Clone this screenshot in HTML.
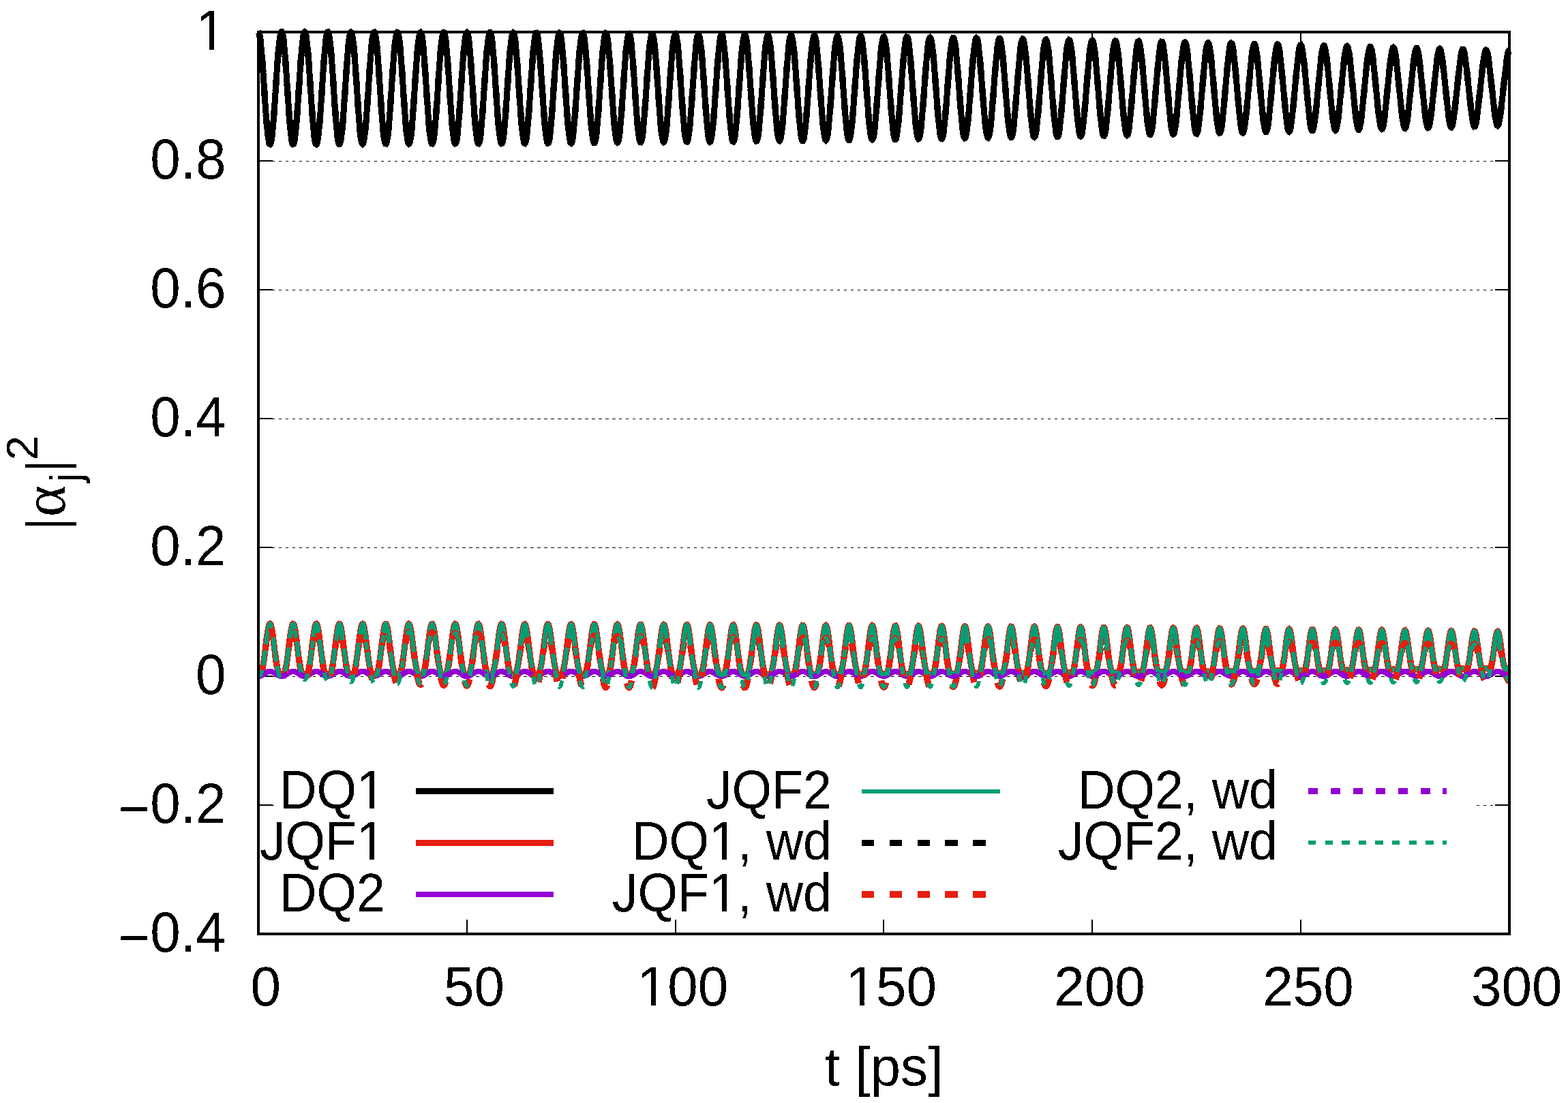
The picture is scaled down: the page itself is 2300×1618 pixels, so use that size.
<!DOCTYPE html>
<html lang="en"><head><meta charset="utf-8">
<style>
html,body{margin:0;padding:0;background:#fff;}
body{width:2300px;height:1618px;overflow:hidden;}
svg{display:block;}
text{font-family:"Liberation Sans", sans-serif;fill:#000;}
.tk{font-size:80px;}
.kl{font-size:75.3px;text-anchor:end;}
.cv{fill:none;stroke-linejoin:miter;stroke-miterlimit:10;stroke-linecap:butt;}
</style></head><body>
<svg width="2300" height="1618" viewBox="0 0 2300 1618">
<defs><filter id="crisp" x="-5%" y="-5%" width="110%" height="110%" color-interpolation-filters="sRGB"><feComponentTransfer><feFuncA type="discrete" tableValues="0 1"/></feComponentTransfer></filter><clipPath id="cp_t1" clipPathUnits="userSpaceOnUse"><path clip-rule="evenodd" d="M-3000-3000H3000V3000H-3000ZM-37.47 -5.83H-22.94V3.00H-37.47ZM-16.29 -5.83H-2.35V3.00H-16.29Z"/></clipPath><clipPath id="cp_t2" clipPathUnits="userSpaceOnUse"><path clip-rule="evenodd" d="M-3000-3000H3000V3000H-3000ZM-170.09 -52.95H-158.99V-45.87H-170.09ZM-37.47 -5.83H-22.94V3.00H-37.47ZM-16.29 -5.83H-2.35V3.00H-16.29Z"/></clipPath><clipPath id="cp_t4" clipPathUnits="userSpaceOnUse"><path clip-rule="evenodd" d="M-3000-3000H3000V3000H-3000ZM-170.09 -52.95H-158.99V-45.87H-170.09Z"/></clipPath><clipPath id="cp_t5" clipPathUnits="userSpaceOnUse"><path clip-rule="evenodd" d="M-3000-3000H3000V3000H-3000ZM-175.53 -5.83H-161.01V3.00H-175.53ZM-154.36 -5.83H-140.42V3.00H-154.36Z"/></clipPath><clipPath id="cp_t6" clipPathUnits="userSpaceOnUse"><path clip-rule="evenodd" d="M-3000-3000H3000V3000H-3000ZM-308.16 -52.95H-297.05V-45.87H-308.16ZM-175.53 -5.83H-161.01V3.00H-175.53ZM-154.36 -5.83H-140.42V3.00H-154.36Z"/></clipPath><clipPath id="cp_t8" clipPathUnits="userSpaceOnUse"><path clip-rule="evenodd" d="M-3000-3000H3000V3000H-3000ZM-308.16 -52.95H-297.05V-45.87H-308.16Z"/></clipPath><clipPath id="cp_t9" clipPathUnits="userSpaceOnUse"><path clip-rule="evenodd" d="M-3000-3000H3000V3000H-3000ZM-39.81 -6.18H-24.38V3.00H-39.81ZM-17.31 -6.18H-2.50V3.00H-17.31Z"/></clipPath><clipPath id="cp_t19" clipPathUnits="userSpaceOnUse"><path clip-rule="evenodd" d="M-3000-3000H3000V3000H-3000ZM-62.05 -6.18H-46.62V3.00H-62.05ZM-39.55 -6.18H-24.75V3.00H-39.55Z"/></clipPath><clipPath id="cp_t20" clipPathUnits="userSpaceOnUse"><path clip-rule="evenodd" d="M-3000-3000H3000V3000H-3000ZM-62.05 -6.18H-46.62V3.00H-62.05ZM-39.55 -6.18H-24.75V3.00H-39.55Z"/></clipPath></defs>
<rect x="0" y="0" width="2300" height="1618" fill="#fff"/>
<g id="grid" stroke="#000" stroke-width="1" stroke-dasharray="4.4 5.583" shape-rendering="crispEdges">
<line x1="379" y1="236.5" x2="2213" y2="236.5"/>
<line x1="379" y1="425.5" x2="2213" y2="425.5"/>
<line x1="379" y1="614.5" x2="2213" y2="614.5"/>
<line x1="379" y1="803.5" x2="2213" y2="803.5"/>
<line x1="379" y1="992.5" x2="2213" y2="992.5"/>
<line x1="379" y1="1181.5" x2="2213" y2="1181.5"/>
</g>
<g id="ticks" stroke="#000" stroke-width="2" shape-rendering="crispEdges">
<line x1="380" y1="236" x2="400" y2="236"/>
<line x1="2193" y1="236" x2="2213" y2="236"/>
<line x1="380" y1="425" x2="400" y2="425"/>
<line x1="2193" y1="425" x2="2213" y2="425"/>
<line x1="380" y1="614" x2="400" y2="614"/>
<line x1="2193" y1="614" x2="2213" y2="614"/>
<line x1="380" y1="803" x2="400" y2="803"/>
<line x1="2193" y1="803" x2="2213" y2="803"/>
<line x1="380" y1="992" x2="400" y2="992"/>
<line x1="2193" y1="992" x2="2213" y2="992"/>
<line x1="380" y1="1181" x2="400" y2="1181"/>
<line x1="2193" y1="1181" x2="2213" y2="1181"/>
<line x1="685" y1="1349" x2="685" y2="1369"/>
<line x1="685" y1="48" x2="685" y2="68"/>
<line x1="991" y1="1349" x2="991" y2="1369"/>
<line x1="991" y1="48" x2="991" y2="68"/>
<line x1="1296" y1="1349" x2="1296" y2="1369"/>
<line x1="1296" y1="48" x2="1296" y2="68"/>
<line x1="1602" y1="1349" x2="1602" y2="1369"/>
<line x1="1602" y1="48" x2="1602" y2="68"/>
<line x1="1908" y1="1349" x2="1908" y2="1369"/>
<line x1="1908" y1="48" x2="1908" y2="68"/>
</g>
<g id="curves" class="cv" shape-rendering="crispEdges">
<path id="cDQ1" d="M379 47l.61 .53 .61 1.56 .61 2.6 .62 3.58 .61 4.53 .61 5.42 .61 6.23 .61 6.97 .61 7.63 .62 8.17 .61 8.62 .61 8.96 .61 9.18 .61 9.28 .62 9.27 .61 9.14 .61 8.89 .61 8.53 .61 8.06 .61 7.48 .62 6.82 .61 6.05 .61 5.23 .61 4.32 .61 3.36 .61 2.37 .61 1.33 .62 .29 .61-.76 .61-1.8 .61-2.82 .61-3.8 .62-4.74 .61-5.6 .61-6.41 .61-7.13 .61-7.75 .61-8.28 .62-8.71 .61-9.02 .61-9.21 .61-9.29 .61-9.25 .61-9.1 .61-8.82 .62-8.43 .61-7.93 .61-7.34 .61-6.65 .61-5.88 .61-5.02 .62-4.11 .61-3.15 .61-2.13 .61-1.1 .61-.05 .62 .99 .61 2.04 .61 3.04 .61 4.02 .61 4.93 .61 5.8 .61 6.57 .62 7.28 .61 7.88 .61 8.38 .61 8.79 .61 9.07 .61 9.24 .62 9.29 .61 9.23 .61 9.04 .61 8.74 .61 8.32 .62 7.81 .61 7.2 .61 6.48 .61 5.69 .61 4.82 .61 3.89 .62 2.92 .61 1.91 .61 .86 .61-.18 .61-1.23 .61-2.27 .61-3.26 .62-4.23 .61-5.14 .61-5.97 .61-6.74 .61-7.42 .61-8 .62-8.49 .61-8.85 .61-9.12 .61-9.26 .61-9.28 .62-9.2 .61-8.98 .61-8.65 .61-8.22 .61-7.68 .61-7.04 .62-6.31 .61-5.49 .61-4.62 .61-3.68 .61-2.7 .61-1.67 .61-.63 .62 .42 .61 1.47 .61 2.49 .61 3.49 .61 4.44 .61 5.32 .62 6.16 .61 6.9 .61 7.56 .61 8.11 .61 8.58 .62 8.92 .61 9.16 .61 9.27 .61 9.27 .61 9.15 .61 8.92 .61 8.56 .62 8.11 .61 7.54 .61 6.88 .61 6.13 .61 5.3 .61 4.42 .62 3.46 .61 2.46 .61 1.44 .61 .39 .61-.65 .62-1.7 .61-2.72 .61-3.71 .61-4.64 .61-5.52 .61-6.33 .62-7.05 .61-7.69 .61-8.23 .61-8.66 .61-8.98 .61-9.19 .61-9.28 .62-9.25 .61-9.11 .61-8.84 .61-8.46 .61-7.99 .61-7.39 .62-6.72 .61-5.95 .61-5.11 .61-4.2 .61-3.24 .62-2.24 .61-1.2 .61-.16 .61 .89 .61 1.93 .61 2.95 .62 3.92 .61 4.84 .61 5.71 .61 6.5 .61 7.2 .61 7.82 .61 8.33 .62 8.74 .61 9.03 .61 9.22 .61 9.28 .61 9.22 .62 9.05 .61 8.77 .61 8.36 .61 7.86 .61 7.25 .61 6.55 .62 5.76 .61 4.91 .61 3.99 .61 3.02 .61 2 .61 .97 .61-.08 .62-1.13 .61-2.16 .61-3.17 .61-4.13 .61-5.04 .61-5.89 .62-6.66 .61-7.35 .61-7.94 .61-8.43 .61-8.81 .62-9.08 .61-9.24 .61-9.27 .61-9.19 .61-8.99 .61-8.68 .61-8.25 .62-7.73 .61-7.1 .61-6.37 .61-5.58 .61-4.71 .62-3.77 .61-2.79 .61-1.78 .61-.73 .61 .32 .61 1.36 .61 2.39 .62 3.39 .61 4.34 .61 5.24 .61 6.07 .61 6.82 .61 7.48 .62 8.06 .61 8.52 .61 8.88 .61 9.12 .61 9.24 .62 9.26 .61 9.15 .61 8.93 .61 8.59 .61 8.14 .61 7.58 .61 6.94 .62 6.21 .61 5.38 .61 4.5 .61 3.56 .61 2.56 .62 1.54 .61 .5 .61-.55 .61-1.6 .61-2.62 .61-3.6 .62-4.55 .61-5.43 .61-6.24 .61-6.98 .61-7.62 .61-8.16 .61-8.61 .62-8.93 .61-9.15 .61-9.26 .61-9.24 .61-9.1 .62-8.85 .61-8.49 .61-8.02 .61-7.45 .61-6.78 .61-6.02 .62-5.19 .61-4.29 .61-3.34 .61-2.33 .61-1.31 .61-.26 .61 .79 .62 1.82 .61 2.85 .61 3.82 .61 4.75 .61 5.62 .62 6.41 .61 7.13 .61 7.74 .61 8.27 .61 8.68 .61 8.99 .62 9.18 .61 9.25 .61 9.21 .61 9.05 .61 8.78 .61 8.39 .61 7.89 .62 7.3 .61 6.61 .61 5.84 .61 4.99 .61 4.08 .62 3.11 .61 2.11 .61 1.07 .61 .03 .61-1.03 .61-2.05 .61-3.07 .62-4.04 .61-4.95 .61-5.8 .61-6.57 .61-7.27 .61-7.87 .62-8.36 .61-8.76 .61-9.03 .61-9.2 .61-9.25 .62-9.17 .61-8.99 .61-8.69 .61-8.28 .61-7.77 .61-7.15 .61-6.44 .62-5.65 .61-4.79 .61-3.87 .61-2.88 .61-1.88 .61-.84 .62 .22 .61 1.25 .61 2.29 .61 3.29 .61 4.24 .62 5.15 .61 5.98 .61 6.74 .61 7.4 .61 7.99 .61 8.45 .61 8.82 .62 9.07 .61 9.21 .61 9.23 .61 9.14 .61 8.93 .61 8.6 .62 8.16 .61 7.63 .61 7 .61 6.26 .61 5.47 .62 4.58 .61 3.65 .61 2.66 .61 1.64 .61 .6 .61-.45 .61-1.49 .62-2.51 .61-3.51 .61-4.45 .61-5.34 .61-6.15 .62-6.89 .61-7.54 .61-8.09 .61-8.54 .61-8.88 .61-9.1 .62-9.22 .61-9.21 .61-9.09 .61-8.85 .61-8.51 .61-8.05 .61-7.49 .62-6.83 .61-6.09 .61-5.27 .61-4.37 .61-3.43 .62-2.43 .61-1.41 .61-.37 .61 .69 .61 1.72 .61 2.74 .61 3.72 .62 4.66 .61 5.52 .61 6.32 .61 7.05 .61 7.66 .62 8.19 .61 8.62 .61 8.93 .61 9.13 .61 9.22 .61 9.18 .62 9.04 .61 8.77 .61 8.41 .61 7.92 .61 7.34 .61 6.67 .61 5.91 .62 5.07 .61 4.16 .61 3.21 .61 2.21 .61 1.17 .62 .13 .61-.92 .61-1.96 .61-2.96 .61-3.93 .61-4.86 .62-5.71 .61-6.48 .61-7.19 .61-7.78 .61-8.29 .61-8.69 .61-8.98 .62-9.15 .61-9.2 .61-9.15 .61-8.98 .61-8.69 .62-8.3 .61-7.79 .61-7.2 .61-6.5 .61-5.72 .61-4.87 .62-3.95 .61-2.98 .61-1.98 .61-.94 .61 .11 .61 1.16 .61 2.18 .62 3.19 .61 4.14 .61 5.05 .61 5.89 .61 6.64 .62 7.32 .61 7.91 .61 8.38 .61 8.75 .61 9.01 .61 9.16 .61 9.19 .62 9.11 .61 8.92 .61 8.6 .61 8.18 .61 7.66 .61 7.04 .62 6.33 .61 5.53 .61 4.67 .61 3.73 .61 2.76 .62 1.74 .61 .71 .61-.35 .61-1.38 .61-2.41 .61-3.41 .61-4.35 .62-5.24 .61-6.06 .61-6.8 .61-7.46 .61-8.01 .61-8.46 .62-8.81 .61-9.04 .61-9.17 .61-9.17 .61-9.07 .62-8.84 .61-8.5 .61-8.07 .61-7.52 .61-6.88 .61-6.15 .61-5.34 .62-4.46 .61-3.52 .61-2.53 .61-1.51 .61-.47 .61 .58 .62 1.62 .61 2.64 .61 3.62 .61 4.55 .61 5.43 .62 6.23 .61 6.95 .61 7.58 .61 8.11 .61 8.54 .61 8.86 .62 9.07 .61 9.17 .61 9.14 .61 9.01 .61 8.77 .61 8.4 .61 7.95 .62 7.37 .61 6.72 .61 5.97 .61 5.14 .61 4.25 .61 3.3 .62 2.31 .61 1.27 .61 .24 .61-.82 .61-1.85 .62-2.86 .61-3.84 .61-4.75 .61-5.61 .61-6.39 .61-7.1 .61-7.7 .62-8.2 .61-8.61 .61-8.91 .61-9.09 .61-9.15 .61-9.11 .62-8.96 .61-8.68 .61-8.3 .61-7.81 .61-7.23 .62-6.55 .61-5.79 .61-4.94 .61-4.04 .61-3.08 .61-2.07 .62-1.04 .61 0 .61 1.05 .61 2.08 .61 3.08 .61 4.05 .61 4.95 .62 5.79 .61 6.55 .61 7.23 .61 7.81 .61 8.3 .62 8.67 .61 8.94 .61 9.1 .61 9.14 .61 9.08 .61 8.88 .62 8.6 .61 8.18 .61 7.69 .61 7.07 .61 6.38 .61 5.6 .61 4.74 .62 3.83 .61 2.85 .61 1.84 .61 .81 .61-.24 .62-1.28 .61-2.31 .61-3.3 .61-4.25 .61-5.14 .61-5.97 .62-6.7 .61-7.36 .61-7.92 .61-8.38 .61-8.73 .61-8.98 .61-9.1 .62-9.12 .61-9.02 .61-8.82 .61-8.5 .61-8.07 .62-7.55 .61-6.92 .61-6.2 .61-5.41 .61-4.54 .61-3.6 .61-2.63 .62-1.61 .61-.57 .61 .47 .61 1.52 .61 2.53 .61 3.52 .62 4.45 .61 5.33 .61 6.13 .61 6.86 .61 7.48 .62 8.02 .61 8.46 .61 8.78 .61 9 .61 9.1 .61 9.09 .61 8.97 .62 8.74 .61 8.4 .61 7.95 .61 7.41 .61 6.75 .61 6.03 .62 5.21 .61 4.33 .61 3.39 .61 2.4 .61 1.38 .62 .34 .61-.71 .61-1.75 .61-2.76 .61-3.73 .61-4.65 .61-5.51 .62-6.3 .61-6.99 .61-7.61 .61-8.11 .61-8.53 .61-8.82 .62-9.02 .61-9.09 .61-9.06 .61-8.91 .61-8.66 .62-8.29 .61-7.83 .61-7.26 .61-6.59 .61-5.84 .61-5.02 .62-4.12 .61-3.17 .61-2.17 .61-1.14 .61-.1 .61 .94 .62 1.98 .61 2.98 .61 3.94 .61 4.84 .61 5.69 .61 6.46 .62 7.13 .61 7.72 .61 8.2 .61 8.59 .61 8.86 .61 9.02 .61 9.08 .62 9.02 .61 8.85 .61 8.57 .61 8.18 .61 7.7 .61 7.1 .62 6.43 .61 5.66 .61 4.81 .61 3.91 .61 2.95 .61 1.94 .62 .91 .61-.14 .61-1.18 .61-2.2 .61-3.2 .62-4.14 .61-5.04 .61-5.87 .61-6.6 .61-7.26 .61-7.83 .62-8.28 .61-8.64 .61-8.89 .61-9.03 .61-9.06 .61-8.97 .61-8.78 .62-8.48 .61-8.07 .61-7.56 .61-6.95 .61-6.25 .62-5.47 .61-4.62 .61-3.69 .61-2.72 .61-1.71 .61-.67 .62 .37 .61 1.41 .61 2.43 .61 3.41 .61 4.35 .61 5.23 .61 6.03 .62 6.75 .61 7.39 .61 7.92 .61 8.36 .61 8.69 .62 8.91 .61 9.03 .61 9.03 .61 8.92 .61 8.7 .61 8.38 .62 7.95 .61 7.42 .61 6.79 .61 6.08 .61 5.28 .61 4.41 .61 3.47 .62 2.49 .61 1.48 .61 .44 .61-.6 .61-1.64 .62-2.66 .61-3.62 .61-4.55 .61-5.41 .61-6.19 .61-6.9 .61-7.5 .62-8.02 .61-8.43 .61-8.73 .61-8.93 .61-9.01 .61-9 .62-8.86 .61-8.63 .61-8.27 .61-7.83 .61-7.27 .62-6.63 .61-5.9 .61-5.08 .61-4.2 .61-3.26 .61-2.26 .61-1.25 .62-.2 .61 .84 .61 1.87 .61 2.87 .61 3.84 .61 4.74 .62 5.59 .61 6.35 .61 7.03 .61 7.61 .61 8.11 .62 8.48 .61 8.77 .61 8.94 .61 9 .61 8.96 .61 8.8 .61 8.53 .62 8.17 .61 7.7 .61 7.13 .61 6.46 .61 5.71 .61 4.89 .62 3.98 .61 3.04 .61 2.04 .61 1.01 .61-.03 .62-1.08 .61-2.09 .61-3.1 .61-4.04 .61-4.93 .61-5.76 .62-6.5 .61-7.16 .61-7.72 .61-8.18 .61-8.55 .61-8.79 .61-8.94 .62-8.98 .61-8.91 .61-8.73 .61-8.45 .61-8.06 .61-7.56 .62-6.97 .61-6.3 .61-5.52 .61-4.69 .61-3.77 .62-2.81 .61-1.81 .61-.78 .61 .27 .61 1.3 .61 2.33 .61 3.31 .62 4.24 .61 5.12 .61 5.93 .61 6.65 .61 7.28 .61 7.81 .62 8.26 .61 8.59 .61 8.82 .61 8.94 .61 8.95 .61 8.86 .62 8.65 .61 8.35 .61 7.94 .61 7.42 .61 6.82 .62 6.12 .61 5.34 .61 4.48 .61 3.56 .61 2.58 .61 1.58 .61 .54 .62-.5 .61-1.53 .61-2.55 .61-3.52 .61-4.45 .62-5.3 .61-6.09 .61-6.78 .61-7.4 .61-7.91 .61-8.32 .62-8.63 .61-8.83 .61-8.93 .61-8.92 .61-8.8 .61-8.58 .61-8.25 .62-7.81 .61-7.28 .61-6.66 .61-5.94 .61-5.15 .62-4.27 .61-3.34 .61-2.36 .61-1.35 .61-.3 .61 .73 .62 1.76 .61 2.77 .61 3.73 .61 4.64 .61 5.48 .61 6.24 .61 6.92 .62 7.51 .61 8 .61 8.38 .61 8.66 .61 8.84 .62 8.92 .61 8.87 .61 8.74 .61 8.49 .61 8.14 .61 7.69 .61 7.14 .62 6.49 .61 5.76 .61 4.95 .61 4.07 .61 3.12 .61 2.13 .62 1.11 .61 .08 .61-.97 .61-1.99 .61-2.99 .62-3.94 .61-4.82 .61-5.65 .61-6.4 .61-7.05 .61-7.61 .61-8.07 .62-8.43 .61-8.69 .61-8.85 .61-8.89 .61-8.83 .61-8.67 .62-8.4 .61-8.03 .61-7.56 .61-6.99 .61-6.32 .62-5.58 .61-4.75 .61-3.85 .61-2.9 .61-1.91 .61-.87 .61 .16 .62 1.2 .61 2.21 .61 3.21 .61 4.13 .61 5.02 .62 5.81 .61 6.54 .61 7.17 .61 7.71 .61 8.14 .61 8.48 .62 8.71 .61 8.84 .61 8.87 .61 8.78 .61 8.59 .61 8.31 .61 7.91 .62 7.43 .61 6.83 .61 6.15 .61 5.39 .61 4.55 .62 3.64 .61 2.68 .61 1.67 .61 .65 .61-.4 .61-1.43 .62-2.44 .61-3.41 .61-4.34 .61-5.19 .61-5.98 .61-6.68 .61-7.28 .62-7.8 .61-8.2 .61-8.52 .61-8.73 .61-8.83 .62-8.83 .61-8.72 .61-8.52 .61-8.21 .61-7.79 .61-7.28 .61-6.68 .62-5.98 .61-5.2 .61-4.34 .61-3.43 .61-2.45 .61-1.44 .62-.41 .61 .63 .61 1.66 .61 2.66 .61 3.62 .62 4.53 .61 5.37 .61 6.13 .61 6.81 .61 7.39 .61 7.88 .61 8.27 .62 8.55 .61 8.73 .61 8.81 .61 8.79 .61 8.67 .62 8.43 .61 8.1 .61 7.67 .61 7.14 .61 6.52 .61 5.8 .62 5.01 .61 4.13 .61 3.21 .61 2.23 .61 1.21 .61 .17 .61-.86 .62-1.89 .61-2.88 .61-3.83 .61-4.72 .61-5.54 .62-6.28 .61-6.93 .61-7.49 .61-7.96 .61-8.31 .61-8.58 .62-8.73 .61-8.8 .61-8.74 .61-8.59 .61-8.35 .61-7.99 .61-7.54 .62-6.99 .61-6.36 .61-5.62 .61-4.81 .61-3.93 .62-2.98 .61-2 .61-.98 .61 .06 .61 1.09 .61 2.11 .62 3.1 .61 4.03 .61 4.9 .61 5.71 .61 6.42 .61 7.06 .61 7.58 .62 8.03 .61 8.36 .61 8.59 .61 8.73 .61 8.76 .62 8.7 .61 8.52 .61 8.25 .61 7.88 .61 7.41 .61 6.84 .61 6.18 .62 5.44 .61 4.61 .61 3.72 .61 2.76 .61 1.77 .61 .75 .62-.29 .61-1.33 .61-2.33 .61-3.31 .61-4.23 .62-5.08 .61-5.86 .61-6.57 .61-7.16 .61-7.68 .61-8.08 .62-8.4 .61-8.61 .61-8.72 .61-8.72 .61-8.64 .61-8.44 .62-8.16 .61-7.76 .61-7.27 .61-6.69 .61-6.01 .61-5.25 .62-4.41 .61-3.5 .61-2.54 .61-1.54 .61-.51 .61 .52 .61 1.55 .62 2.56 .61 3.51 .61 4.42 .61 5.26 .61 6.02 .61 6.69 .62 7.27 .61 7.76 .61 8.14 .61 8.43 .61 8.61 .61 8.7 .62 8.69 .61 8.57 .61 8.37 .61 8.05 .61 7.64 .62 7.13 .61 6.53 .61 5.83 .61 5.06 .61 4.21 .61 3.29 .62 2.31 .61 1.31 .61 .28 .61-.76 .61-1.78 .61-2.77 .61-3.72 .62-4.61 .61-5.42 .61-6.17 .61-6.81 .61-7.37 .61-7.83 .62-8.19 .61-8.46 .61-8.61 .61-8.68 .61-8.64 .61-8.51 .62-8.27 .61-7.95 .61-7.51 .61-6.99 .61-6.37 .61-5.66 .62-4.86 .61-4 .61-3.07 .61-2.09 .61-1.08 .62-.04 .61 .99 .61 2 .61 2.99 .61 3.92 .61 4.79 .62 5.59 .61 6.31 .61 6.93 .61 7.46 .61 7.9 .61 8.23 .61 8.47 .62 8.61 .61 8.65 .61 8.59 .61 8.44 .61 8.18 .62 7.83 .61 7.39 .61 6.84 .61 6.2 .61 5.48 .61 4.67 .61 3.79 .62 2.85 .61 1.86 .61 .84 .61-.19 .61-1.21 .61-2.23 .62-3.2 .61-4.12 .61-4.97 .61-5.75 .61-6.44 .62-7.04 .61-7.54 .61-7.96 .61-8.27 .61-8.48 .61-8.59 .62-8.62 .61-8.54 .61-8.36 .61-8.08 .61-7.72 .61-7.25 .61-6.69 .62-6.03 .61-5.3 .61-4.47 .61-3.58 .61-2.63 .62-1.63 .61-.61 .61 .42 .61 1.45 .61 2.44 .61 3.41 .61 4.31 .62 5.14 .61 5.9 .61 6.57 .61 7.15 .61 7.62 .61 8.01 .62 8.3 .61 8.48 .61 8.58 .61 8.57 .61 8.48 .62 8.28 .61 7.99 .61 7.6 .61 7.11 .61 6.53 .61 5.87 .62 5.1 .61 4.27 .61 3.37 .61 2.4 .61 1.41 .61 .37 .62-.65 .61-1.67 .61-2.66 .61-3.61 .61-4.5 .61-5.31 .62-6.05 .61-6.69 .61-7.24 .61-7.7 .61-8.05 .61-8.32 .61-8.49 .62-8.55 .61-8.53 .61-8.41 .61-8.19 .61-7.88 .61-7.48 .62-6.97 .61-6.38 .61-5.69 .61-4.91 .61-4.07 .62-3.15 .61-2.18 .61-1.17 .61-.15 .61 .89 .61 1.89 .62 2.88 .61 3.81 .61 4.68 .61 5.47 .61 6.19 .61 6.8 .61 7.33 .62 7.77 .61 8.09 .61 8.34 .61 8.47 .61 8.53 .62 8.47 .61 8.34 .61 8.11 .61 7.77 .61 7.35 .61 6.83 .61 6.21 .62 5.51 .61 4.73 .61 3.85 .61 2.94 .61 1.95 .61 .94 .62-.08 .61-1.11 .61-2.12 .61-3.09 .61-4.01 .61-4.85 .62-5.63 .61-6.32 .61-6.91 .61-7.42 .61-7.82 .62-8.13 .61-8.34 .61-8.46 .61-8.49 .61-8.42 .61-8.27 .62-8.01 .61-7.66 .61-7.22 .61-6.68 .61-6.05 .61-5.33 .61-4.52 .62-3.65 .61-2.71 .61-1.73 .61-.71 .61 .31 .62 1.34 .61 2.34 .61 3.3 .61 4.19 .61 5.03 .61 5.78 .61 6.45 .62 7.01 .61 7.49 .61 7.87 .61 8.16 .61 8.34 .61 8.44 .62 8.45 .61 8.37 .61 8.18 .61 7.91 .61 7.55 .62 7.08 .61 6.53 .61 5.88 .61 5.15 .61 4.33 .61 3.43 .62 2.49 .61 1.5 .61 .48 .61-.54 .61-1.57 .61-2.55 .61-3.5 .62-4.39 .61-5.19 .61-5.92 .61-6.57 .61-7.1 .62-7.56 .61-7.92 .61-8.17 .61-8.35 .61-8.41 .61-8.41 .61-8.29 .62-8.11 .61-7.81 .61-7.42 .61-6.95 .61-6.37 .61-5.71 .62-4.96 .61-4.13 .61-3.22 .61-2.27 .61-1.27 .62-.25 .61 .78 .61 1.79 .61 2.77 .61 3.7 .61 4.56 .62 5.35 .61 6.06 .61 6.68 .61 7.19 .61 7.63 .61 7.95 .62 8.19 .61 8.33 .61 8.39 .61 8.35 .61 8.23 .61 8.01 .61 7.71 .62 7.3 .61 6.8 .61 6.22 .61 5.54 .61 4.76 .62 3.93 .61 3.01 .61 2.04 .61 1.04 .61 .02 .61-1.01 .61-2.01 .62-2.98 .61-3.89 .61-4.74 .61-5.51 .61-6.19 .61-6.78 .62-7.28 .61-7.67 .61-7.98 .61-8.2 .61-8.32 .62-8.35 .61-8.3 .61-8.15 .61-7.92 .61-7.6 .61-7.17 .62-6.67 .61-6.05 .61-5.36 .61-4.57 .61-3.72 .61-2.79 .61-1.82 .62-.81 .61 .21 .61 1.24 .61 2.23 .61 3.18 .61 4.08 .62 4.91 .61 5.66 .61 6.31 .61 6.88 .61 7.35 .61 7.73 .62 8 .61 8.2 .61 8.3 .61 8.31 .61 8.24 .61 8.07 .62 7.83 .61 7.48 .61 7.04 .61 6.52 .61 5.89 .62 5.18 .61 4.38 .61 3.5 .61 2.58 .61 1.59 .61 .58 .62-.45 .61-1.45 .61-2.45 .61-3.39 .61-4.26 .61-5.08 .61-5.8 .62-6.43 .61-6.97 .61-7.41 .61-7.77 .61-8.02 .62-8.19 .61-8.27 .61-8.27 .61-8.17 .61-8 .61-7.72 .61-7.37 .62-6.91 .61-6.36 .61-5.73 .61-4.99 .61-4.18 .61-3.3 .62-2.35 .61-1.36 .61-.35 .61 .67 .61 1.68 .62 2.66 .61 3.58 .61 4.45 .61 5.23 .61 5.94 .61 6.54 .62 7.05 .61 7.48 .61 7.79 .61 8.04 .61 8.18 .61 8.24 .61 8.22 .62 8.1 .61 7.91 .61 7.62 .61 7.25 .61 6.77 .62 6.21 .61 5.55 .61 4.81 .61 3.98 .61 3.09 .61 2.13 .61 1.13 .62 .12 .61-.9 .61-1.9 .61-2.87 .61-3.78 .61-4.62 .62-5.39 .61-6.06 .61-6.64 .61-7.13 .61-7.53 .62-7.82 .61-8.04 .61-8.17 .61-8.2 .61-8.16 .61-8.04 .62-7.82 .61-7.51 .61-7.12 .61-6.63 .61-6.06 .61-5.38 .62-4.61 .61-3.78 .61-2.87 .61-1.91 .61-.9 .61 .11 .62 1.13 .61 2.12 .61 3.07 .61 3.97 .61 4.79 .61 5.53 .61 6.18 .62 6.74 .61 7.2 .61 7.57 .61 7.85 .61 8.04 .61 8.14 .62 8.16 .61 8.11 .61 7.95 .61 7.73 .61 7.4 .62 7 .61 6.49 .61 5.89 .61 5.2 .61 4.43 .61 3.57 .62 2.65 .61 1.68 .61 .68 .61-.34 .61-1.35 .61-2.34 .62-3.27 .61-4.15 .61-4.96 .61-5.67 .61-6.29 .61-6.83 .61-7.26 .62-7.61 .61-7.87 .61-8.03 .61-8.11 .61-8.12 .61-8.04 .62-7.88 .61-7.62 .61-7.3 .61-6.86 .61-6.34 .61-5.73 .62-5.02 .61-4.23 .61-3.37 .61-2.43 .61-1.45 .61-.45 .62 .57 .61 1.57 .61 2.55 .61 3.47 .61 4.33 .62 5.11 .61 5.8 .61 6.4 .61 6.91 .61 7.32 .61 7.64 .62 7.87 .61 8.02 .61 8.08 .61 8.07 .61 7.97 .61 7.79 .61 7.53 .62 7.18 .61 6.73 .61 6.19 .61 5.56 .61 4.84 .62 4.03 .61 3.16 .61 2.21 .61 1.23 .61 .22 .61-.8 .61-1.79 .62-2.76 .61-3.66 .61-4.5 .61-5.26 .61-5.93 .61-6.5 .62-6.98 .61-7.37 .61-7.67 .61-7.87 .61-8 .62-8.05 .61-8.01 .61-7.9 .61-7.71 .61-7.42 .61-7.05 .62-6.6 .61-6.04 .61-5.39 .61-4.65 .61-3.84 .61-2.94 .61-1.99 .62-1 .61 .01 .61 1.02 .61 2.01 .61 2.96 .62 3.85 .61 4.67 .61 5.4 .61 6.05 .61 6.59 .61 7.05 .62 7.41 .61 7.69 .61 7.87 .61 7.98 .61 8 .61 7.96 .61 7.82 .62 7.61 .61 7.32 .61 6.93 .61 6.46 .61 5.88 .62 5.22 .61 4.46 .61 3.63 .61 2.73 .61 1.77 .61 .77 .62-.24 .61-1.24 .61-2.23 .61-3.16 .61-4.03 .61-4.83 .61-5.54 .62-6.15 .61-6.68 .61-7.11 .61-7.45 .61-7.69 .62-7.87 .61-7.94 .61-7.96 .61-7.9 .61-7.74 .61-7.52 .62-7.21 .61-6.8 .61-6.31 .61-5.73 .61-5.04 .61-4.27 .61-3.43 .62-2.51 .61-1.54 .61-.55 .61 .47 .61 1.46 .61 2.44 .62 3.36 .61 4.2 .61 4.99 .61 5.67 .61 6.26 .62 6.75 .61 7.17 .61 7.47 .61 7.7 .61 7.85 .61 7.92 .61 7.9 .62 7.83 .61 7.66 .61 7.42 .61 7.1 .61 6.67 .61 6.17 .62 5.56 .61 4.86 .61 4.08 .61 3.22 .61 2.29 .62 1.32 .61 .32 .61-.69 .61-1.69 .61-2.64 .61-3.54 .61-4.38 .62-5.13 .61-5.8 .61-6.35 .61-6.83 .61-7.21 .61-7.5 .62-7.7 .61-7.83 .61-7.87 .61-7.86 .61-7.75 .62-7.58 .61-7.32 .61-6.98 .61-6.54 .61-6.02 .61-5.39 .61-4.68 .62-3.89 .61-3 .61-2.08 .61-1.09 .61-.09 .61 .91 .62 1.91 .61 2.84 .61 3.73 .61 4.55 .61 5.27 .62 5.91 .61 6.44 .61 6.89 .61 7.25 .61 7.51 .61 7.7 .61 7.8 .62 7.84 .61 7.79 .61 7.68 .61 7.49 .61 7.22 .61 6.86 .62 6.4 .61 5.87 .61 5.22 .61 4.5 .61 3.69 .62 2.79 .61 1.85 .61 .87 .61-.14 .61-1.13 .61-2.12 .62-3.04 .61-3.91 .61-4.71 .61-5.4 .61-6.02 .61-6.53 .61-6.94 .62-7.28 .61-7.52 .61-7.69 .61-7.77 .61-7.79 .62-7.73 .61-7.61 .61-7.39 .61-7.11 .61-6.74 .61-6.27 .62-5.71 .61-5.05 .61-4.31 .61-3.48 .61-2.59 .61-1.63 .61-.64 .62 .37 .61 1.35 .61 2.33 .61 3.24 .61 4.08 .62 4.86 .61 5.53 .61 6.12 .61 6.6 .61 7 .61 7.3 .62 7.53 .61 7.66 .61 7.74 .61 7.74 .61 7.67 .61 7.52 .61 7.3 .62 7 .61 6.61 .61 6.13 .61 5.55 .61 4.88 .62 4.12 .61 3.28 .61 2.37 .61 1.4 .61 .42 .61-.59 .62-1.58 .61-2.53 .61-3.42 .61-4.26 .61-5 .61-5.65 .61-6.21 .62-6.67 .61-7.04 .61-7.32 .61-7.52 .61-7.65 .62-7.7 .61-7.68 .61-7.6 .61-7.44 .61-7.21 .61-6.88 .62-6.48 .61-5.99 .61-5.39 .61-4.7 .61-3.92 .61-3.08 .61-2.15 .62-1.18 .61-.19 .61 .81 .61 1.79 .61 2.73 .61 3.62 .62 4.42 .61 5.13 .61 5.77 .61 6.29 .61 6.73 .62 7.08 .61 7.33 .61 7.52 .61 7.62 .61 7.65 .61 7.63 .61 7.52 .62 7.36 .61 7.1 .61 6.77 .61 6.35 .61 5.84 .61 5.22 .62 4.52 .61 3.73 .61 2.87 .61 1.93 .61 .96 .62-.04 .61-1.03 .61-2 .61-2.93 .61-3.79 .61-4.58 .61-5.27 .62-5.87 .61-6.37 .61-6.79 .61-7.1 .61-7.34 .61-7.5 .62-7.59 .61-7.6 .61-7.57 .61-7.45 .61-7.26 .62-7 .61-6.65 .61-6.22 .61-5.68 .61-5.06 .61-4.34 .61-3.53 .62-2.65 .61-1.72 .61-.73 .61 .26 .61 1.25 .61 2.21 .62 3.12 .61 3.97 .61 4.72 .61 5.4 .61 5.96 .62 6.45 .61 6.83 .61 7.12 .61 7.34 .61 7.48 .61 7.56 .62 7.55 .61 7.5 .61 7.37 .61 7.17 .61 6.9 .61 6.53 .61 6.08 .62 5.53 .61 4.89 .61 4.15 .61 3.33 .61 2.44 .62 1.49 .61 .51 .61-.48 .61-1.47 .61-2.42 .61-3.31 .62-4.13 .61-4.86 .61-5.52 .61-6.05 .61-6.51 .61-6.87 .61-7.14 .62-7.33 .61-7.46 .61-7.51 .61-7.5 .61-7.43 .62-7.29 .61-7.08 .61-6.78 .61-6.41 .61-5.94 .61-5.37 .62-4.72 .61-3.96 .61-3.13 .61-2.22 .61-1.27 .61-.29 .61 .71 .62 1.68 .61 2.61 .61 3.49 .61 4.3 .61 5 .62 5.62 .61 6.14 .61 6.57 .61 6.89 .61 7.15 .61 7.33 .62 7.42 .61 7.47 .61 7.44 .61 7.36 .61 7.21 .61 6.98 .61 6.67 .62 6.28 .61 5.8 .61 5.21 .61 4.54 .61 3.77 .61 2.92 .62 2.01 .61 1.05 .61 .06 .61-.92 .61-1.9 .62-2.81 .61-3.67 .61-4.44 .61-5.13 .61-5.73 .61-6.21 .61-6.61 .62-6.93 .61-7.15 .61-7.31 .61-7.39 .61-7.42 .61-7.38 .62-7.29 .61-7.11 .61-6.88 .61-6.56 .61-6.15 .62-5.65 .61-5.05 .61-4.36 .61-3.58 .61-2.71 .61-1.8 .61-.82 .62 .16 .61 1.14 .61 2.1 .61 3 .61 3.84 .61 4.6 .62 5.25 .61 5.82 .61 6.28 .61 6.66 .61 6.94 .62 7.15 .61 7.28 .61 7.36 .61 7.36 .61 7.32 .61 7.21 .61 7.03 .62 6.77 .61 6.45 .61 6.01 .61 5.5 .61 4.89 .61 4.18 .62 3.38 .61 2.5 .61 1.57 .61 .61 .61-.38 .62-1.36 .61-2.3 .61-3.19 .61-4.01 .61-4.73 .61-5.37 .61-5.9 .62-6.34 .61-6.69 .61-6.96 .61-7.14 .61-7.26 .61-7.31 .62-7.31 .61-7.25 .61-7.13 .61-6.93 .61-6.68 .62-6.32 .61-5.88 .61-5.35 .61-4.72 .61-3.99 .61-3.18 .62-2.29 .61-1.36 .61-.38 .61 .61 .61 1.57 .61 2.5 .61 3.37 .62 4.16 .61 4.86 .61 5.48 .61 5.98 .61 6.4 .62 6.71 .61 6.96 .61 7.13 .61 7.23 .61 7.26 .61 7.26 .62 7.18 .61 7.04 .61 6.84 .61 6.57 .61 6.2 .61 5.74 .61 5.2 .62 4.54 .61 3.81 .61 2.97 .61 2.08 .61 1.14 .62 .16 .61-.82 .61-1.78 .61-2.7 .61-3.54 .61-4.32 .62-4.99 .61-5.57 .61-6.05 .61-6.44 .61-6.74 .61-6.96 .61-7.11 .62-7.19 .61-7.22 .61-7.19 .61-7.11 .61-6.96 .62-6.74 .61-6.46 .61-6.07 .61-5.61 .61-5.03 .61-4.37 .62-3.61 .61-2.78 .61-1.86 .61-.92 .61 .07 .61 1.03 .61 1.99 .62 2.88 .61 3.71 .61 4.46 .61 5.11 .61 5.67 .62 6.11 .61 6.48 .61 6.75 .61 6.96 .61 7.08 .61 7.15 .62 7.17 .61 7.12 .61 7.04 .61 6.87 .61 6.65 .61 6.34 .61 5.94 .62 5.46 .61 4.88 .61 4.19 .61 3.42 .61 2.57 .61 1.65 .62 .69 .61-.28 .61-1.25 .61-2.19 .61-3.06 .62-3.88 .61-4.6 .61-5.22 .61-5.74 .61-6.18 .61-6.51 .61-6.76 .62-6.94 .61-7.05 .61-7.11 .61-7.11 .61-7.06 .61-6.95 .62-6.79 .61-6.54 .61-6.23 .61-5.81 .61-5.32 .62-4.71 .61-4.01 .61-3.22 .61-2.36 .61-1.43 .61-.48 .61 .5 .62 1.46 .61 2.39 .61 3.24 .61 4.03 .61 4.73 .61 5.32 .62 5.83 .61 6.22 .61 6.53 .61 6.76 .61 6.93 .62 7.01 .61 7.07 .61 7.05 .61 6.99 .61 6.87 .61 6.7 .61 6.44 .62 6.11 .61 5.68 .61 5.16 .61 4.55 .61 3.82 .61 3.03 .62 2.15 .61 1.21 .61 .26 .61-.72 .61-1.67 .62-2.57 .61-3.42 .61-4.18 .61-4.85 .61-5.42 .61-5.89 .62-6.26 .61-6.55 .61-6.76 .61-6.9 .61-6.98 .61-7.01 .61-6.99 .62-6.92 .61-6.8 .61-6.6 .61-6.33 .61-5.99 .62-5.54 .61-5.01 .61-4.38 .61-3.64 .61-2.82 .61-1.94 .62-1 .61-.03 .61 .93 .61 1.87 .61 2.76 .61 3.59 .61 4.32 .62 4.97 .61 5.5 .61 5.95 .61 6.3 .61 6.56 .62 6.75 .61 6.87 .61 6.94 .61 6.96 .61 6.92 .61 6.85 .62 6.71 .61 6.5 .61 6.23 .61 5.86 .61 5.41 .61 4.85 .61 4.2 .62 3.45 .61 2.63 .61 1.72 .61 .78 .61-.18 .62-1.14 .61-2.08 .61-2.94 .61-3.75 .61-4.45 .61-5.08 .62-5.58 .61-6 .61-6.33 .61-6.56 .61-6.73 .61-6.84 .61-6.9 .62-6.9 .61-6.86 .61-6.77 .61-6.62 .61-6.41 .61-6.11 .62-5.74 .61-5.27 .61-4.69 .61-4.03 .61-3.26 .62-2.41 .61-1.51 .61-.56 .61 .39 .61 1.36 .61 2.26 .61 3.12 .62 3.9 .61 4.59 .61 5.17 .61 5.66 .61 6.04 .61 6.34 .62 6.57 .61 6.71 .61 6.8 .61 6.85 .61 6.84 .62 6.79 .61 6.69 .61 6.54 .61 6.3 .61 6.01 .61 5.61 .61 5.12 .62 4.53 .61 3.85 .61 3.06 .61 2.21 .61 1.3 .61 .34 .62-.61 .61-1.56 .61-2.45 .61-3.3 .61-4.04 .62-4.71 .61-5.26 .61-5.72 .61-6.08 .61-6.36 .61-6.55 .61-6.69 .62-6.76 .61-6.8 .61-6.78 .61-6.72 .61-6.61 .61-6.44 .62-6.21 .61-5.89 .61-5.48 .61-4.97 .61-4.36 .62-3.67 .61-2.87 .61-2 .61-1.08 .61-.13 .61 .83 .61 1.76 .62 2.64 .61 3.46 .61 4.18 .61 4.82 .61 5.34 .61 5.78 .62 6.11 .61 6.36 .61 6.54 .61 6.66 .61 6.72 .62 6.74 .61 6.72 .61 6.65 .61 6.53 .61 6.35 .61 6.1 .62 5.77 .61 5.34 .61 4.82 .61 4.2 .61 3.48 .61 2.67 .61 1.79 .62 .87 .61-.09 .61-1.03 .61-1.96 .61-2.82 .62-3.62 .61-4.31 .61-4.92 .61-5.43 .61-5.82 .61-6.13 .62-6.37 .61-6.52 .61-6.62 .61-6.67 .61-6.69 .61-6.65 .61-6.57 .62-6.45 .61-6.25 .61-6 .61-5.65 .61-5.2 .62-4.67 .61-4.03 .61-3.29 .61-2.47 .61-1.58 .61-.65 .62 .3 .61 1.24 .61 2.15 .61 3 .61 3.76 .61 4.45 .61 5.01 .62 5.49 .61 5.87 .61 6.15 .61 6.35 .61 6.5 .62 6.58 .61 6.63 .61 6.62 .61 6.58 .61 6.5 .61 6.36 .62 6.16 .61 5.89 .61 5.52 .61 5.07 .61 4.51 .61 3.85 .61 3.1 .62 2.27 .61 1.37 .61 .43 .61-.51 .61-1.44 .62-2.34 .61-3.17 .61-3.9 .61-4.56 .61-5.11 .61-5.54 .62-5.9 .61-6.16 .61-6.35 .61-6.46 .61-6.55 .61-6.57 .61-6.56 .62-6.51 .61-6.42 .61-6.27 .61-6.07 .61-5.77 .61-5.4 .62-4.92 .61-4.35 .61-3.68 .61-2.9 .61-2.07 .62-1.15 .61-.22 .61 .72 .61 1.64 .61 2.52 .61 3.33 .61 4.04 .62 4.67 .61 5.18 .61 5.6 .61 5.93 .61 6.16 .61 6.33 .62 6.43 .61 6.5 .61 6.51 .61 6.5 .61 6.44 .62 6.34 .61 6.18 .61 5.97 .61 5.66 .61 5.27 .61 4.78 .61 4.18 .62 3.5 .61 2.71 .61 1.85 .61 .95 .61 .01 .61-.93 .62-1.84 .61-2.7 .61-3.48 .61-4.17 .61-4.77 .62-5.26 .61-5.64 .61-5.94 .61-6.16 .61-6.3 .61-6.4 .61-6.45 .62-6.45 .61-6.43 .61-6.37 .61-6.26 .61-6.1 .61-5.86 .62-5.54 .61-5.14 .61-4.63 .61-4.02 .61-3.31 .62-2.52 .61-1.64 .61-.74 .61 .21 .61 1.13 .61 2.03 .62 2.87 .61 3.63 .61 4.29 .61 4.86 .61 5.32 .61 5.68 .61 5.96 .62 6.14 .61 6.28 .61 6.36 .61 6.39 .61 6.4 .62 6.36 .61 6.29 .61 6.18 .61 6 .61 5.76 .61 5.43 .62 5 .61 4.48 .61 3.85 .61 3.12 .61 2.32 .61 1.44 .61 .52 .62-.41 .61-1.34 .61-2.21 .61-3.04 .61-3.77 .61-4.41 .62-4.94 .61-5.37 .61-5.71 .61-5.96 .61-6.13 .62-6.25 .61-6.31 .61-6.34 .61-6.33 .61-6.29 .61-6.22 .62-6.1 .61-5.91 .61-5.65 .61-5.3 .61-4.87 .61-4.32 .62-3.68 .61-2.93 .61-2.12 .61-1.23 .61-.31 .61 .62 .62 1.53 .61 2.4 .61 3.19 .61 3.91 .61 4.51 .61 5.02 .61 5.42 .62 5.73 .61 5.96 .61 6.11 .61 6.21 .61 6.26 .61 6.28 .62 6.27 .61 6.22 .61 6.15 .61 6 .61 5.82 .62 5.54 .61 5.18 .61 4.73 .61 4.16 .61 3.5 .61 2.75 .61 1.91 .62 1.02 .61 .1 .61-.82 .61-1.73 .61-2.57 .61-3.35 .62-4.03 .61-4.6 .61-5.09 .61-5.46 .61-5.75 .61-5.95 .62-6.08 .61-6.17 .61-6.21 .61-6.22 .61-6.2 .61-6.16 .62-6.06 .61-5.92 .61-5.72 .61-5.43 .61-5.05 .62-4.58 .61-4.01 .61-3.32 .61-2.55 .61-1.71 .61-.81 .62 .11 .61 1.02 .61 1.92 .61 2.74 .61 3.49 .61 4.14 .61 4.7 .62 5.15 .61 5.49 .61 5.76 .61 5.93 .61 6.05 .61 6.12 .62 6.16 .61 6.16 .61 6.14 .61 6.08 .61 5.98 .62 5.83 .61 5.62 .61 5.32 .61 4.93 .61 4.43 .61 3.84 .62 3.14 .61 2.35 .61 1.51 .61 .6 .61-.31 .61-1.23 .61-2.09 .62-2.91 .61-3.63 .61-4.25 .61-4.78 .61-5.2 .62-5.52 .61-5.75 .61-5.91 .61-6.02 .61-6.07 .61-6.1 .61-6.1 .62-6.07 .61-6.01 .61-5.9 .61-5.74 .61-5.52 .61-5.2 .62-4.79 .61-4.28 .61-3.67 .61-2.96 .61-2.16 .62-1.3 .61-.4 .61 .52 .61 1.42 .61 2.28 .61 3.06 .62 3.76 .61 4.35 .61 4.85 .61 5.24 .61 5.54 .61 5.75 .61 5.88 .62 5.98 .61 6.03 .61 6.04 .61 6.03 .61 6 .61 5.93 .62 5.82 .61 5.65 .61 5.41 .61 5.09 .61 4.65 .62 4.13 .61 3.5 .61 2.77 .61 1.97 .61 1.09 .61 .19 .62-.72 .61-1.61 .61-2.45 .61-3.21 .61-3.88 .61-4.45 .61-4.91 .62-5.28 .61-5.55 .61-5.73 .61-5.86 .61-5.93 .61-5.97 .62-5.98 .61-5.97 .61-5.93 .61-5.85 .61-5.74 .61-5.56 .62-5.3 .61-4.96 .61-4.52 .61-3.98 .61-3.32 .62-2.58 .61-1.77 .61-.88 .61 .01 .61 .92 .61 1.8 .62 2.61 .61 3.35 .61 4 .61 4.53 .61 4.97 .61 5.31 .62 5.54 .61 5.72 .61 5.82 .61 5.89 .61 5.91 .61 5.92 .62 5.9 .61 5.86 .61 5.78 .61 5.65 .61 5.46 .61 5.2 .61 4.83 .62 4.38 .61 3.82 .61 3.15 .61 2.39 .61 1.56 .61 .68 .62-.22 .61-1.11 .61-1.98 .61-2.77 .61-3.49 .62-4.1 .61-4.61 .61-5.02 .61-5.32 .61-5.54 .61-5.7 .62-5.78 .61-5.83 .61-5.86 .61-5.86 .61-5.83 .61-5.78 .61-5.7 .62-5.57 .61-5.36 .61-5.09 .61-4.71 .61-4.23 .61-3.65 .62-2.97 .61-2.2 .61-1.36 .61-.48 .61 .42 .61 1.31 .62 2.15 .61 2.92 .61 3.62 .61 4.19 .61 4.68 .61 5.06 .62 5.34 .61 5.53 .61 5.66 .61 5.74 .61 5.78 .61 5.8 .62 5.79 .61 5.76 .61 5.72 .61 5.62 .61 5.47 .62 5.27 .61 4.97 .61 4.58 .61 4.09 .61 3.48 .61 2.79 .62 2.01 .61 1.16 .61 .27 .61-.62 .61-1.49 .61-2.32 .62-3.07 .61-3.74 .61-4.28 .61-4.74 .61-5.09 .61-5.34 .62-5.52 .61-5.63 .61-5.69 .61-5.73 .61-5.73 .61-5.72 .62-5.7 .61-5.63 .61-5.54 .61-5.39 .61-5.17 .61-4.85 .61-4.45 .62-3.94 .61-3.31 .61-2.61 .61-1.81 .61-.95 .62-.07 .61 .81 .61 1.68 .61 2.48 .61 3.21 .61 3.84 .62 4.37 .61 4.79 .61 5.11 .61 5.34 .61 5.5 .61 5.59 .61 5.64 .62 5.67 .61 5.67 .61 5.65 .61 5.63 .61 5.56 .61 5.46 .62 5.3 .61 5.06 .61 4.73 .61 4.31 .61 3.79 .61 3.14 .62 2.42 .61 1.61 .61 .76 .61-.13 .61-1.01 .61-1.85 .62-2.64 .61-3.34 .61-3.94 .61-4.45 .61-4.83 .61-5.13 .62-5.33 .61-5.46 .61-5.55 .61-5.59 .61-5.61 .62-5.6 .61-5.59 .61-5.56 .61-5.48 .61-5.38 .61-5.2 .62-4.96 .61-4.61 .61-4.17 .61-3.63 .61-2.97 .61-2.23 .62-1.42 .61-.55 .61 .33 .61 1.19 .61 2.03 .61 2.79 .62 3.46 .61 4.04 .61 4.5 .61 4.87 .61 5.14 .61 5.31 .61 5.44 .62 5.5 .61 5.53 .61 5.54 .61 5.54 .61 5.53 .61 5.48 .62 5.41 .61 5.29 .61 5.11 .61 4.85 .61 4.49 .62 4.03 .61 3.46 .61 2.79 .61 2.04 .61 1.22 .61 .36 .61-.52 .62-1.38 .61-2.19 .61-2.94 .61-3.57 .61-4.13 .61-4.56 .62-4.89 .61-5.14 .61-5.3 .61-5.39 .61-5.45 .61-5.47 .62-5.48 .61-5.48 .61-5.45 .61-5.41 .61-5.33 .61-5.21 .62-5.01 .61-4.74 .61-4.36 .61-3.89 .61-3.29 .61-2.62 .62-1.85 .61-1.02 .61-.16" stroke="#000" stroke-width="9"/>
<path id="cJQF1" d="M379 992l.61-.08 .61-.26 .61-.45 .62-.66 .61-.91 .61-1.18 .61-1.5 .61-1.85 .61-2.23 .62-2.63 .61-3.04 .61-3.47 .61-3.85 .61-4.23 .62-4.54 .61-4.79 .61-4.96 .61-5.04 .61-5.01 .61-4.87 .62-4.61 .61-4.25 .61-3.78 .61-3.2 .61-2.54 .61-1.81 .61-1.03 .62-.23 .61 .59 .61 1.39 .61 2.15 .61 2.85 .62 3.47 .61 4 .61 4.43 .61 4.74 .61 4.95 .61 5.03 .62 5.02 .61 4.89 .61 4.69 .61 4.41 .61 4.06 .61 3.68 .61 3.28 .62 2.86 .61 2.44 .61 2.06 .61 1.68 .61 1.35 .61 1.06 .62 .79 .61 .56 .61 .36 .61 .18 .61 .01 .62-.16 .61-.35 .61-.54 .61-.76 .61-1.03 .61-1.32 .61-1.65 .62-2.02 .61-2.4 .61-2.82 .61-3.23 .61-3.64 .61-4.03 .62-4.37 .61-4.67 .61-4.87 .61-5.01 .61-5.04 .62-4.96 .61-4.77 .61-4.46 .61-4.05 .61-3.53 .61-2.91 .62-2.22 .61-1.47 .61-.67 .61 .15 .61 .95 .61 1.74 .61 2.47 .62 3.13 .61 3.72 .61 4.21 .61 4.59 .61 4.85 .61 5 .62 5.03 .61 4.98 .61 4.81 .61 4.56 .61 4.26 .62 3.9 .61 3.5 .61 3.08 .61 2.67 .61 2.27 .61 1.88 .62 1.53 .61 1.21 .61 .93 .61 .69 .61 .46 .61 .28 .61 .1 .62-.07 .61-.24 .61-.43 .61-.63 .61-.88 .61-1.15 .62-1.47 .61-1.81 .61-2.18 .61-2.59 .61-3 .62-3.42 .61-3.82 .61-4.19 .61-4.5 .61-4.77 .61-4.95 .61-5.03 .62-5.01 .61-4.89 .61-4.65 .61-4.29 .61-3.82 .61-3.26 .62-2.61 .61-1.89 .61-1.11 .61-.31 .61 .51 .62 1.31 .61 2.08 .61 2.78 .61 3.41 .61 3.95 .61 4.39 .62 4.72 .61 4.93 .61 5.03 .61 5.02 .61 4.91 .61 4.7 .61 4.44 .62 4.09 .61 3.72 .61 3.32 .61 2.89 .61 2.49 .61 2.08 .62 1.72 .61 1.38 .61 1.08 .61 .81 .61 .58 .62 .38 .61 .2 .61 .02 .61-.14 .61-.33 .61-.51 .62-.74 .61-1 .61-1.28 .61-1.62 .61-1.97 .61-2.36 .61-2.77 .62-3.19 .61-3.6 .61-3.98 .61-4.34 .61-4.63 .62-4.86 .61-4.99 .61-5.04 .61-4.97 .61-4.79 .61-4.5 .62-4.09 .61-3.58 .61-2.98 .61-2.29 .61-1.55 .61-.75 .61 .07 .62 .87 .61 1.66 .61 2.4 .61 3.07 .61 3.67 .61 4.16 .62 4.55 .61 4.83 .61 4.99 .61 5.03 .61 4.98 .62 4.83 .61 4.59 .61 4.29 .61 3.92 .61 3.54 .61 3.12 .61 2.71 .62 2.3 .61 1.91 .61 1.56 .61 1.23 .61 .95 .62 .7 .61 .49 .61 .29 .61 .12 .61-.05 .61-.22 .61-.41 .62-.61 .61-.85 .61-1.12 .61-1.42 .61-1.77 .61-2.14 .62-2.54 .61-2.95 .61-3.37 .61-3.77 .61-4.14 .62-4.48 .61-4.74 .61-4.92 .61-5.03 .61-5.02 .61-4.9 .61-4.68 .62-4.32 .61-3.88 .61-3.32 .61-2.68 .61-1.96 .62-1.19 .61-.39 .61 .43 .61 1.23 .61 2 .61 2.71 .62 3.36 .61 3.9 .61 4.35 .61 4.69 .61 4.91 .61 5.03 .61 5.02 .62 4.92 .61 4.73 .61 4.45 .61 4.13 .61 3.75 .62 3.34 .61 2.93 .61 2.52 .61 2.11 .61 1.75 .61 1.4 .62 1.1 .61 .83 .61 .59 .61 .4 .61 .21 .61 .04 .61-.13 .62-.3 .61-.49 .61-.71 .61-.96 .61-1.25 .62-1.56 .61-1.93 .61-2.31 .61-2.72 .61-3.13 .61-3.55 .62-3.93 .61-4.3 .61-4.6 .61-4.83 .61-4.98 .61-5.03 .61-4.98 .62-4.82 .61-4.53 .61-4.14 .61-3.64 .61-3.04 .62-2.37 .61-1.62 .61-.83 .61-.02 .61 .8 .61 1.58 .61 2.33 .62 3.01 .61 3.62 .61 4.11 .61 4.52 .61 4.81 .61 4.97 .62 5.04 .61 4.99 .61 4.84 .61 4.61 .61 4.31 .62 3.95 .61 3.57 .61 3.15 .61 2.73 .61 2.33 .61 1.93 .61 1.58 .62 1.25 .61 .97 .61 .72 .61 .49 .61 .31 .61 .13 .62-.03 .61-.2 .61-.39 .61-.58 .61-.81 .62-1.08 .61-1.37 .61-1.72 .61-2.08 .61-2.49 .61-2.89 .61-3.32 .62-3.72 .61-4.09 .61-4.44 .61-4.71 .61-4.9 .61-5.02 .62-5.02 .61-4.92 .61-4.7 .61-4.37 .61-3.93 .62-3.39 .61-2.75 .61-2.03 .61-1.27 .61-.47 .61 .35 .61 1.15 .62 1.93 .61 2.65 .61 3.29 .61 3.86 .61 4.31 .62 4.67 .61 4.89 .61 5.02 .61 5.03 .61 4.93 .61 4.74 .62 4.48 .61 4.15 .61 3.77 .61 3.38 .61 2.95 .61 2.54 .61 2.13 .62 1.76 .61 1.42 .61 1.11 .61 .84 .61 .61 .62 .4 .61 .22 .61 .06 .61-.11 .61-.27 .61-.47 .61-.67 .62-.92 .61-1.2 .61-1.51 .61-1.87 .61-2.25 .62-2.65 .61-3.08 .61-3.48 .61-3.89 .61-4.25 .61-4.56 .62-4.8 .61-4.97 .61-5.03 .61-4.99 .61-4.84 .61-4.57 .61-4.19 .62-3.7 .61-3.11 .61-2.44 .61-1.7 .61-.91 .62-.1 .61 .71 .61 1.51 .61 2.26 .61 2.96 .61 3.56 .62 4.08 .61 4.49 .61 4.78 .61 4.97 .61 5.04 .61 4.99 .61 4.86 .62 4.62 .61 4.34 .61 3.97 .61 3.59 .61 3.17 .62 2.75 .61 2.35 .61 1.95 .61 1.59 .61 1.26 .61 .97 .62 .72 .61 .51 .61 .31 .61 .15 .61-.02 .61-.18 .61-.35 .62-.55 .61-.77 .61-1.03 .61-1.32 .61-1.65 .62-2.02 .61-2.42 .61-2.83 .61-3.25 .61-3.66 .61-4.04 .61-4.39 .62-4.68 .61-4.88 .61-5.01 .61-5.03 .61-4.94 .61-4.73 .62-4.42 .61-3.98 .61-3.45 .61-2.82 .61-2.12 .62-1.35 .61-.55 .61 .26 .61 1.08 .61 1.86 .61 2.58 .61 3.25 .62 3.81 .61 4.28 .61 4.65 .61 4.88 .61 5.01 .61 5.03 .62 4.95 .61 4.76 .61 4.49 .61 4.17 .61 3.8 .62 3.39 .61 2.97 .61 2.55 .61 2.14 .61 1.77 .61 1.42 .61 1.12 .62 .84 .61 .61 .61 .41 .61 .23 .61 .07 .61-.09 .62-.25 .61-.43 .61-.63 .61-.87 .61-1.14 .62-1.45 .61-1.8 .61-2.18 .61-2.58 .61-3.01 .61-3.42 .62-3.82 .61-4.2 .61-4.52 .61-4.78 .61-4.95 .61-5.03 .61-5 .62-4.86 .61-4.62 .61-4.24 .61-3.76 .61-3.18 .61-2.52 .62-1.78 .61-1 .61-.19 .61 .64 .61 1.44 .62 2.2 .61 2.89 .61 3.52 .61 4.05 .61 4.46 .61 4.77 .61 4.96 .62 5.04 .61 5.01 .61 4.86 .61 4.65 .61 4.35 .61 3.99 .62 3.61 .61 3.18 .61 2.76 .61 2.35 .61 1.95 .62 1.59 .61 1.26 .61 .97 .61 .72 .61 .51 .61 .32 .62 .15 .61 0 .61-.16 .61-.32 .61-.5 .61-.72 .61-.97 .62-1.26 .61-1.58 .61-1.95 .61-2.34 .61-2.75 .62-3.17 .61-3.6 .61-3.98 .61-4.34 .61-4.64 .61-4.86 .62-5 .61-5.04 .61-4.96 .61-4.77 .61-4.47 .61-4.04 .61-3.52 .62-2.91 .61-2.2 .61-1.43 .61-.64 .61 .19 .62 1 .61 1.79 .61 2.53 .61 3.2 .61 3.77 .61 4.26 .62 4.62 .61 4.88 .61 5.02 .61 5.04 .61 4.95 .61 4.78 .61 4.51 .62 4.19 .61 3.81 .61 3.4 .61 2.97 .61 2.55 .62 2.15 .61 1.76 .61 1.41 .61 1.11 .61 .83 .61 .61 .61 .4 .62 .24 .61 .08 .61-.07 .61-.22 .61-.39 .61-.58 .62-.81 .61-1.07 .61-1.38 .61-1.72 .61-2.09 .62-2.5 .61-2.93 .61-3.34 .61-3.76 .61-4.14 .61-4.47 .61-4.75 .62-4.93 .61-5.03 .61-5.02 .61-4.9 .61-4.66 .61-4.3 .62-3.84 .61-3.26 .61-2.6 .61-1.87 .61-1.08 .62-.27 .61 .56 .61 1.36 .61 2.14 .61 2.85 .61 3.48 .61 4.02 .62 4.44 .61 4.77 .61 4.96 .61 5.05 .61 5.01 .61 4.89 .62 4.66 .61 4.36 .61 4.01 .61 3.61 .61 3.19 .62 2.76 .61 2.34 .61 1.95 .61 1.57 .61 1.25 .61 .95 .62 .71 .61 .49 .61 .32 .61 .16 .61 .01 .61-.13 .62-.29 .61-.46 .61-.66 .61-.9 .61-1.17 .61-1.5 .62-1.86 .61-2.25 .61-2.66 .61-3.09 .61-3.52 .61-3.92 .61-4.28 .62-4.6 .61-4.84 .61-4.99 .61-5.04 .61-4.99 .61-4.82 .62-4.52 .61-4.12 .61-3.6 .61-2.99 .61-2.28 .61-1.53 .62-.72 .61 .1 .61 .93 .61 1.73 .61 2.47 .62 3.16 .61 3.74 .61 4.24 .61 4.62 .61 4.88 .61 5.02 .62 5.05 .61 4.97 .61 4.8 .61 4.53 .61 4.19 .61 3.82 .61 3.4 .62 2.98 .61 2.54 .61 2.13 .61 1.74 .61 1.4 .62 1.08 .61 .81 .61 .59 .61 .39 .61 .24 .61 .08 .62-.05 .61-.19 .61-.34 .61-.53 .61-.74 .61-.99 .61-1.29 .62-1.62 .61-2 .61-2.41 .61-2.83 .61-3.25 .62-3.68 .61-4.08 .61-4.42 .61-4.71 .61-4.92 .61-5.04 .62-5.04 .61-4.94 .61-4.71 .61-4.37 .61-3.91 .61-3.35 .61-2.69 .62-1.96 .61-1.17 .61-.36 .61 .48 .61 1.3 .62 2.08 .61 2.81 .61 3.44 .61 4 .61 4.44 .61 4.76 .61 4.97 .62 5.06 .61 5.03 .61 4.91 .61 4.67 .61 4.38 .61 4.02 .62 3.61 .61 3.19 .61 2.75 .61 2.32 .61 1.92 .62 1.55 .61 1.21 .61 .93 .61 .68 .61 .48 .61 .3 .61 .16 .62 .02 .61-.1 .61-.25 .61-.4 .61-.6 .61-.82 .62-1.09 .61-1.4 .61-1.75 .61-2.15 .61-2.56 .62-2.99 .61-3.43 .61-3.84 .61-4.23 .61-4.55 .61-4.82 .61-4.98 .62-5.06 .61-5.02 .61-4.87 .61-4.58 .61-4.2 .61-3.68 .62-3.08 .61-2.39 .61-1.62 .61-.81 .61 .03 .62 .85 .61 1.67 .61 2.42 .61 3.12 .61 3.73 .61 4.22 .62 4.62 .61 4.89 .61 5.03 .61 5.07 .61 4.99 .61 4.81 .61 4.55 .62 4.21 .61 3.82 .61 3.39 .61 2.96 .61 2.53 .61 2.1 .62 1.71 .61 1.36 .61 1.05 .61 .78 .61 .56 .62 .37 .61 .22 .61 .09 .61-.03 .61-.16 .61-.29 .61-.47 .62-.66 .61-.9 .61-1.19 .61-1.52 .61-1.89 .61-2.29 .62-2.72 .61-3.16 .61-3.6 .61-4 .61-4.37 .61-4.67 .62-4.91 .61-5.04 .61-5.06 .61-4.98 .61-4.78 .62-4.44 .61-4 .61-3.44 .61-2.79 .61-2.06 .61-1.26 .61-.44 .62 .4 .61 1.23 .61 2.03 .61 2.76 .61 3.42 .62 3.98 .61 4.44 .61 4.77 .61 4.99 .61 5.07 .61 5.06 .62 4.92 .61 4.7 .61 4.39 .61 4.02 .61 3.61 .61 3.17 .61 2.73 .62 2.29 .61 1.89 .61 1.51 .61 1.17 .61 .89 .62 .64 .61 .45 .61 .28 .61 .15 .61 .03 .61-.08 .62-.2 .61-.35 .61-.52 .61-.73 .61-.99 .61-1.29 .61-1.64 .62-2.03 .61-2.45 .61-2.88 .61-3.33 .61-3.76 .62-4.16 .61-4.5 .61-4.79 .61-4.98 .61-5.07 .61-5.06 .61-4.92 .62-4.66 .61-4.28 .61-3.78 .61-3.17 .61-2.49 .61-1.72 .62-.9 .61-.06 .61 .78 .61 1.61 .61 2.38 .62 3.08 .61 3.71 .61 4.22 .61 4.63 .61 4.9 .61 5.06 .61 5.09 .62 5.01 .61 4.84 .61 4.56 .61 4.21 .61 3.82 .61 3.39 .62 2.93 .61 2.5 .61 2.06 .61 1.67 .61 1.31 .62 1 .61 .73 .61 .52 .61 .35 .61 .2 .61 .09 .61-.02 .62-.12 .61-.25 .61-.39 .61-.58 .61-.8 .62-1.08 .61-1.4 .61-1.77 .61-2.17 .61-2.6 .61-3.06 .62-3.49 .61-3.92 .61-4.31 .61-4.64 .61-4.88 .61-5.05 .61-5.09 .62-5.03 .61-4.84 .61-4.52 .61-4.09 .61-3.54 .62-2.89 .61-2.16 .61-1.37 .61-.53 .61 .32 .61 1.17 .62 1.97 .61 2.73 .61 3.39 .61 3.98 .61 4.44 .61 4.79 .61 5 .62 5.11 .61 5.08 .61 4.94 .61 4.72 .61 4.4 .62 4.02 .61 3.6 .61 3.16 .61 2.7 .61 2.25 .61 1.84 .61 1.45 .62 1.12 .61 .84 .61 .59 .61 .41 .61 .26 .61 .13 .62 .04 .61-.06 .61-.16 .61-.29 .61-.44 .62-.64 .61-.88 .61-1.17 .61-1.51 .61-1.9 .61-2.32 .61-2.77 .62-3.22 .61-3.66 .61-4.08 .61-4.46 .61-4.75 .62-4.98 .61-5.09 .61-5.09 .61-4.98 .61-4.73 .61-4.37 .62-3.88 .61-3.28 .61-2.59 .61-1.82 .61-1 .61-.15 .61 .71 .62 1.54 .61 2.34 .61 3.06 .61 3.69 .61 4.23 .62 4.63 .61 4.92 .61 5.09 .61 5.12 .61 5.04 .61 4.85 .62 4.58 .61 4.22 .61 3.81 .61 3.37 .61 2.91 .61 2.46 .61 2.02 .62 1.61 .61 1.25 .61 .94 .61 .68 .61 .47 .62 .3 .61 .19 .61 .08 .61-.01 .61-.1 .61-.19 .62-.32 .61-.49 .61-.7 .61-.96 .61-1.27 .61-1.63 .61-2.04 .62-2.47 .61-2.94 .61-3.39 .61-3.83 .61-4.24 .62-4.59 .61-4.87 .61-5.04 .61-5.12 .61-5.08 .61-4.91 .61-4.61 .62-4.18 .61-3.65 .61-3 .61-2.27 .61-1.46 .61-.63 .62 .24 .61 1.1 .61 1.92 .61 2.69 .61 3.38 .62 3.97 .61 4.45 .61 4.8 .61 5.04 .61 5.13 .61 5.11 .62 4.97 .61 4.74 .61 4.41 .61 4.02 .61 3.59 .61 3.13 .62 2.66 .61 2.21 .61 1.78 .61 1.39 .61 1.06 .61 .77 .62 .54 .61 .35 .61 .23 .61 .11 .61 .04 .61-.04 .61-.12 .62-.23 .61-.36 .61-.53 .61-.76 .61-1.05 .61-1.37 .62-1.76 .61-2.19 .61-2.64 .61-3.1 .61-3.56 .61-4 .62-4.4 .61-4.72 .61-4.96 .61-5.1 .61-5.14 .62-5.03 .61-4.81 .61-4.46 .61-3.99 .61-3.39 .61-2.7 .62-1.92 .61-1.1 .61-.24 .61 .63 .61 1.49 .61 2.29 .61 3.03 .62 3.68 .61 4.23 .61 4.65 .61 4.95 .61 5.11 .61 5.15 .62 5.07 .61 4.88 .61 4.59 .61 4.22 .61 3.81 .61 3.35 .62 2.88 .61 2.41 .61 1.96 .61 1.55 .61 1.18 .61 .87 .62 .62 .61 .41 .61 .26 .61 .15 .61 .07 .62 0 .61-.07 .61-.14 .61-.25 .61-.4 .61-.58 .62-.84 .61-1.13 .61-1.49 .61-1.9 .61-2.34 .61-2.8 .61-3.28 .62-3.74 .61-4.16 .61-4.54 .61-4.84 .61-5.05 .62-5.14 .61-5.13 .61-4.97 .61-4.7 .61-4.28 .61-3.75 .61-3.11 .62-2.38 .61-1.58 .61-.71 .61 .15 .61 1.03 .61 1.87 .62 2.65 .61 3.36 .61 3.97 .61 4.46 .61 4.82 .62 5.06 .61 5.16 .61 5.14 .61 5 .61 4.76 .61 4.42 .62 4.02 .61 3.57 .61 3.1 .61 2.62 .61 2.16 .61 1.72 .61 1.32 .62 .98 .61 .71 .61 .47 .61 .3 .61 .18 .62 .09 .61 .03 .61-.02 .61-.09 .61-.16 .61-.27 .61-.43 .62-.65 .61-.91 .61-1.23 .61-1.62 .61-2.04 .61-2.5 .62-2.98 .61-3.45 .61-3.92 .61-4.32 .61-4.68 .62-4.95 .61-5.11 .61-5.17 .61-5.09 .61-4.89 .61-4.55 .62-4.08 .61-3.5 .61-2.81 .61-2.04 .61-1.2 .61-.33 .62 .55 .61 1.43 .61 2.24 .61 3.01 .61 3.66 .61 4.23 .62 4.66 .61 4.97 .61 5.14 .61 5.19 .61 5.09 .61 4.91 .61 4.6 .62 4.23 .61 3.8 .61 3.33 .61 2.84 .61 2.36 .61 1.9 .62 1.48 .61 1.11 .61 .8 .61 .54 .61 .35 .62 .21 .61 .12 .61 .05 .61 0 .61-.04 .61-.1 .62-.18 .61-.3 .61-.47 .61-.71 .61-1 .61-1.34 .61-1.75 .62-2.2 .61-2.67 .61-3.15 .61-3.64 .61-4.08 .62-4.48 .61-4.81 .61-5.04 .61-5.16 .61-5.17 .61-5.04 .61-4.77 .62-4.38 .61-3.86 .61-3.22 .61-2.49 .61-1.68 .61-.82 .62 .07 .61 .96 .61 1.81 .61 2.61 .61 3.34 .61 3.96 .62 4.46 .61 4.84 .61 5.08 .61 5.2 .61 5.16 .62 5.03 .61 4.77 .61 4.43 .61 4.02 .61 3.56 .61 3.07 .62 2.58 .61 2.1 .61 1.65 .61 1.26 .61 .9 .61 .63 .61 .41 .62 .24 .61 .13 .61 .06 .61 .02 .61-.01 .62-.05 .61-.1 .61-.2 .61-.33 .61-.52 .61-.78 .61-1.09 .62-1.47 .61-1.9 .61-2.35 .61-2.85 .61-3.34 .61-3.81 .62-4.26 .61-4.62 .61-4.93 .61-5.11 .61-5.2 .62-5.14 .61-4.96 .61-4.64 .61-4.18 .61-3.61 .61-2.92 .62-2.15 .61-1.3 .61-.42 .61 .47 .61 1.36 .61 2.19 .61 2.97 .62 3.65 .61 4.23 .61 4.67 .61 4.99 .61 5.16 .62 5.21 .61 5.12 .61 4.93 .61 4.61 .61 4.24 .61 3.79 .61 3.3 .62 2.81 .61 2.31 .61 1.84 .61 1.41 .61 1.04 .61 .72 .62 .48 .61 .28 .61 .15 .61 .08 .61 .02 .62 0 .61-.02 .61-.05 .61-.11 .61-.21 .61-.37 .62-.58 .61-.86 .61-1.2 .61-1.6 .61-2.05 .61-2.53 .62-3.03 .61-3.53 .61-3.99 .61-4.41 .61-4.77 .61-5.02 .61-5.18 .62-5.2 .61-5.09 .61-4.85 .61-4.48 .61-3.96 .62-3.33 .61-2.59 .61-1.79 .61-.92 .61-.02 .61 .88 .61 1.76 .62 2.57 .61 3.3 .61 3.95 .61 4.46 .61 4.85 .61 5.1 .62 5.22 .61 5.19 .61 5.05 .61 4.79 .61 4.43 .62 4.02 .61 3.54 .61 3.04 .61 2.54 .61 2.04 .61 1.59 .62 1.19 .61 .83 .61 .56 .61 .33 .61 .18 .61 .09 .61 .03 .62 0 .61-.01 .61-.01 .61-.06 .61-.11 .61-.24 .62-.41 .61-.65 .61-.95 .61-1.32 .61-1.75 .61-2.21 .62-2.72 .61-3.21 .61-3.72 .61-4.17 .61-4.57 .61-4.88 .62-5.11 .61-5.21 .61-5.19 .61-5.02 .61-4.71 .62-4.28 .61-3.71 .61-3.03 .61-2.25 .61-1.41 .61-.52 .62 .39 .61 1.29 .61 2.14 .61 2.93 .61 3.62 .61 4.21 .61 4.68 .62 4.99 .61 5.19 .61 5.23 .61 5.14 .61 4.94 .62 4.63 .61 4.23 .61 3.78 .61 3.28 .61 2.78 .61 2.26 .61 1.79 .62 1.34 .61 .97 .61 .65 .61 .4 .61 .22 .61 .1 .62 .03 .61 0 .61-.01 .61 0 .61-.01 .62-.05 .61-.13 .61-.27 .61-.46 .61-.72 .61-1.06 .62-1.46 .61-1.9 .61-2.4 .61-2.9 .61-3.41 .61-3.89 .61-4.34 .62-4.72 .61-4.99 .61-5.18 .61-5.22 .61-5.14 .62-4.92 .61-4.55 .61-4.05 .61-3.43 .61-2.7 .61-1.89 .61-1.02 .62-.11 .61 .8 .61 1.68 .61 2.52 .61 3.27 .61 3.92 .62 4.45 .61 4.85 .61 5.11 .61 5.23 .61 5.21 .62 5.07 .61 4.8 .61 4.44 .61 4.01 .61 3.53 .61 3.01 .62 2.5 .61 1.99 .61 1.54 .61 1.11 .61 .77 .61 .48 .62 .27 .61 .12 .61 .03 .61 0 .61-.01 .61-.01 .62 .01 .61-.01 .61-.05 .61-.14 .61-.31 .61-.52 .61-.82 .62-1.18 .61-1.6 .61-2.08 .61-2.57 .61-3.1 .61-3.6 .62-4.08 .61-4.5 .61-4.84 .61-5.09 .61-5.22 .62-5.21 .61-5.07 .61-4.78 .61-4.36 .61-3.8 .61-3.13 .62-2.35 .61-1.51 .61-.62 .61 .31 .61 1.2 .61 2.08 .62 2.88 .61 3.59 .61 4.19 .61 4.66 .61 5 .61 5.19 .61 5.24 .62 5.15 .61 4.95 .61 4.64 .61 4.23 .61 3.77 .61 3.26 .62 2.74 .61 2.23 .61 1.73 .61 1.29 .61 .9 .61 .58 .62 .33 .61 .16 .61 .04 .61-.01 .61-.03 .61-.01 .62 .01 .61 .02 .61 0 .61-.06 .61-.17 .62-.35 .61-.6 .61-.92 .61-1.32 .61-1.76 .61-2.25 .62-2.77 .61-3.29 .61-3.8 .61-4.25 .61-4.65 .61-4.96 .61-5.16 .62-5.23 .61-5.17 .61-4.97 .61-4.62 .61-4.14 .62-3.52 .61-2.8 .61-1.99 .61-1.12 .61-.2 .61 .72 .61 1.61 .62 2.45 .61 3.22 .61 3.89 .61 4.43 .61 4.84 .61 5.11 .62 5.23 .61 5.22 .61 5.07 .61 4.81 .61 4.44 .62 4.01 .61 3.51 .61 2.99 .61 2.46 .61 1.95 .61 1.48 .62 1.06 .61 .7 .61 .41 .61 .21 .61 .06 .61-.01 .61-.04 .62-.03 .61-.01 .61 .03 .61 .03 .61 .01 .62-.07 .61-.2 .61-.41 .61-.7 .61-1.04 .61-1.46 .62-1.93 .61-2.45 .61-2.96 .61-3.49 .61-3.99 .61-4.42 .61-4.79 .62-5.05 .61-5.21 .61-5.22 .61-5.1 .61-4.84 .62-4.43 .61-3.88 .61-3.22 .61-2.45 .61-1.61 .61-.71 .62 .21 .61 1.13 .61 2.01 .61 2.81 .61 3.55 .61 4.15 .61 4.64 .62 4.99 .61 5.18 .61 5.24 .61 5.16 .61 4.95 .62 4.64 .61 4.23 .61 3.76 .61 3.24 .61 2.71 .61 2.19 .62 1.68 .61 1.24 .61 .84 .61 .52 .61 .28 .61 .09 .61 0 .62-.06 .61-.05 .61-.03 .61 .02 .61 .04 .61 .05 .62 .01 .61-.09 .61-.25 .61-.48 .61-.8 .62-1.18 .61-1.62 .61-2.12 .61-2.64 .61-3.17 .61-3.68 .61-4.17 .62-4.58 .61-4.91 .61-5.12 .61-5.23 .61-5.19 .61-5 .62-4.67 .61-4.21 .61-3.6 .61-2.89 .61-2.09 .62-1.21 .61-.29 .61 .62 .61 1.53 .61 2.39 .61 3.16 .61 3.84 .62 4.39 .61 4.82 .61 5.09 .61 5.23 .61 5.21 .61 5.07 .62 4.81 .61 4.44 .61 3.99 .61 3.5 .61 2.97 .62 2.43 .61 1.91 .61 1.43 .61 1.01 .61 .65 .61 .35 .61 .15 .62 .02 .61-.06 .61-.08 .61-.05 .61-.01 .61 .04 .62 .06 .61 .06 .61 0 .61-.11 .61-.31 .62-.58 .61-.91 .61-1.33 .61-1.8 .61-2.31 .61-2.84 .61-3.37 .62-3.88 .61-4.34 .61-4.72 .61-5.01 .61-5.17 .61-5.23 .62-5.12 .61-4.87 .61-4.48 .61-3.95 .61-3.3 .62-2.54 .61-1.7 .61-.81 .61 .12 .61 1.04 .61 1.93 .62 2.75 .61 3.48 .61 4.11 .61 4.6 .61 4.96 .61 5.16 .61 5.23 .62 5.16 .61 4.94 .61 4.64 .61 4.22 .61 3.74 .62 3.23 .61 2.69 .61 2.15 .61 1.65 .61 1.19 .61 .79 .62 .47 .61 .21 .61 .05 .61-.05 .61-.09 .61-.09 .61-.04 .62 .02 .61 .06 .61 .09 .61 .06 .61-.01 .62-.16 .61-.38 .61-.68 .61-1.05 .61-1.5 .61-1.98 .62-2.5 .61-3.05 .61-3.57 .61-4.07 .61-4.49 .61-4.85 .61-5.09 .62-5.2 .61-5.19 .61-5.02 .61-4.71 .61-4.26 .62-3.68 .61-2.97 .61-2.17 .61-1.3 .61-.39 .61 .54 .62 1.44 .61 2.31 .61 3.09 .61 3.78 .61 4.35 .61 4.77 .61 5.07 .62 5.2 .61 5.2 .61 5.06 .61 4.8 .61 4.43 .62 3.98 .61 3.48 .61 2.95 .61 2.41 .61 1.88 .61 1.39 .62 .96 .61 .6 .61 .31 .61 .1 .61-.04 .61-.1 .61-.11 .62-.07 .61-.02 .61 .04 .61 .09 .61 .1 .61 .07 .62-.04 .61-.22 .61-.46 .61-.8 .61-1.21 .62-1.66 .61-2.18 .61-2.71 .61-3.25 .61-3.77 .61-4.24 .61-4.64 .62-4.95 .61-5.14 .61-5.2 .61-5.13 .61-4.89 .61-4.52 .62-4.01 .61-3.37 .61-2.62 .61-1.79 .61-.9 .62 .03 .61 .95 .61 1.84 .61 2.67 .61 3.42 .61 4.04 .61 4.56 .62 4.91 .61 5.14 .61 5.2 .61 5.14 .61 4.93 .61 4.62 .62 4.21 .61 3.73 .61 3.21 .61 2.67 .61 2.12 .62 1.62 .61 1.15 .61 .75 .61 .42 .61 .17 .61 0 .61-.1 .62-.12 .61-.11 .61-.06 .61 .01 .61 .08 .61 .11 .62 .12 .61 .05 .61-.08 .61-.29 .61-.57 .62-.93 .61-1.37 .61-1.85 .61-2.38 .61-2.92 .61-3.45 .62-3.96 .61-4.4 .61-4.77 .61-5.03 .61-5.17 .61-5.17 .61-5.03 .62-4.74 .61-4.3 .61-3.73 .61-3.04 .61-2.26 .62-1.39 .61-.48 .61 .45 .61 1.35 .61 2.22 .61 3.02 .62 3.71 .61 4.28 .61 4.73 .61 5.02 .61 5.17 .61 5.17 .61 5.04 .62 4.78 .61 4.42 .61 3.97 .61 3.47 .61 2.92 .62 2.39 .61 1.85 .61 1.36 .61 .92 .61 .56 .61 .26 .62 .06 .61-.08 .61-.14 .61-.14 .61-.1 .61-.02 .61 .04 .62 .11 .61 .14 .61 .11 .61 .03 .61-.13 .62-.37 .61-.69 .61-1.08 .61-1.54 .61-2.05 .61-2.58 .62-3.13 .61-3.65 .61-4.14 .61-4.55 .61-4.88 .61-5.09 .61-5.17 .62-5.1 .61-4.91 .61-4.55 .61-4.05 .61-3.43 .61-2.69 .62-1.87 .61-.99 .61-.06 .61 .86 .61 1.75 .62 2.58 .61 3.34 .61 3.97 .61 4.49 .61 4.87 .61 5.09 .61 5.17 .62 5.1 .61 4.92 .61 4.6 .61 4.19 .61 3.72 .61 3.19 .62 2.64 .61 2.1 .61 1.59 .61 1.12 .61 .71 .62 .38 .61 .13 .61-.04 .61-.13 .61-.17 .61-.13 .61-.08 .62 .01 .61 .08 .61 .14 .61 .16 .61 .1 .61 0 .62-.2 .61-.47 .61-.82 .61-1.25 .61-1.72 .62-2.25 .61-2.79 .61-3.34 .61-3.84 .61-4.31 .61-4.68 .61-4.96 .62-5.12 .61-5.14 .61-5.02 .61-4.75 .61-4.33 .61-3.78 .62-3.1 .61-2.33 .61-1.47 .61-.57 .61 .35 .62 1.26 .61 2.13 .61 2.93 .61 3.63 .61 4.21 .61 4.66 .61 4.97 .62 5.13 .61 5.13 .61 5.01 .61 4.76 .61 4.4 .61 3.95 .62 3.45 .61 2.91 .61 2.36 .61 1.82 .61 1.34 .62 .89 .61 .52 .61 .22 .61 .02 .61-.12 .61-.17 .62-.17 .61-.12 .61-.04 .61 .05 .61 .12 .61 .16 .61 .16 .62 .09 .61-.05 .61-.28 .61-.59 .61-.96 .62-1.42 .61-1.92 .61-2.46 .61-3 .61-3.53 .61-4.03 .62-4.46 .61-4.79 .61-5.02 .61-5.12 .61-5.09 .61-4.89 .61-4.57 .62-4.08 .61-3.48 .61-2.76 .61-1.95 .61-1.07 .62-.15 .61 .76 .61 1.65 .61 2.5 .61 3.25 .61 3.89 .62 4.42 .61 4.8 .61 5.04 .61 5.12 .61 5.07 .61 4.88 .61 4.58 .62 4.17 .61 3.7 .61 3.17 .61 2.62 .61 2.08 .62 1.56 .61 1.09 .61 .68 .61 .35 .61 .09 .61-.07 .62-.18 .61-.19 .61-.16 .61-.09 .61-.01 .61 .09 .61 .16 .62 .19 .61 .15 .61 .06 .61-.11 .61-.38 .62-.71 .61-1.13 .61-1.6 .61-2.12 .61-2.67 .61-3.21 .62-3.72 .61-4.2 .61-4.59 .61-4.88 .61-5.06 .61-5.1 .61-4.99 .62-4.75 .61-4.35 .61-3.81 .61-3.16 .61-2.4 .61-1.55 .62-.66 .61 .26 .61 1.16 .61 2.04 .61 2.84 .62 3.54 .61 4.13 .61 4.59 .61 4.91 .61 5.07 .61 5.09 .61 4.97 .62 4.72 .61 4.38 .61 3.93 .61 3.42 .61 2.89 .61 2.34 .62 1.81 .61 1.3 .61 .86 .61 .49 .61 .19 .62-.02 .61-.15 .61-.2 .61-.2 .61-.15 .61-.05 .61 .04 .62 .13 .61 .19 .61 .2 .61 .14 .61 .02 .61-.19 .62-.49 .61-.86 .61-1.29 .61-1.8 .61-2.33 .62-2.87 .61-3.41 .61-3.91 .61-4.35 .61-4.7 .61-4.95 .61-5.06 .62-5.05 .61-4.88 .61-4.56 .61-4.11 .61-3.52 .61-2.82 .62-2.02 .61-1.15 .61-.25 .61 .67 .61 1.56 .62 2.4 .61 3.15 .61 3.81 .61 4.34 .61 4.73 .61 4.97 .62 5.07 .61 5.03 .61 4.84 .61 4.54 .61 4.15 .61 3.68 .61 3.15 .62 2.6 .61 2.06 .61 1.54 .61 1.06 .61 .65 .62 .31 .61 .06 .61-.11 .61-.21 .61-.22 .61-.19 .62-.11 .61-.02 .61 .09 .61 .18 .61 .21 .61 .2 .61 .12 .62-.04 .61-.29 .61-.61 .61-1.01 .61-1.48 .62-1.99 .61-2.54 .61-3.07 .61-3.61 .61-4.08 .61-4.48 .62-4.8 .61-4.98 .61-5.05 .61-4.97 .61-4.73 .61-4.36 .61-3.84 .62-3.21 .61-2.45 .61-1.63 .61-.75 .61 .17 .62 1.07 .61 1.94 .61 2.73 .61 3.45 .61 4.05 .61 4.51 .62 4.83 .61 5.01 .61 5.04 .61 4.93 .61 4.69 .61 4.34 .61 3.9 .62 3.41 .61 2.86 .61 2.32 .61 1.78 .61 1.28 .61 .84 .62 .45 .61 .16 .61-.05 .61-.19 .61-.24 .62-.23 .61-.16 .61-.07 .61 .03 .61 .14 .61 .21 .61 .23 .62 .2 .61 .08 .61-.11 .61-.4 .61-.74 .61-1.18 .62-1.67 .61-2.2 .61-2.74 .61-3.28 .61-3.79 .62-4.24 .61-4.6 .61-4.86 .61-5 .61-5 .61-4.85 .61-4.56 .62-4.13 .61-3.55 .61-2.87 .61-2.08 .61-1.23 .61-.34 .62 .58 .61 1.46 .61 2.29 .61 3.06 .61 3.72 .62 4.25 .61 4.65 .61 4.9 .61 5.01 .61 4.98 .61 4.79 .61 4.51 .62 4.12 .61 3.65 .61 3.12 .61 2.58 .61 2.04 .61 1.51 .62 1.04 .61 .62 .61 .28 .61 .03 .61-.15 .62-.24 .61-.26 .61-.21 .61-.14 .61-.02 .61 .09 .61 .18 .62 .24 .61 .24 .61 .18 .61 .03 .61-.2 .61-.51 .62-.9 .61-1.35 .61-1.87 .61-2.4 .61-2.95 .62-3.47 .61-3.96 .61-4.38 .61-4.7 .61-4.9 .61-4.99 .62-4.92 .61-4.72 .61-4.36 .61-3.86 .61-3.24 .61-2.52 .61-1.7 .62-.82 .61 .07 .61 .97 .61 1.84 .61 2.64 .62 3.35 .61 3.95 .61 4.43 .61 4.76 .61 4.94 .61 4.98 .62 4.87 .61 4.65 .61 4.3 .61 3.88 .61 3.37 .61 2.85 .61 2.29 .62 1.76 .61 1.25 .61 .81 .61 .42 .61 .13 .62-.09 .61-.22 .61-.27 .61-.26 .61-.19 .61-.09 .62 .03 .61 .14 .61 .23 .61 .26 .61 .24 .61 .15 .61-.04 .62-.3 .61-.64 .61-1.06 .61-1.54 .61-2.07 .62-2.6 .61-3.15 .61-3.66 .61-4.12 .61-4.5 .61-4.77 .62-4.92 .61-4.95 .61-4.82 .61-4.54 .61-4.13 .61-3.58 .61-2.92 .62-2.14 .61-1.31 .61-.42 .61 .48 .61 1.36 .62 2.2 .61 2.95 .61 3.62 .61 4.16 .61 4.57 .61 4.83 .62 4.94 .61 4.92 .61 4.75 .61 4.46 .61 4.08 .61 3.62 .61 3.1 .62 2.56 .61 2.01 .61 1.48 .61 1.01 .61 .59 .61 .25 .62-.01 .61-.18 .61-.27 .61-.29 .61-.24 .62-.16 .61-.04 .61 .09 .61 .19 .61 .26 .61 .28 .61 .23 .62 .1 .61-.11 .61-.41 .61-.79 .61-1.23 .61-1.74 .62-2.26 .61-2.82 .61-3.34 .61-3.83 .61-4.26 .62-4.6 .61-4.82 .61-4.92 .61-4.87 .61-4.69 .61-4.35 .61-3.88 .62-3.27 .61-2.57 .61-1.76 .61-.91 .61-.01 .61 .87 .62 1.74 .61 2.53 .61 3.25 .61 3.86 .61 4.34 .62 4.67 .61 4.87 .61 4.91 .61 4.82 .61 4.6 .61 4.26 .61 3.84 .62 3.35 .61 2.82 .61 2.26 .61 1.73 .61 1.23 .61 .78 .62 .39 .61 .1 .61-.13 .61-.25 .61-.31 .62-.29 .61-.22 .61-.11 .61 .02 .61 .14 .61 .24 .62 .3 .61 .28 .61 .21 .61 .04 .61-.2 .61-.54 .61-.94 .62-1.42 .61-1.93 .61-2.47 .61-3.01 .61-3.53 .62-4 .61-4.38 .61-4.67 .61-4.85 .61-4.88 .61-4.77 .62-4.53 .61-4.13 .61-3.6 .61-2.95 .61-2.21 .61-1.37 .61-.51 .62 .39 .61 1.26 .61 2.09 .61 2.86 .61 3.52 .61 4.06 .62 4.48 .61 4.75 .61 4.87 .61 4.85 .61 4.7 .62 4.42 .61 4.04 .61 3.58 .61 3.07 .61 2.53 .61 1.98 .62 1.46 .61 .98 .61 .56 .61 .21 .61-.04 .61-.22 .62-.31 .61-.32 .61-.27 .61-.18 .61-.06 .61 .08 .62 .2 .61 .28 .61 .32 .61 .28 .61 .17 .61-.03 .61-.31 .62-.68 .61-1.11 .61-1.6 .61-2.13 .61-2.67 .61-3.21 .62-3.7 .61-4.14 .61-4.49 .61-4.72 .61-4.84 .62-4.82 .61-4.66 .61-4.33 .61-3.89 .61-3.3 .61-2.61 .61-1.83 .62-.99 .61-.1 .61 .78 .61 1.63 .61 2.44 .61 3.15 .62 3.76 .61 4.24 .61 4.59 .61 4.79 .61 4.84 .61 4.76 .62 4.54 .61 4.22 .61 3.8 .61 3.32 .61 2.78 .61 2.24 .62 1.7 .61 1.2 .61 .74 .61 .36 .61 .06 .62-.16 .61-.29 .61-.35 .61-.32 .61-.25 .61-.13 .62 .01 .61 .14 .61 .25 .61 .32 .61 .33 .61 .27 .61 .12 .62-.12 .61-.43 .61-.82 .61-1.29 .61-1.79 .61-2.34 .62-2.87 .61-3.39 .61-3.87 .61-4.26 .61-4.57 .62-4.75 .61-4.82 .61-4.72 .61-4.5 .61-4.13 .61-3.61 .62-2.99 .61-2.26 .61-1.44 .61-.59 .61 .29 .61 1.17 .61 1.99 .62 2.75 .61 3.42 .61 3.97 .61 4.38 .61 4.67 .62 4.8 .61 4.78 .61 4.64 .61 4.37 .61 3.99 .61 3.55 .61 3.03 .62 2.5 .61 1.95 .61 1.42 .61 .95 .61 .53 .61 .18 .62-.08 .61-.26 .61-.35 .61-.36 .61-.3 .62-.21 .61-.07 .61 .07 .61 .2 .61 .3 .61 .35 .62 .34 .61 .23 .61 .06 .61-.21 .61-.57 .61-.98 .61-1.47 .62-1.99 .61-2.53 .61-3.07 .61-3.57 .61-4.01 .61-4.37 .62-4.63 .61-4.76 .61-4.75 .61-4.61 .61-4.32 .62-3.89 .61-3.33 .61-2.65 .61-1.89 .61-1.06 .61-.19 .62 .69 .61 1.53 .61 2.33 .61 3.05 .61 3.66 .61 4.14 .61 4.5 .62 4.71 .61 4.77 .61 4.7 .61 4.48 .61 4.17 .61 3.76 .62 3.27 .61 2.75 .61 2.21 .61 1.67 .61 1.16 .61 .71 .62 .33 .61 .01 .61-.2 .61-.33 .61-.38 .62-.36 .61-.27 .61-.16 .61 0 .61 .13 .61 .27 .62 .34 .61 .37 .61 .33 .61 .19 .61-.02 .61-.33 .62-.7 .61-1.16 .61-1.65 .61-2.19 .61-2.73 .61-3.25 .62-3.73 .61-4.14 .61-4.46 .61-4.66 .61-4.74 .61-4.68 .61-4.46 .62-4.11 .61-3.63 .61-3.02 .61-2.3 .61-1.52 .61-.66 .62 .2 .61 1.07 .61 1.89 .61 2.64 .61 3.32 .62 3.87 .61 4.29 .61 4.58 .61 4.72 .61 4.71 .61 4.58 .62 4.31 .61 3.95 .61 3.5 .61 2.99 .61 2.46 .61 1.92 .61 1.39 .62 .91 .61 .49 .61 .14 .61-.12 .61-.29 .61-.39 .62-.4 .61-.34 .61-.23 .61-.1 .61 .07 .61 .2 .62 .32 .61 .38 .61 .38 .61 .31 .61 .13 .61-.11 .62-.45 .61-.86 .61-1.33 .61-1.85 .61-2.38 .61-2.93 .62-3.42 .61-3.88 .61-4.25 .61-4.53 .61-4.67 .62-4.69 .61-4.56 .61-4.29 .61-3.89 .61-3.34 .61-2.69 .62-1.95 .61-1.13 .61-.27 .61 .59 .61 1.43 .61 2.23 .62 2.94 .61 3.56 .61 4.05 .61 4.4 .61 4.63 .61 4.69 .62 4.63 .61 4.42 .61 4.12 .61 3.71 .61 3.23 .61 2.71 .62 2.17 .61 1.63 .61 1.13 .61 .67 .61 .28 .61-.02 .61-.24 .62-.37 .61-.42 .61-.4 .61-.31 .61-.18 .62-.02 .61 .13 .61 .27 .61 .37 .61 .41 .61 .38 .62 .27 .61 .07 .61-.21 .61-.59 .61-1.02 .61-1.52 .61-2.04 .62-2.58 .61-3.11 .61-3.59 .61-4.01 .61-4.35 .61-4.56 .62-4.66 .61-4.61 .61-4.43 .61-4.09 .61-3.63 .61-3.05 .62-2.35 .61-1.57 .61-.74 .61 .11 .61 .97 .61 1.79 .62 2.54 .61 3.21 .61 3.77 .61 4.2 .61 4.48 .61 4.64 .62 4.64 .61 4.51 .61 4.25 .61 3.9 .61 3.45 .62 2.95 .61 2.42 .61 1.88 .61 1.36 .61 .87 .61 .45 .62 .1 .61-.17 .61-.34 .61-.43 .61-.44 .61-.38 .62-.26 .61-.11 .61 .05 .61 .2 .61 .34 .61 .41 .62 .43 .61 .37 .61 .22 .61-.01 .61-.34 .61-.73 .61-1.19 .62-1.71 .61-2.24 .61-2.77 .61-3.28 .61-3.74 .61-4.13 .62-4.41 .61-4.58 .61-4.62 .61-4.51 .61-4.26 .62-3.88 .61-3.35 .61-2.73 .61-1.99 .61-1.2 .61-.36 .61 .5 .62 1.34 .61 2.12 .61 2.84 .61 3.45 .61 3.95 .61 4.31 .62 4.54 .61 4.61 .61 4.55 .61 4.37 .61 4.05 .61 3.66 .62 3.19 .61 2.66 .61 2.13 .61 1.59 .61 1.09 .61 .63 .62 .24 .61-.06 .61-.29 .61-.42 .61-.46 .61-.44 .62-.35 .61-.2 .61-.04" stroke="#e51e10" stroke-width="9"/>
<path id="cDQ2" d="M379 992l.61-.02 .61-.07 .61-.11 .62-.16 .61-.19 .61-.24 .61-.26 .61-.3 .61-.33 .62-.36 .61-.37 .61-.38 .61-.4 .61-.4 .62-.4 .61-.39 .61-.39 .61-.36 .61-.35 .61-.32 .62-.3 .61-.26 .61-.22 .61-.19 .61-.14 .61-.11 .61-.05 .62-.02 .61 .04 .61 .07 .61 .13 .61 .16 .62 .2 .61 .25 .61 .27 .61 .31 .61 .33 .61 .36 .62 .38 .61 .38 .61 .4 .61 .4 .61 .4 .61 .39 .61 .38 .62 .37 .61 .34 .61 .31 .61 .29 .61 .25 .61 .22 .62 .18 .61 .13 .61 .1 .61 .04 .61 .01 .62-.05 .61-.09 .61-.13 .61-.17 .61-.21 .61-.25 .61-.29 .62-.31 .61-.34 .61-.36 .61-.38 .61-.39 .61-.4 .62-.4 .61-.4 .61-.39 .61-.37 .61-.36 .62-.34 .61-.31 .61-.28 .61-.24 .61-.21 .61-.17 .62-.13 .61-.08 .61-.04 .61 .01 .61 .06 .61 .09 .61 .14 .62 .19 .61 .22 .61 .26 .61 .29 .61 .32 .61 .34 .62 .37 .61 .38 .61 .39 .61 .4 .61 .4 .62 .4 .61 .39 .61 .37 .61 .35 .61 .33 .61 .31 .62 .27 .61 .24 .61 .2 .61 .15 .61 .12 .61 .07 .61 .03 .62-.02 .61-.06 .61-.11 .61-.15 .61-.19 .61-.23 .62-.27 .61-.29 .61-.33 .61-.35 .61-.37 .62-.38 .61-.4 .61-.4 .61-.4 .61-.39 .61-.39 .61-.37 .62-.35 .61-.32 .61-.3 .61-.26 .61-.23 .61-.19 .62-.15 .61-.11 .61-.06 .61-.02 .61 .03 .62 .07 .61 .12 .61 .16 .61 .2 .61 .24 .61 .27 .62 .31 .61 .33 .61 .35 .61 .38 .61 .38 .61 .4 .61 .4 .62 .4 .61 .39 .61 .39 .61 .36 .61 .34 .61 .32 .62 .29 .61 .26 .61 .22 .61 .18 .61 .14 .62 .1 .61 .05 .61 .01 .61-.04 .61-.08 .61-.13 .62-.17 .61-.21 .61-.25 .61-.28 .61-.31 .61-.33 .61-.36 .62-.38 .61-.39 .61-.4 .61-.4 .61-.4 .62-.39 .61-.38 .61-.36 .61-.34 .61-.31 .61-.28 .62-.25 .61-.21 .61-.17 .61-.14 .61-.08 .61-.04 .61 0 .62 .05 .61 .09 .61 .14 .61 .18 .61 .21 .61 .26 .62 .29 .61 .31 .61 .35 .61 .36 .61 .38 .62 .39 .61 .4 .61 .4 .61 .4 .61 .39 .61 .37 .61 .36 .62 .33 .61 .31 .61 .27 .61 .24 .61 .21 .62 .16 .61 .12 .61 .08 .61 .03 .61-.01 .61-.06 .61-.11 .62-.14 .61-.19 .61-.23 .61-.26 .61-.29 .61-.33 .62-.34 .61-.37 .61-.38 .61-.4 .61-.4 .62-.4 .61-.39 .61-.39 .61-.37 .61-.35 .61-.33 .61-.3 .62-.27 .61-.23 .61-.2 .61-.15 .61-.11 .62-.07 .61-.02 .61 .03 .61 .07 .61 .11 .61 .15 .62 .2 .61 .23 .61 .27 .61 .3 .61 .33 .61 .36 .61 .37 .62 .39 .61 .39 .61 .4 .61 .4 .61 .39 .62 .39 .61 .36 .61 .35 .61 .32 .61 .3 .61 .26 .62 .22 .61 .19 .61 .14 .61 .1 .61 .06 .61 .01 .61-.04 .62-.07 .61-.13 .61-.16 .61-.21 .61-.24 .62-.28 .61-.3 .61-.34 .61-.36 .61-.37 .61-.39 .62-.4 .61-.4 .61-.4 .61-.39 .61-.38 .61-.36 .61-.34 .62-.32 .61-.29 .61-.25 .61-.21 .61-.18 .62-.13 .61-.09 .61-.05 .61 0 .61 .04 .61 .09 .61 .13 .62 .18 .61 .21 .61 .25 .61 .29 .61 .31 .61 .34 .62 .36 .61 .38 .61 .39 .61 .4 .61 .4 .62 .4 .61 .39 .61 .38 .61 .35 .61 .34 .61 .31 .61 .28 .62 .24 .61 .21 .61 .17 .61 .12 .61 .08 .61 .04 .62-.01 .61-.06 .61-.09 .61-.15 .61-.18 .62-.22 .61-.26 .61-.29 .61-.32 .61-.35 .61-.36 .61-.39 .62-.39 .61-.4 .61-.4 .61-.4 .61-.38 .61-.37 .62-.36 .61-.33 .61-.3 .61-.27 .61-.24 .62-.2 .61-.16 .61-.11 .61-.07 .61-.03 .61 .02 .61 .07 .62 .1 .61 .16 .61 .19 .61 .23 .61 .27 .62 .29 .61 .33 .61 .35 .61 .37 .61 .39 .61 .39 .62 .4 .61 .4 .61 .4 .61 .38 .61 .37 .61 .35 .61 .32 .62 .3 .61 .26 .61 .23 .61 .19 .61 .15 .62 .1 .61 .06 .61 .02 .61-.03 .61-.07 .61-.12 .61-.16 .62-.2 .61-.24 .61-.28 .61-.3 .61-.33 .62-.36 .61-.37 .61-.39 .61-.4 .61-.4 .61-.4 .62-.39 .61-.38 .61-.37 .61-.34 .61-.32 .61-.29 .61-.25 .62-.22 .61-.18 .61-.14 .61-.1 .61-.05 .62 0 .61 .04 .61 .08 .61 .13 .61 .17 .61 .21 .62 .24 .61 .29 .61 .31 .61 .34 .61 .36 .61 .37 .61 .39 .62 .4 .61 .4 .61 .4 .61 .39 .61 .38 .62 .36 .61 .34 .61 .31 .61 .28 .61 .25 .61 .21 .62 .17 .61 .13 .61 .09 .61 .04 .61-.01 .61-.05 .61-.09 .62-.14 .61-.18 .61-.22 .61-.25 .61-.29 .62-.32 .61-.34 .61-.37 .61-.38 .61-.39 .61-.4 .61-.4 .62-.4 .61-.38 .61-.38 .61-.35 .61-.34 .61-.3 .62-.28 .61-.24 .61-.2 .61-.16 .61-.12 .62-.08 .61-.03 .61 .02 .61 .06 .61 .1 .61 .15 .61 .19 .62 .22 .61 .27 .61 .29 .61 .33 .61 .34 .61 .37 .62 .39 .61 .39 .61 .4 .61 .4 .61 .4 .62 .38 .61 .37 .61 .35 .61 .33 .61 .3 .61 .27 .61 .23 .62 .19 .61 .15 .61 .11 .61 .07 .61 .02 .61-.02 .62-.07 .61-.12 .61-.16 .61-.19 .61-.24 .62-.27 .61-.3 .61-.33 .61-.35 .61-.38 .61-.38 .62-.4 .61-.4 .61-.4 .61-.39 .61-.38 .61-.37 .61-.35 .62-.32 .61-.29 .61-.26 .61-.22 .61-.19 .61-.14 .62-.1 .61-.06 .61-.01 .61 .04 .61 .08 .62 .12 .61 .17 .61 .2 .61 .25 .61 .28 .61 .3 .61 .34 .62 .36 .61 .37 .61 .39 .61 .4 .61 .4 .61 .4 .62 .39 .61 .38 .61 .36 .61 .34 .61 .32 .62 .28 .61 .26 .61 .21 .61 .18 .61 .13 .61 .09 .62 .04 .61 0 .61-.04 .61-.09 .61-.13 .61-.18 .61-.21 .62-.26 .61-.28 .61-.32 .61-.34 .61-.36 .62-.38 .61-.39 .61-.4 .61-.4 .61-.4 .61-.39 .62-.37 .61-.36 .61-.34 .61-.3 .61-.28 .61-.25 .61-.2 .62-.17 .61-.12 .61-.08 .61-.04 .61 .01 .62 .06 .61 .1 .61 .14 .61 .19 .61 .22 .61 .26 .62 .29 .61 .32 .61 .35 .61 .37 .61 .38 .61 .39 .61 .4 .62 .4 .61 .4 .61 .38 .61 .38 .61 .35 .62 .33 .61 .3 .61 .27 .61 .24 .61 .19 .61 .16 .61 .12 .62 .07 .61 .02 .61-.02 .61-.07 .61-.11 .61-.15 .62-.19 .61-.23 .61-.27 .61-.3 .61-.33 .62-.35 .61-.37 .61-.38 .61-.4 .61-.4 .61-.4 .61-.39 .62-.39 .61-.37 .61-.34 .61-.33 .61-.29 .61-.27 .62-.22 .61-.19 .61-.15 .61-.1 .61-.06 .62-.02 .61 .03 .61 .08 .61 .12 .61 .16 .61 .2 .61 .24 .62 .28 .61 .3 .61 .34 .61 .35 .61 .38 .61 .38 .62 .4 .61 .4 .61 .4 .61 .39 .61 .38 .62 .37 .61 .34 .61 .32 .61 .29 .61 .25 .61 .22 .62 .18 .61 .14 .61 .09 .61 .05 .61 .01 .61-.04 .62-.09 .61-.13 .61-.17 .61-.21 .61-.25 .61-.28 .62-.31 .61-.34 .61-.36 .61-.38 .61-.39 .61-.4 .61-.4 .62-.4 .61-.39 .61-.37 .61-.36 .61-.34 .61-.31 .62-.29 .61-.24 .61-.21 .61-.17 .61-.13 .61-.08 .62-.04 .61 0 .61 .05 .61 .1 .61 .14 .62 .18 .61 .22 .61 .25 .61 .29 .61 .32 .61 .34 .62 .37 .61 .38 .61 .39 .61 .4 .61 .4 .61 .4 .61 .39 .62 .37 .61 .36 .61 .33 .61 .3 .61 .28 .62 .24 .61 .2 .61 .16 .61 .12 .61 .07 .61 .03 .62-.02 .61-.06 .61-.1 .61-.15 .61-.19 .61-.23 .61-.26 .62-.3 .61-.32 .61-.35 .61-.37 .61-.38 .62-.4 .61-.4 .61-.4 .61-.39 .61-.39 .61-.37 .62-.35 .61-.33 .61-.29 .61-.27 .61-.23 .61-.19 .61-.16 .62-.1 .61-.07 .61-.02 .61 .03 .61 .07 .62 .11 .61 .16 .61 .2 .61 .24 .61 .27 .61 .3 .61 .33 .62 .36 .61 .37 .61 .38 .61 .4 .61 .4 .61 .4 .62 .39 .61 .39 .61 .36 .61 .35 .61 .32 .62 .29 .61 .26 .61 .22 .61 .18 .61 .15 .61 .09 .61 .06 .62 .01 .61-.04 .61-.08 .61-.12 .61-.17 .61-.21 .62-.24 .61-.28 .61-.31 .61-.34 .61-.35 .62-.38 .61-.39 .61-.4 .61-.4 .61-.4 .61-.39 .61-.38 .62-.36 .61-.34 .61-.31 .61-.29 .61-.25 .61-.21 .62-.18 .61-.13 .61-.09 .61-.04 .61 0 .62 .05 .61 .09 .61 .13 .61 .18 .61 .21 .61 .25 .62 .29 .61 .32 .61 .34 .61 .36 .61 .38 .61 .39 .61 .4 .62 .4 .61 .4 .61 .39 .61 .37 .61 .36 .61 .34 .62 .3 .61 .28 .61 .24 .61 .21 .61 .16 .62 .13 .61 .07 .61 .04 .61-.01 .61-.06 .61-.1 .61-.14 .62-.19 .61-.22 .61-.26 .61-.3 .61-.32 .61-.35 .62-.36 .61-.39 .61-.39 .61-.4 .61-.4 .61-.39 .62-.39 .61-.37 .61-.36 .61-.33 .61-.3 .62-.27 .61-.23 .61-.2 .61-.15 .61-.11 .61-.07 .61-.03 .62 .02 .61 .07 .61 .11 .61 .15 .61 .2 .62 .23 .61 .27 .61 .3 .61 .33 .61 .35 .61 .37 .62 .39 .61 .39 .61 .4 .61 .4 .61 .4 .61 .38 .61 .37 .62 .34 .61 .33 .61 .29 .61 .26 .61 .23 .62 .19 .61 .14 .61 .11 .61 .06 .61 .01 .61-.03 .62-.08 .61-.12 .61-.16 .61-.21 .61-.24 .61-.27 .61-.31 .62-.33 .61-.36 .61-.37 .61-.39 .61-.4 .62-.4 .61-.4 .61-.39 .61-.38 .61-.36 .61-.35 .61-.31 .62-.29 .61-.26 .61-.21 .61-.18 .61-.14 .61-.09 .62-.05 .61 0 .61 .04 .61 .08 .61 .14 .62 .17 .61 .21 .61 .25 .61 .28 .61 .31 .61 .34 .61 .36 .62 .38 .61 .39 .61 .4 .61 .4 .61 .4 .61 .39 .62 .38 .61 .36 .61 .33 .61 .31 .61 .28 .62 .25 .61 .21 .61 .17 .61 .13 .61 .08 .61 .04 .61-.01 .62-.05 .61-.1 .61-.14 .61-.18 .61-.22 .62-.26 .61-.29 .61-.32 .61-.34 .61-.36 .61-.39 .62-.39 .61-.4 .61-.4 .61-.4 .61-.38 .61-.38 .61-.35 .62-.33 .61-.31 .61-.27 .61-.24 .61-.2 .62-.16 .61-.12 .61-.07 .61-.03 .61 .02 .61 .06 .62 .11 .61 .15 .61 .19 .61 .23 .61 .26 .61 .3 .61 .32 .62 .35 .61 .37 .61 .39 .61 .39 .61 .4 .62 .4 .61 .4 .61 .38 .61 .37 .61 .35 .61 .33 .61 .29 .62 .27 .61 .23 .61 .19 .61 .15 .61 .11 .61 .06 .62 .02 .61-.03 .61-.07 .61-.12 .61-.15 .62-.2 .61-.24 .61-.27 .61-.31 .61-.33 .61-.35 .61-.37 .62-.39 .61-.4 .61-.4 .61-.4 .61-.39 .62-.38 .61-.37 .61-.34 .61-.32 .61-.29 .61-.26 .62-.22 .61-.19 .61-.14 .61-.09 .61-.06 .61-.01 .61 .04 .62 .08 .61 .13 .61 .17 .61 .21 .61 .24 .62 .28 .61 .31 .61 .34 .61 .36 .61 .37 .61 .39 .62 .4 .61 .4 .61 .4 .61 .39 .61 .38 .61 .36 .61 .34 .62 .31 .61 .29 .61 .25 .61 .21 .61 .17 .62 .13 .61 .09 .61 .05 .61-.01 .61-.04 .61-.1 .62-.13 .61-.18 .61-.22 .61-.25 .61-.29 .61-.31 .61-.34 .62-.37 .61-.38 .61-.39 .61-.4 .61-.4 .62-.4 .61-.38 .61-.38 .61-.36 .61-.33 .61-.31 .61-.27 .62-.25 .61-.2 .61-.16 .61-.13 .61-.07 .61-.04 .62 .02 .61 .05 .61 .11 .61 .14 .61 .19 .62 .22 .61 .26 .61 .3 .61 .32 .61 .35 .61 .36 .62 .39 .61 .39 .61 .4 .61 .4 .61 .4 .61 .38 .62 .37 .61 .36 .61 .33 .61 .3 .61 .26 .61 .24 .62 .19 .61 .16 .61 .11 .61 .07 .61 .02 .61-.02 .61-.07 .62-.11 .61-.16 .61-.19 .61-.24 .61-.26 .61-.3 .62-.33 .61-.36 .61-.37 .61-.38 .61-.4 .61-.4 .62-.4 .61-.39 .61-.39 .61-.36 .61-.35 .62-.32 .61-.3 .61-.26 .61-.22 .61-.19 .61-.14 .62-.11 .61-.05 .61-.02 .61 .04 .61 .07 .61 .13 .61 .16 .62 .2 .61 .25 .61 .27 .61 .31 .61 .33 .61 .36 .62 .38 .61 .38 .61 .4 .61 .4 .61 .4 .61 .39 .62 .38 .61 .37 .61 .34 .61 .31 .61 .29 .61 .25 .62 .22 .61 .18 .61 .13 .61 .1 .61 .04 .62 .01 .61-.05 .61-.09 .61-.13 .61-.17 .61-.21 .62-.25 .61-.29 .61-.31 .61-.34 .61-.36 .61-.38 .61-.39 .62-.4 .61-.4 .61-.4 .61-.39 .61-.37 .62-.36 .61-.34 .61-.31 .61-.28 .61-.24 .61-.21 .61-.17 .62-.13 .61-.08 .61-.04 .61 .01 .61 .06 .61 .09 .62 .14 .61 .19 .61 .22 .61 .26 .61 .29 .62 .32 .61 .34 .61 .37 .61 .38 .61 .39 .61 .4 .62 .4 .61 .4 .61 .39 .61 .37 .61 .35 .61 .33 .61 .31 .62 .27 .61 .24 .61 .2 .61 .15 .61 .12 .62 .07 .61 .03 .61-.02 .61-.06 .61-.11 .61-.15 .61-.19 .62-.23 .61-.27 .61-.29 .61-.33 .61-.35 .61-.37 .62-.38 .61-.4 .61-.4 .61-.4 .61-.39 .62-.39 .61-.37 .61-.35 .61-.32 .61-.3 .61-.26 .62-.23 .61-.19 .61-.15 .61-.11 .61-.06 .61-.02 .62 .03 .61 .07 .61 .12 .61 .16 .61 .2 .61 .24 .62 .27 .61 .31 .61 .33 .61 .35 .61 .38 .61 .38 .61 .4 .62 .4 .61 .4 .61 .39 .61 .39 .61 .36 .61 .34 .62 .32 .61 .29 .61 .26 .61 .22 .61 .18 .62 .14 .61 .1 .61 .05 .61 .01 .61-.04 .61-.08 .62-.13 .61-.17 .61-.21 .61-.25 .61-.28 .61-.31 .61-.33 .62-.36 .61-.38 .61-.39 .61-.4 .61-.4 .62-.4 .61-.39 .61-.38 .61-.36 .61-.34 .61-.31 .61-.28 .62-.25 .61-.21 .61-.17 .61-.14 .61-.08 .61-.04 .62 0 .61 .05 .61 .09 .61 .14 .61 .18 .61 .21 .62 .26 .61 .29 .61 .31 .61 .35 .61 .36 .62 .38 .61 .39 .61 .4 .61 .4 .61 .4 .61 .39 .62 .37 .61 .36 .61 .33 .61 .31 .61 .27 .61 .24 .61 .21 .62 .16 .61 .12 .61 .08 .61 .03 .61-.01 .62-.06 .61-.11 .61-.14 .61-.19 .61-.23 .61-.26 .61-.29 .62-.33 .61-.34 .61-.37 .61-.38 .61-.4 .61-.4 .62-.4 .61-.39 .61-.39 .61-.37 .61-.35 .62-.33 .61-.3 .61-.27 .61-.23 .61-.2 .61-.15 .62-.11 .61-.07 .61-.02 .61 .03 .61 .07 .61 .11 .61 .15 .62 .2 .61 .23 .61 .27 .61 .3 .61 .33 .62 .36 .61 .37 .61 .39 .61 .39 .61 .4 .61 .4 .61 .39 .62 .39 .61 .36 .61 .35 .61 .32 .61 .3 .61 .26 .62 .22 .61 .19 .61 .14 .61 .1 .61 .06 .62 .01 .61-.04 .61-.07 .61-.13 .61-.16 .61-.21 .62-.24 .61-.28 .61-.3 .61-.34 .61-.36 .61-.37 .62-.39 .61-.4 .61-.4 .61-.4 .61-.39 .61-.38 .61-.36 .62-.34 .61-.32 .61-.29 .61-.25 .61-.21 .62-.18 .61-.13 .61-.09 .61-.05 .61 0 .61 .04 .61 .09 .62 .13 .61 .18 .61 .21 .61 .25 .61 .29 .61 .31 .62 .34 .61 .36 .61 .38 .61 .39 .61 .4 .62 .4 .61 .4 .61 .39 .61 .38 .61 .35 .61 .34 .62 .31 .61 .28 .61 .24 .61 .21 .61 .17 .61 .12 .61 .08 .62 .04 .61-.01 .61-.06 .61-.09 .61-.15 .61-.18 .62-.22 .61-.26 .61-.29 .61-.32 .61-.35 .61-.36 .62-.39 .61-.39 .61-.4 .61-.4 .61-.4 .61-.38 .62-.37 .61-.36 .61-.33 .61-.3 .61-.27 .62-.24 .61-.2 .61-.16 .61-.11 .61-.07 .61-.03 .62 .02 .61 .07 .61 .1 .61 .16 .61 .19 .61 .23 .61 .27 .62 .29 .61 .33 .61 .35 .61 .37 .61 .39 .62 .39 .61 .4 .61 .4 .61 .4 .61 .38 .61 .37 .61 .35 .62 .32 .61 .3 .61 .26 .61 .23 .61 .19 .61 .15 .62 .1 .61 .06 .61 .02 .61-.03 .61-.07 .62-.12 .61-.16 .61-.2 .61-.24 .61-.28 .61-.3 .62-.33 .61-.36 .61-.37 .61-.39 .61-.4 .61-.4 .61-.4 .62-.39 .61-.38 .61-.37 .61-.34 .61-.32 .62-.29 .61-.25 .61-.22 .61-.18 .61-.14 .61-.1 .61-.05 .62 0 .61 .04 .61 .08 .61 .13 .61 .17 .61 .21 .62 .24 .61 .29 .61 .31 .61 .34 .61 .36 .62 .37 .61 .39 .61 .4 .61 .4 .61 .4 .61 .39 .62 .38 .61 .36 .61 .34 .61 .31 .61 .28 .61 .25 .62 .21 .61 .17 .61 .13 .61 .09 .61 .04 .61-.01 .62-.05 .61-.09 .61-.14 .61-.18 .61-.22 .61-.25 .61-.29 .62-.32 .61-.34 .61-.37 .61-.38 .61-.39 .61-.4 .62-.4 .61-.4 .61-.38 .61-.38 .61-.35 .62-.34 .61-.3 .61-.28 .61-.24 .61-.2 .61-.16 .62-.12 .61-.08 .61-.03 .61 .02 .61 .06 .61 .1 .62 .15 .61 .19 .61 .22 .61 .27 .61 .29 .61 .33 .61 .34 .62 .37 .61 .39 .61 .39 .61 .4 .61 .4 .61 .4 .62 .38 .61 .37 .61 .35 .61 .33 .61 .3 .61 .27 .62 .23 .61 .19 .61 .15 .61 .11 .61 .07 .61 .02 .62-.02 .61-.07 .61-.12 .61-.16 .61-.19 .62-.24 .61-.27 .61-.3 .61-.33 .61-.35 .61-.38 .62-.38 .61-.4 .61-.4 .61-.4 .61-.39 .61-.38 .61-.37 .62-.35 .61-.32 .61-.29 .61-.26 .61-.22 .62-.19 .61-.14 .61-.1 .61-.06 .61-.01 .61 .04 .61 .08 .62 .12 .61 .17 .61 .2 .61 .25 .61 .28 .61 .3 .62 .34 .61 .36 .61 .37 .61 .39 .61 .4 .62 .4 .61 .4 .61 .39 .61 .38 .61 .36 .61 .34 .62 .32 .61 .28 .61 .26 .61 .21 .61 .18 .61 .13 .61 .09 .62 .04 .61 0 .61-.04 .61-.09 .61-.13 .62-.18 .61-.21 .61-.26 .61-.28 .61-.32 .61-.34 .62-.36 .61-.38 .61-.39 .61-.4 .61-.4 .61-.4 .61-.39 .62-.37 .61-.36 .61-.34 .61-.3 .61-.28 .62-.25 .61-.2 .61-.17 .61-.12 .61-.08 .61-.04 .62 .01 .61 .06 .61 .1 .61 .14 .61 .19 .61 .22 .61 .26 .62 .29 .61 .32 .61 .35 .61 .37 .61 .38 .62 .39 .61 .4 .61 .4 .61 .4 .61 .38 .61 .38 .62 .35 .61 .33 .61 .3 .61 .27 .61 .24 .61 .19 .61 .16 .62 .12 .61 .07 .61 .02 .61-.02 .61-.07 .61-.11 .62-.15 .61-.19 .61-.23 .61-.27 .61-.3 .62-.33 .61-.35 .61-.37 .61-.38 .61-.4 .61-.4 .61-.4 .62-.39 .61-.39 .61-.37 .61-.34 .61-.33 .61-.29 .62-.27 .61-.22 .61-.19 .61-.15 .61-.1 .62-.06 .61-.02 .61 .03 .61 .08 .61 .12 .61 .16 .61 .2 .62 .24 .61 .28 .61 .3 .61 .34 .61 .35 .61 .38 .62 .38 .61 .4 .61 .4 .61 .4 .61 .39 .62 .38 .61 .37 .61 .34 .61 .32 .61 .29 .61 .25 .61 .22 .62 .18 .61 .14 .61 .09 .61 .05 .61 .01 .61-.04 .62-.09 .61-.13 .61-.17 .61-.21 .61-.25 .62-.28 .61-.31 .61-.34 .61-.36 .61-.38 .61-.39 .61-.4 .62-.4 .61-.4 .61-.39 .61-.37 .61-.36 .61-.34 .62-.31 .61-.29 .61-.24 .61-.21 .61-.17 .62-.13 .61-.08 .61-.04 .61 0 .61 .05 .61 .1 .62 .14 .61 .18 .61 .22 .61 .25 .61 .29 .61 .32 .61 .34 .62 .37 .61 .38 .61 .39 .61 .4 .61 .4 .62 .4 .61 .39 .61 .37 .61 .36 .61 .33 .61 .3 .62 .28 .61 .24 .61 .2 .61 .16 .61 .12 .61 .07 .61 .03 .62-.02 .61-.06 .61-.1 .61-.15 .61-.19 .62-.23 .61-.26 .61-.3 .61-.32 .61-.35 .61-.37 .62-.38 .61-.4 .61-.4 .61-.4 .61-.39 .61-.39 .61-.37 .62-.35 .61-.33 .61-.29 .61-.27 .61-.23 .62-.19 .61-.16 .61-.1 .61-.07 .61-.02 .61 .03 .62 .07 .61 .11 .61 .16 .61 .2 .61 .24 .61 .27 .61 .3 .62 .33 .61 .36 .61 .37 .61 .38 .61 .4 .62 .4 .61 .4 .61 .39 .61 .39 .61 .36 .61 .35 .62 .32 .61 .29 .61 .26 .61 .22 .61 .18 .61 .15 .61 .09 .62 .06 .61 .01 .61-.04 .61-.08 .61-.12 .61-.17 .62-.21 .61-.24 .61-.28 .61-.31 .61-.34 .62-.35 .61-.38 .61-.39 .61-.4 .61-.4 .61-.4 .61-.39 .62-.38 .61-.36 .61-.34 .61-.31 .61-.29 .61-.25 .62-.21 .61-.18 .61-.13 .61-.09 .61-.04 .62 0 .61 .05 .61 .09 .61 .13 .61 .18 .61 .21 .61 .25 .62 .29 .61 .32 .61 .34 .61 .36 .61 .38 .61 .39 .62 .4 .61 .4 .61 .4 .61 .39 .61 .37 .62 .36 .61 .34 .61 .3 .61 .28 .61 .24 .61 .21 .61 .16 .62 .13 .61 .07 .61 .04 .61-.01 .61-.06 .61-.1 .62-.14 .61-.19 .61-.22 .61-.26 .61-.3 .62-.32 .61-.35 .61-.36 .61-.39 .61-.39 .61-.4 .62-.4 .61-.39 .61-.39 .61-.37 .61-.36 .61-.33 .61-.3 .62-.27 .61-.23 .61-.2 .61-.15 .61-.11 .62-.07 .61-.03 .61 .02 .61 .07 .61 .11 .61 .15 .62 .2 .61 .23 .61 .27 .61 .3 .61 .33 .61 .35 .61 .37 .62 .39 .61 .39 .61 .4 .61 .4 .61 .4 .62 .38 .61 .37 .61 .34 .61 .33 .61 .29 .61 .26 .62 .23 .61 .19 .61 .14 .61 .11 .61 .06 .61 .01 .61-.03 .62-.08 .61-.12 .61-.16 .61-.21 .61-.24 .62-.27 .61-.31 .61-.33 .61-.36 .61-.37 .61-.39 .62-.4 .61-.4 .61-.4 .61-.39 .61-.38 .61-.36 .61-.35 .62-.31 .61-.29 .61-.26 .61-.21 .61-.18 .61-.14 .62-.09 .61-.05 .61 0 .61 .04 .61 .08 .62 .14 .61 .17 .61 .21 .61 .25 .61 .28 .61 .31 .61 .34 .62 .36 .61 .38 .61 .39 .61 .4 .61 .4 .61 .4 .62 .39 .61 .38 .61 .36 .61 .33 .61 .31 .62 .28 .61 .25 .61 .21 .61 .17 .61 .13 .61 .08 .61 .04 .62-.01 .61-.05 .61-.1 .61-.14 .61-.18 .61-.22 .62-.26 .61-.29 .61-.32 .61-.34 .61-.36 .62-.39 .61-.39 .61-.4 .61-.4 .61-.4 .61-.38 .61-.38 .62-.35 .61-.33 .61-.31 .61-.27 .61-.24 .61-.2 .62-.16 .61-.12 .61-.07 .61-.03 .61 .02 .62 .06 .61 .11 .61 .15 .61 .19 .61 .23 .61 .26 .61 .3 .62 .32 .61 .35 .61 .37 .61 .39 .61 .39 .61 .4 .62 .4 .61 .4 .61 .38 .61 .37 .61 .35 .62 .33 .61 .29 .61 .27 .61 .23 .61 .19 .61 .15 .62 .11 .61 .06 .61 .02 .61-.03 .61-.07 .61-.12 .61-.15 .62-.2 .61-.24 .61-.27 .61-.31 .61-.33 .62-.35 .61-.37 .61-.39 .61-.4 .61-.4 .61-.4 .62-.39 .61-.38 .61-.37 .61-.34 .61-.32 .61-.29 .61-.26 .62-.22 .61-.19 .61-.14 .61-.09 .61-.06 .62-.01 .61 .04 .61 .08 .61 .13 .61 .17 .61 .21 .62 .24 .61 .28 .61 .31 .61 .34 .61 .36 .61 .37 .61 .39 .62 .4 .61 .4 .61 .4 .61 .39 .61 .38 .62 .36 .61 .34 .61 .31 .61 .29 .61 .25 .61 .21 .62 .17 .61 .13 .61 .09 .61 .05 .61-.01 .61-.04 .61-.1 .62-.13 .61-.18 .61-.22 .61-.25 .61-.29 .62-.31 .61-.34 .61-.37 .61-.38 .61-.39 .61-.4 .62-.4 .61-.4 .61-.38 .61-.38 .61-.36 .61-.33 .61-.31 .62-.27 .61-.25 .61-.2 .61-.16 .61-.13 .61-.07 .62-.04 .61 .02 .61 .05 .61 .11 .61 .14 .62 .19 .61 .22 .61 .26 .61 .3 .61 .32 .61 .35 .61 .36 .62 .39 .61 .39 .61 .4 .61 .4 .61 .4 .61 .38 .62 .37 .61 .36 .61 .33 .61 .3 .61 .26 .62 .24 .61 .19 .61 .16 .61 .11 .61 .07 .61 .02 .61-.02 .62-.07 .61-.11 .61-.16 .61-.19 .61-.24 .61-.26 .62-.3 .61-.33 .61-.36 .61-.37 .61-.38 .62-.4 .61-.4 .61-.4 .61-.39 .61-.39 .61-.36 .61-.35 .62-.32 .61-.3 .61-.26 .61-.22 .61-.19 .61-.14 .62-.11 .61-.05 .61-.02 .61 .04 .61 .07 .62 .13 .61 .16 .61 .2 .61 .25 .61 .27 .61 .31 .62 .33 .61 .36 .61 .38 .61 .38 .61 .4 .61 .4 .61 .4 .62 .39 .61 .38 .61 .37 .61 .34 .61 .31 .62 .29 .61 .25 .61 .22 .61 .18 .61 .13 .61 .1 .62 .04 .61 .01 .61-.05 .61-.09 .61-.13 .61-.17 .61-.21 .62-.25 .61-.29 .61-.31 .61-.34 .61-.36 .62-.38 .61-.39 .61-.4 .61-.4 .61-.4 .61-.39 .62-.37 .61-.36 .61-.34 .61-.31 .61-.28 .61-.24 .61-.21 .62-.17 .61-.13 .61-.08 .61-.04 .61 .01 .62 .06 .61 .09 .61 .14 .61 .19 .61 .22 .61 .26 .62 .29 .61 .32 .61 .34 .61 .37 .61 .38 .61 .39 .61 .4 .62 .4 .61 .4 .61 .39 .61 .37 .61 .35 .61 .33 .62 .31 .61 .27 .61 .24 .61 .2 .61 .15 .62 .12 .61 .07 .61 .03 .61-.02 .61-.06 .61-.11 .61-.15 .62-.19 .61-.23 .61-.27 .61-.29 .61-.33 .61-.35 .62-.37 .61-.38 .61-.4 .61-.4 .61-.4 .62-.39 .61-.39 .61-.37 .61-.35 .61-.32 .61-.3 .61-.26 .62-.23 .61-.19 .61-.15 .61-.11 .61-.06 .61-.02 .62 .03 .61 .07 .61 .12 .61 .16 .61 .2 .62 .24 .61 .27 .61 .31 .61 .33 .61 .35 .61 .38 .61 .38 .62 .4 .61 .4 .61 .4 .61 .39 .61 .39 .61 .36 .62 .34 .61 .32 .61 .29 .61 .26 .61 .22 .62 .18 .61 .14 .61 .1 .61 .05 .61 .01 .61-.04 .61-.08 .62-.13 .61-.17 .61-.21 .61-.25 .61-.28 .61-.31 .62-.33 .61-.36 .61-.38 .61-.39 .61-.4 .62-.4 .61-.4 .61-.39 .61-.38 .61-.36 .61-.34 .62-.31 .61-.28 .61-.25 .61-.21 .61-.17 .61-.14 .61-.08 .62-.04 .61 0 .61 .05 .61 .09 .61 .14 .62 .18 .61 .21 .61 .26 .61 .29 .61 .31 .61 .35 .62 .36 .61 .38 .61 .39 .61 .4 .61 .4 .61 .4 .61 .39 .62 .37 .61 .36 .61 .33 .61 .31 .61 .27 .62 .24 .61 .21 .61 .16 .61 .12 .61 .08 .61 .03 .62-.01 .61-.06 .61-.11 .61-.14 .61-.19 .61-.23 .61-.26 .62-.29 .61-.33 .61-.34 .61-.37 .61-.38 .62-.4 .61-.4 .61-.4 .61-.39 .61-.39 .61-.37 .62-.35 .61-.33 .61-.3 .61-.27 .61-.23 .61-.2 .61-.15 .62-.11 .61-.07 .61-.02 .61 .03 .61 .07 .62 .11 .61 .15 .61 .2 .61 .23 .61 .27 .61 .3 .62 .33 .61 .36 .61 .37 .61 .39 .61 .39 .61 .4 .61 .4 .62 .39 .61 .39 .61 .36 .61 .35 .61 .32 .61 .3 .62 .26 .61 .22 .61 .19 .61 .14 .61 .1 .62 .06 .61 .01 .61-.04 .61-.07 .61-.13 .61-.16 .61-.21 .62-.24 .61-.28 .61-.3 .61-.34 .61-.36 .61-.37 .62-.39 .61-.4 .61-.4 .61-.4 .61-.39 .62-.38 .61-.36 .61-.34 .61-.32 .61-.29 .61-.25 .61-.21 .62-.18 .61-.13 .61-.09 .61-.05 .61 0 .61 .04 .62 .09 .61 .13 .61 .18 .61 .21 .61 .25 .62 .29 .61 .31 .61 .34 .61 .36 .61 .38 .61 .39 .61 .4 .62 .4 .61 .4 .61 .39 .61 .38 .61 .35 .61 .34 .62 .31 .61 .28 .61 .24 .61 .21 .61 .17 .62 .12 .61 .08 .61 .04 .61-.01 .61-.06 .61-.09 .62-.15 .61-.18 .61-.22 .61-.26 .61-.29 .61-.32 .61-.35 .62-.36 .61-.39 .61-.39 .61-.4 .61-.4 .62-.4 .61-.38 .61-.37 .61-.36 .61-.33 .61-.3 .62-.27 .61-.24 .61-.2 .61-.16 .61-.11 .61-.07 .61-.03 .62 .02 .61 .07 .61 .1 .61 .16 .61 .19 .61 .23 .62 .27 .61 .29 .61 .33 .61 .35 .61 .37 .62 .39 .61 .39 .61 .4 .61 .4 .61 .4 .61 .38 .62 .37 .61 .35 .61 .32 .61 .3 .61 .26 .61 .23 .62 .19 .61 .15 .61 .1 .61 .06 .61 .02 .61-.03 .62-.07 .61-.12 .61-.16 .61-.2 .61-.24 .61-.28 .61-.3 .62-.33 .61-.36 .61-.37 .61-.39 .61-.4 .61-.4 .62-.4 .61-.39 .61-.38 .61-.37 .61-.34 .62-.32 .61-.29 .61-.25 .61-.22 .61-.18 .61-.14 .61-.1 .62-.05 .61 0 .61 .04 .61 .08 .61 .13 .61 .17 .62 .21 .61 .24 .61 .29 .61 .31 .61 .34 .61 .36 .62 .37 .61 .39 .61 .4 .61 .4 .61 .4 .61 .39 .62 .38 .61 .36 .61 .34 .61 .31 .61 .28 .62 .25 .61 .21 .61 .17 .61 .13 .61 .09 .61 .04 .62-.01 .61-.05 .61-.09 .61-.14 .61-.18 .61-.22 .61-.25 .62-.29 .61-.32 .61-.34 .61-.37 .61-.38 .61-.39 .62-.4 .61-.4 .61-.4 .61-.38 .61-.38 .62-.35 .61-.34 .61-.3 .61-.28 .61-.24 .61-.2 .62-.16 .61-.12 .61-.08 .61-.03 .61 .02 .61 .06 .61 .1 .62 .15 .61 .19 .61 .22 .61 .27 .61 .29 .62 .33 .61 .34 .61 .37 .61 .39 .61 .39 .61 .4 .61 .4 .62 .4 .61 .38 .61 .37 .61 .35 .61 .33 .61 .3 .62 .27 .61 .23 .61 .19 .61 .15 .61 .11 .62 .07 .61 .02 .61-.02 .61-.07 .61-.12 .61-.16 .62-.19 .61-.24 .61-.27 .61-.3 .61-.33 .61-.35 .61-.38 .62-.38 .61-.4 .61-.4 .61-.4 .61-.39 .61-.38 .62-.37 .61-.35 .61-.32 .61-.29 .61-.26 .62-.22 .61-.19 .61-.14 .61-.1 .61-.06 .61-.01 .62 .04 .61 .08 .61 .12 .61 .17 .61 .2 .61 .25 .61 .28 .62 .3 .61 .34 .61 .36 .61 .37 .61 .39 .61 .4 .62 .4 .61 .4 .61 .39 .61 .38 .61 .36 .61 .34 .62 .32 .61 .28 .61 .26 .61 .21 .61 .18 .62 .13 .61 .09 .61 .04 .61 0 .61-.04 .61-.09 .62-.13 .61-.18 .61-.21 .61-.26 .61-.28 .61-.32 .62-.34 .61-.36 .61-.38 .61-.39 .61-.4 .61-.4 .62-.4 .61-.39 .61-.37 .61-.36 .61-.34 .61-.3 .61-.28 .62-.25 .61-.2 .61-.17 .61-.12 .61-.08 .61-.04 .62 .01 .61 .06 .61 .1 .61 .14 .61 .19 .62 .22 .61 .26 .61 .29 .61 .32 .61 .35 .61 .37 .62 .38 .61 .39 .61 .4 .61 .4 .61 .4 .61 .38 .61 .38 .62 .35 .61 .33 .61 .3 .61 .27 .61 .24 .61 .19 .62 .16 .61 .12 .61 .07 .61 .02 .61-.02 .61-.07 .62-.11 .61-.15 .61-.19 .61-.23 .61-.27 .61-.3 .62-.33 .61-.35 .61-.37 .61-.38 .61-.4 .61-.4 .62-.4 .61-.39 .61-.39 .61-.37 .61-.34 .62-.33 .61-.29 .61-.27 .61-.22 .61-.19 .61-.15 .62-.1 .61-.06 .61-.02 .61 .03 .61 .08 .61 .12 .62 .16 .61 .2 .61 .24 .61 .28 .61 .3 .61 .34 .62 .35 .61 .38 .61 .38 .61 .4 .61 .4 .61 .4 .62 .39 .61 .38 .61 .37 .61 .34 .61 .32 .61 .29 .61 .25 .62 .22 .61 .18 .61 .14 .61 .09 .61 .05 .62 .01 .61-.04 .61-.09 .61-.13 .61-.17 .61-.21 .62-.25 .61-.28 .61-.31 .61-.34 .61-.36 .61-.38 .61-.39 .62-.4 .61-.4 .61-.4 .61-.39 .61-.37 .61-.36 .62-.34 .61-.31 .61-.29 .61-.24 .61-.21 .61-.17 .62-.13 .61-.08 .61-.04 .61 0 .61 .05 .61 .1 .62 .14 .61 .18 .61 .22 .61 .25 .61 .29 .61 .32 .62 .34 .61 .37 .61 .38 .61 .39 .61 .4 .62 .4 .61 .4 .61 .39 .61 .37 .61 .36 .61 .33 .62 .3 .61 .28 .61 .24 .61 .2 .61 .16 .61 .12 .62 .07 .61 .03 .61-.02 .61-.06 .61-.1 .61-.15 .62-.19 .61-.23 .61-.26 .61-.3 .61-.32 .61-.35 .61-.37 .62-.38 .61-.4 .61-.4 .61-.4 .61-.39 .61-.39 .62-.37 .61-.35 .61-.33 .61-.29 .61-.27 .62-.23 .61-.19 .61-.16 .61-.1 .61-.07 .61-.02 .61 .03 .62 .07 .61 .11 .61 .16 .61 .2 .61 .24 .61 .27 .62 .3 .61 .33 .61 .36 .61 .37 .61 .38 .61 .4 .62 .4 .61 .4 .61 .39 .61 .39 .61 .36 .61 .35 .62 .32 .61 .29 .61 .26 .61 .22 .61 .18 .61 .15 .62 .09 .61 .06 .61 .01" stroke="#9400d3" stroke-width="8"/>
<path id="cJQF2" d="M379 992l.61-.08 .61-.26 .61-.45 .62-.66 .61-.91 .61-1.18 .61-1.5 .61-1.85 .61-2.23 .62-2.63 .61-3.04 .61-3.47 .61-3.85 .61-4.23 .62-4.54 .61-4.79 .61-4.96 .61-5.04 .61-5.01 .61-4.87 .62-4.61 .61-4.25 .61-3.78 .61-3.2 .61-2.54 .61-1.81 .61-1.03 .62-.23 .61 .59 .61 1.39 .61 2.15 .61 2.85 .62 3.47 .61 4 .61 4.43 .61 4.74 .61 4.95 .61 5.03 .62 5.02 .61 4.89 .61 4.69 .61 4.41 .61 4.06 .61 3.68 .61 3.28 .62 2.86 .61 2.44 .61 2.06 .61 1.68 .61 1.35 .61 1.06 .62 .79 .61 .56 .61 .36 .61 .18 .61 .01 .62-.16 .61-.35 .61-.54 .61-.76 .61-1.03 .61-1.32 .61-1.65 .62-2.02 .61-2.4 .61-2.82 .61-3.23 .61-3.64 .61-4.03 .62-4.37 .61-4.67 .61-4.87 .61-5.01 .61-5.04 .62-4.96 .61-4.77 .61-4.46 .61-4.05 .61-3.53 .61-2.91 .62-2.22 .61-1.47 .61-.67 .61 .15 .61 .95 .61 1.74 .61 2.47 .62 3.13 .61 3.72 .61 4.21 .61 4.59 .61 4.85 .61 5 .62 5.03 .61 4.98 .61 4.81 .61 4.56 .61 4.26 .62 3.9 .61 3.5 .61 3.08 .61 2.67 .61 2.27 .61 1.88 .62 1.53 .61 1.21 .61 .93 .61 .69 .61 .46 .61 .28 .61 .1 .62-.07 .61-.24 .61-.43 .61-.63 .61-.88 .61-1.15 .62-1.47 .61-1.81 .61-2.18 .61-2.59 .61-3 .62-3.42 .61-3.82 .61-4.19 .61-4.5 .61-4.77 .61-4.95 .61-5.03 .62-5.01 .61-4.89 .61-4.65 .61-4.29 .61-3.82 .61-3.26 .62-2.61 .61-1.89 .61-1.11 .61-.31 .61 .51 .62 1.31 .61 2.08 .61 2.78 .61 3.41 .61 3.95 .61 4.39 .62 4.72 .61 4.93 .61 5.03 .61 5.02 .61 4.91 .61 4.7 .61 4.44 .62 4.09 .61 3.72 .61 3.32 .61 2.89 .61 2.49 .61 2.08 .62 1.72 .61 1.38 .61 1.08 .61 .81 .61 .58 .62 .38 .61 .2 .61 .02 .61-.14 .61-.33 .61-.51 .62-.74 .61-1 .61-1.28 .61-1.62 .61-1.97 .61-2.36 .61-2.77 .62-3.19 .61-3.6 .61-3.98 .61-4.34 .61-4.63 .62-4.86 .61-4.99 .61-5.04 .61-4.97 .61-4.79 .61-4.5 .62-4.09 .61-3.58 .61-2.98 .61-2.29 .61-1.55 .61-.75 .61 .07 .62 .87 .61 1.66 .61 2.4 .61 3.07 .61 3.67 .61 4.16 .62 4.55 .61 4.83 .61 4.99 .61 5.03 .61 4.98 .62 4.83 .61 4.59 .61 4.29 .61 3.92 .61 3.54 .61 3.12 .61 2.71 .62 2.3 .61 1.91 .61 1.56 .61 1.23 .61 .95 .62 .7 .61 .49 .61 .29 .61 .12 .61-.05 .61-.22 .61-.41 .62-.61 .61-.85 .61-1.12 .61-1.42 .61-1.77 .61-2.14 .62-2.54 .61-2.95 .61-3.37 .61-3.77 .61-4.14 .62-4.48 .61-4.74 .61-4.92 .61-5.03 .61-5.02 .61-4.9 .61-4.68 .62-4.32 .61-3.88 .61-3.32 .61-2.68 .61-1.96 .62-1.19 .61-.39 .61 .43 .61 1.23 .61 2 .61 2.71 .62 3.36 .61 3.9 .61 4.35 .61 4.69 .61 4.91 .61 5.03 .61 5.02 .62 4.92 .61 4.73 .61 4.45 .61 4.13 .61 3.75 .62 3.34 .61 2.93 .61 2.52 .61 2.11 .61 1.75 .61 1.4 .62 1.1 .61 .83 .61 .59 .61 .4 .61 .21 .61 .04 .61-.13 .62-.3 .61-.49 .61-.71 .61-.96 .61-1.25 .62-1.56 .61-1.93 .61-2.31 .61-2.72 .61-3.13 .61-3.55 .62-3.93 .61-4.3 .61-4.6 .61-4.83 .61-4.98 .61-5.03 .61-4.98 .62-4.82 .61-4.53 .61-4.14 .61-3.64 .61-3.04 .62-2.37 .61-1.62 .61-.83 .61-.02 .61 .8 .61 1.58 .61 2.33 .62 3.01 .61 3.62 .61 4.11 .61 4.52 .61 4.81 .61 4.97 .62 5.04 .61 4.99 .61 4.84 .61 4.61 .61 4.31 .62 3.95 .61 3.57 .61 3.15 .61 2.73 .61 2.33 .61 1.93 .61 1.58 .62 1.25 .61 .97 .61 .72 .61 .49 .61 .31 .61 .13 .62-.03 .61-.2 .61-.39 .61-.58 .61-.81 .62-1.08 .61-1.37 .61-1.72 .61-2.08 .61-2.49 .61-2.89 .61-3.32 .62-3.72 .61-4.09 .61-4.44 .61-4.71 .61-4.9 .61-5.02 .62-5.02 .61-4.92 .61-4.7 .61-4.37 .61-3.93 .62-3.39 .61-2.75 .61-2.03 .61-1.27 .61-.47 .61 .35 .61 1.15 .62 1.93 .61 2.65 .61 3.29 .61 3.86 .61 4.31 .62 4.67 .61 4.89 .61 5.02 .61 5.03 .61 4.93 .61 4.74 .62 4.48 .61 4.15 .61 3.77 .61 3.38 .61 2.95 .61 2.54 .61 2.13 .62 1.76 .61 1.42 .61 1.11 .61 .84 .61 .61 .62 .4 .61 .22 .61 .06 .61-.11 .61-.27 .61-.47 .61-.67 .62-.92 .61-1.2 .61-1.51 .61-1.87 .61-2.25 .62-2.65 .61-3.08 .61-3.48 .61-3.89 .61-4.25 .61-4.56 .62-4.8 .61-4.97 .61-5.03 .61-4.99 .61-4.84 .61-4.57 .61-4.19 .62-3.7 .61-3.11 .61-2.44 .61-1.7 .61-.91 .62-.1 .61 .71 .61 1.51 .61 2.26 .61 2.96 .61 3.56 .62 4.08 .61 4.49 .61 4.78 .61 4.97 .61 5.04 .61 4.99 .61 4.86 .62 4.62 .61 4.34 .61 3.97 .61 3.59 .61 3.17 .62 2.75 .61 2.35 .61 1.95 .61 1.59 .61 1.26 .61 .97 .62 .72 .61 .51 .61 .31 .61 .15 .61-.02 .61-.18 .61-.35 .62-.55 .61-.77 .61-1.03 .61-1.32 .61-1.65 .62-2.02 .61-2.42 .61-2.83 .61-3.25 .61-3.66 .61-4.04 .61-4.39 .62-4.68 .61-4.88 .61-5.01 .61-5.03 .61-4.94 .61-4.73 .62-4.42 .61-3.98 .61-3.45 .61-2.82 .61-2.12 .62-1.35 .61-.55 .61 .26 .61 1.08 .61 1.86 .61 2.58 .61 3.25 .62 3.81 .61 4.28 .61 4.65 .61 4.88 .61 5.01 .61 5.03 .62 4.95 .61 4.76 .61 4.49 .61 4.17 .61 3.8 .62 3.39 .61 2.97 .61 2.55 .61 2.14 .61 1.77 .61 1.42 .61 1.12 .62 .84 .61 .61 .61 .41 .61 .23 .61 .07 .61-.09 .62-.25 .61-.43 .61-.63 .61-.87 .61-1.14 .62-1.45 .61-1.8 .61-2.18 .61-2.58 .61-3.01 .61-3.42 .62-3.82 .61-4.2 .61-4.52 .61-4.78 .61-4.95 .61-5.03 .61-5 .62-4.86 .61-4.62 .61-4.24 .61-3.76 .61-3.18 .61-2.52 .62-1.78 .61-1 .61-.19 .61 .64 .61 1.44 .62 2.2 .61 2.89 .61 3.52 .61 4.05 .61 4.46 .61 4.77 .61 4.96 .62 5.04 .61 5.01 .61 4.86 .61 4.65 .61 4.35 .61 3.99 .62 3.61 .61 3.18 .61 2.76 .61 2.35 .61 1.95 .62 1.59 .61 1.26 .61 .97 .61 .72 .61 .51 .61 .32 .62 .15 .61 0 .61-.16 .61-.32 .61-.5 .61-.72 .61-.97 .62-1.26 .61-1.58 .61-1.95 .61-2.34 .61-2.75 .62-3.17 .61-3.6 .61-3.98 .61-4.34 .61-4.64 .61-4.86 .62-5 .61-5.04 .61-4.96 .61-4.77 .61-4.47 .61-4.04 .61-3.52 .62-2.91 .61-2.2 .61-1.43 .61-.64 .61 .19 .62 1 .61 1.79 .61 2.53 .61 3.2 .61 3.77 .61 4.26 .62 4.62 .61 4.88 .61 5.02 .61 5.04 .61 4.95 .61 4.78 .61 4.51 .62 4.19 .61 3.81 .61 3.4 .61 2.97 .61 2.55 .62 2.15 .61 1.76 .61 1.41 .61 1.11 .61 .83 .61 .61 .61 .4 .62 .24 .61 .08 .61-.07 .61-.22 .61-.39 .61-.58 .62-.81 .61-1.07 .61-1.38 .61-1.72 .61-2.09 .62-2.5 .61-2.93 .61-3.34 .61-3.76 .61-4.14 .61-4.47 .61-4.75 .62-4.93 .61-5.03 .61-5.02 .61-4.9 .61-4.66 .61-4.3 .62-3.84 .61-3.26 .61-2.6 .61-1.87 .61-1.08 .62-.27 .61 .56 .61 1.36 .61 2.14 .61 2.85 .61 3.48 .61 4.02 .62 4.44 .61 4.77 .61 4.96 .61 5.05 .61 5.01 .61 4.89 .62 4.66 .61 4.36 .61 4.01 .61 3.61 .61 3.19 .62 2.76 .61 2.34 .61 1.95 .61 1.57 .61 1.25 .61 .95 .62 .71 .61 .49 .61 .32 .61 .16 .61 .01 .61-.13 .62-.29 .61-.46 .61-.66 .61-.9 .61-1.17 .61-1.5 .62-1.86 .61-2.25 .61-2.66 .61-3.09 .61-3.52 .61-3.92 .61-4.28 .62-4.6 .61-4.84 .61-4.99 .61-5.04 .61-4.99 .61-4.82 .62-4.52 .61-4.12 .61-3.6 .61-2.99 .61-2.28 .61-1.53 .62-.72 .61 .1 .61 .93 .61 1.73 .61 2.47 .62 3.16 .61 3.74 .61 4.24 .61 4.62 .61 4.88 .61 5.02 .62 5.05 .61 4.97 .61 4.8 .61 4.53 .61 4.19 .61 3.82 .61 3.4 .62 2.98 .61 2.54 .61 2.13 .61 1.74 .61 1.4 .62 1.08 .61 .81 .61 .59 .61 .39 .61 .24 .61 .08 .62-.05 .61-.19 .61-.34 .61-.53 .61-.74 .61-.99 .61-1.29 .62-1.62 .61-2 .61-2.41 .61-2.83 .61-3.25 .62-3.68 .61-4.08 .61-4.42 .61-4.71 .61-4.92 .61-5.04 .62-5.04 .61-4.94 .61-4.71 .61-4.37 .61-3.91 .61-3.35 .61-2.69 .62-1.96 .61-1.17 .61-.36 .61 .48 .61 1.3 .62 2.08 .61 2.81 .61 3.44 .61 4 .61 4.44 .61 4.76 .61 4.97 .62 5.06 .61 5.03 .61 4.91 .61 4.67 .61 4.38 .61 4.02 .62 3.61 .61 3.19 .61 2.75 .61 2.32 .61 1.92 .62 1.55 .61 1.21 .61 .93 .61 .68 .61 .48 .61 .3 .61 .16 .62 .02 .61-.1 .61-.25 .61-.4 .61-.6 .61-.82 .62-1.09 .61-1.4 .61-1.75 .61-2.15 .61-2.56 .62-2.99 .61-3.43 .61-3.84 .61-4.23 .61-4.55 .61-4.82 .61-4.98 .62-5.06 .61-5.02 .61-4.87 .61-4.58 .61-4.2 .61-3.68 .62-3.08 .61-2.39 .61-1.62 .61-.81 .61 .03 .62 .85 .61 1.67 .61 2.42 .61 3.12 .61 3.73 .61 4.22 .62 4.62 .61 4.89 .61 5.03 .61 5.07 .61 4.99 .61 4.81 .61 4.55 .62 4.21 .61 3.82 .61 3.39 .61 2.96 .61 2.53 .61 2.1 .62 1.71 .61 1.36 .61 1.05 .61 .78 .61 .56 .62 .37 .61 .22 .61 .09 .61-.03 .61-.16 .61-.29 .61-.47 .62-.66 .61-.9 .61-1.19 .61-1.52 .61-1.89 .61-2.29 .62-2.72 .61-3.16 .61-3.6 .61-4 .61-4.37 .61-4.67 .62-4.91 .61-5.04 .61-5.06 .61-4.98 .61-4.78 .62-4.44 .61-4 .61-3.44 .61-2.79 .61-2.06 .61-1.26 .61-.44 .62 .4 .61 1.23 .61 2.03 .61 2.76 .61 3.42 .62 3.98 .61 4.44 .61 4.77 .61 4.99 .61 5.07 .61 5.06 .62 4.92 .61 4.7 .61 4.39 .61 4.02 .61 3.61 .61 3.17 .61 2.73 .62 2.29 .61 1.89 .61 1.51 .61 1.17 .61 .89 .62 .64 .61 .45 .61 .28 .61 .15 .61 .03 .61-.08 .62-.2 .61-.35 .61-.52 .61-.73 .61-.99 .61-1.29 .61-1.64 .62-2.03 .61-2.45 .61-2.88 .61-3.33 .61-3.76 .62-4.16 .61-4.5 .61-4.79 .61-4.98 .61-5.07 .61-5.06 .61-4.92 .62-4.66 .61-4.28 .61-3.78 .61-3.17 .61-2.49 .61-1.72 .62-.9 .61-.06 .61 .78 .61 1.61 .61 2.38 .62 3.08 .61 3.71 .61 4.22 .61 4.63 .61 4.9 .61 5.06 .61 5.09 .62 5.01 .61 4.84 .61 4.56 .61 4.21 .61 3.82 .61 3.39 .62 2.93 .61 2.5 .61 2.06 .61 1.67 .61 1.31 .62 1 .61 .73 .61 .52 .61 .35 .61 .2 .61 .09 .61-.02 .62-.12 .61-.25 .61-.39 .61-.58 .61-.8 .62-1.08 .61-1.4 .61-1.77 .61-2.17 .61-2.6 .61-3.06 .62-3.49 .61-3.92 .61-4.31 .61-4.64 .61-4.88 .61-5.05 .61-5.09 .62-5.03 .61-4.84 .61-4.52 .61-4.09 .61-3.54 .62-2.89 .61-2.16 .61-1.37 .61-.53 .61 .32 .61 1.17 .62 1.97 .61 2.73 .61 3.39 .61 3.98 .61 4.44 .61 4.79 .61 5 .62 5.11 .61 5.08 .61 4.94 .61 4.72 .61 4.4 .62 4.02 .61 3.6 .61 3.16 .61 2.7 .61 2.25 .61 1.84 .61 1.45 .62 1.12 .61 .84 .61 .59 .61 .41 .61 .26 .61 .13 .62 .04 .61-.06 .61-.16 .61-.29 .61-.44 .62-.64 .61-.88 .61-1.17 .61-1.51 .61-1.9 .61-2.32 .61-2.77 .62-3.22 .61-3.66 .61-4.08 .61-4.46 .61-4.75 .62-4.98 .61-5.09 .61-5.09 .61-4.98 .61-4.73 .61-4.37 .62-3.88 .61-3.28 .61-2.59 .61-1.82 .61-1 .61-.15 .61 .71 .62 1.54 .61 2.34 .61 3.06 .61 3.69 .61 4.23 .62 4.63 .61 4.92 .61 5.09 .61 5.12 .61 5.04 .61 4.85 .62 4.58 .61 4.22 .61 3.81 .61 3.37 .61 2.91 .61 2.46 .61 2.02 .62 1.61 .61 1.25 .61 .94 .61 .68 .61 .47 .62 .3 .61 .19 .61 .08 .61-.01 .61-.1 .61-.19 .62-.32 .61-.49 .61-.7 .61-.96 .61-1.27 .61-1.63 .61-2.04 .62-2.47 .61-2.94 .61-3.39 .61-3.83 .61-4.24 .62-4.59 .61-4.87 .61-5.04 .61-5.12 .61-5.08 .61-4.91 .61-4.61 .62-4.18 .61-3.65 .61-3 .61-2.27 .61-1.46 .61-.63 .62 .24 .61 1.1 .61 1.92 .61 2.69 .61 3.38 .62 3.97 .61 4.45 .61 4.8 .61 5.04 .61 5.13 .61 5.11 .62 4.97 .61 4.74 .61 4.41 .61 4.02 .61 3.59 .61 3.13 .62 2.66 .61 2.21 .61 1.78 .61 1.39 .61 1.06 .61 .77 .62 .54 .61 .35 .61 .23 .61 .11 .61 .04 .61-.04 .61-.12 .62-.23 .61-.36 .61-.53 .61-.76 .61-1.05 .61-1.37 .62-1.76 .61-2.19 .61-2.64 .61-3.1 .61-3.56 .61-4 .62-4.4 .61-4.72 .61-4.96 .61-5.1 .61-5.14 .62-5.03 .61-4.81 .61-4.46 .61-3.99 .61-3.39 .61-2.7 .62-1.92 .61-1.1 .61-.24 .61 .63 .61 1.49 .61 2.29 .61 3.03 .62 3.68 .61 4.23 .61 4.65 .61 4.95 .61 5.11 .61 5.15 .62 5.07 .61 4.88 .61 4.59 .61 4.22 .61 3.81 .61 3.35 .62 2.88 .61 2.41 .61 1.96 .61 1.55 .61 1.18 .61 .87 .62 .62 .61 .41 .61 .26 .61 .15 .61 .07 .62 0 .61-.07 .61-.14 .61-.25 .61-.4 .61-.58 .62-.84 .61-1.13 .61-1.49 .61-1.9 .61-2.34 .61-2.8 .61-3.28 .62-3.74 .61-4.16 .61-4.54 .61-4.84 .61-5.05 .62-5.14 .61-5.13 .61-4.97 .61-4.7 .61-4.28 .61-3.75 .61-3.11 .62-2.38 .61-1.58 .61-.71 .61 .15 .61 1.03 .61 1.87 .62 2.65 .61 3.36 .61 3.97 .61 4.46 .61 4.82 .62 5.06 .61 5.16 .61 5.14 .61 5 .61 4.76 .61 4.42 .62 4.02 .61 3.57 .61 3.1 .61 2.62 .61 2.16 .61 1.72 .61 1.32 .62 .98 .61 .71 .61 .47 .61 .3 .61 .18 .62 .09 .61 .03 .61-.02 .61-.09 .61-.16 .61-.27 .61-.43 .62-.65 .61-.91 .61-1.23 .61-1.62 .61-2.04 .61-2.5 .62-2.98 .61-3.45 .61-3.92 .61-4.32 .61-4.68 .62-4.95 .61-5.11 .61-5.17 .61-5.09 .61-4.89 .61-4.55 .62-4.08 .61-3.5 .61-2.81 .61-2.04 .61-1.2 .61-.33 .62 .55 .61 1.43 .61 2.24 .61 3.01 .61 3.66 .61 4.23 .62 4.66 .61 4.97 .61 5.14 .61 5.19 .61 5.09 .61 4.91 .61 4.6 .62 4.23 .61 3.8 .61 3.33 .61 2.84 .61 2.36 .61 1.9 .62 1.48 .61 1.11 .61 .8 .61 .54 .61 .35 .62 .21 .61 .12 .61 .05 .61 0 .61-.04 .61-.1 .62-.18 .61-.3 .61-.47 .61-.71 .61-1 .61-1.34 .61-1.75 .62-2.2 .61-2.67 .61-3.15 .61-3.64 .61-4.08 .62-4.48 .61-4.81 .61-5.04 .61-5.16 .61-5.17 .61-5.04 .61-4.77 .62-4.38 .61-3.86 .61-3.22 .61-2.49 .61-1.68 .61-.82 .62 .07 .61 .96 .61 1.81 .61 2.61 .61 3.34 .61 3.96 .62 4.46 .61 4.84 .61 5.08 .61 5.2 .61 5.16 .62 5.03 .61 4.77 .61 4.43 .61 4.02 .61 3.56 .61 3.07 .62 2.58 .61 2.1 .61 1.65 .61 1.26 .61 .9 .61 .63 .61 .41 .62 .24 .61 .13 .61 .06 .61 .02 .61-.01 .62-.05 .61-.1 .61-.2 .61-.33 .61-.52 .61-.78 .61-1.09 .62-1.47 .61-1.9 .61-2.35 .61-2.85 .61-3.34 .61-3.81 .62-4.26 .61-4.62 .61-4.93 .61-5.11 .61-5.2 .62-5.14 .61-4.96 .61-4.64 .61-4.18 .61-3.61 .61-2.92 .62-2.15 .61-1.3 .61-.42 .61 .47 .61 1.36 .61 2.19 .61 2.97 .62 3.65 .61 4.23 .61 4.67 .61 4.99 .61 5.16 .62 5.21 .61 5.12 .61 4.93 .61 4.61 .61 4.24 .61 3.79 .61 3.3 .62 2.81 .61 2.31 .61 1.84 .61 1.41 .61 1.04 .61 .72 .62 .48 .61 .28 .61 .15 .61 .08 .61 .02 .62 0 .61-.02 .61-.05 .61-.11 .61-.21 .61-.37 .62-.58 .61-.86 .61-1.2 .61-1.6 .61-2.05 .61-2.53 .62-3.03 .61-3.53 .61-3.99 .61-4.41 .61-4.77 .61-5.02 .61-5.18 .62-5.2 .61-5.09 .61-4.85 .61-4.48 .61-3.96 .62-3.33 .61-2.59 .61-1.79 .61-.92 .61-.02 .61 .88 .61 1.76 .62 2.57 .61 3.3 .61 3.95 .61 4.46 .61 4.85 .61 5.1 .62 5.22 .61 5.19 .61 5.05 .61 4.79 .61 4.43 .62 4.02 .61 3.54 .61 3.04 .61 2.54 .61 2.04 .61 1.59 .62 1.19 .61 .83 .61 .56 .61 .33 .61 .18 .61 .09 .61 .03 .62 0 .61-.01 .61-.01 .61-.06 .61-.11 .61-.24 .62-.41 .61-.65 .61-.95 .61-1.32 .61-1.75 .61-2.21 .62-2.72 .61-3.21 .61-3.72 .61-4.17 .61-4.57 .61-4.88 .62-5.11 .61-5.21 .61-5.19 .61-5.02 .61-4.71 .62-4.28 .61-3.71 .61-3.03 .61-2.25 .61-1.41 .61-.52 .62 .39 .61 1.29 .61 2.14 .61 2.93 .61 3.62 .61 4.21 .61 4.68 .62 4.99 .61 5.19 .61 5.23 .61 5.14 .61 4.94 .62 4.63 .61 4.23 .61 3.78 .61 3.28 .61 2.78 .61 2.26 .61 1.79 .62 1.34 .61 .97 .61 .65 .61 .4 .61 .22 .61 .1 .62 .03 .61 0 .61-.01 .61 0 .61-.01 .62-.05 .61-.13 .61-.27 .61-.46 .61-.72 .61-1.06 .62-1.46 .61-1.9 .61-2.4 .61-2.9 .61-3.41 .61-3.89 .61-4.34 .62-4.72 .61-4.99 .61-5.18 .61-5.22 .61-5.14 .62-4.92 .61-4.55 .61-4.05 .61-3.43 .61-2.7 .61-1.89 .61-1.02 .62-.11 .61 .8 .61 1.68 .61 2.52 .61 3.27 .61 3.92 .62 4.45 .61 4.85 .61 5.11 .61 5.23 .61 5.21 .62 5.07 .61 4.8 .61 4.44 .61 4.01 .61 3.53 .61 3.01 .62 2.5 .61 1.99 .61 1.54 .61 1.11 .61 .77 .61 .48 .62 .27 .61 .12 .61 .03 .61 0 .61-.01 .61-.01 .62 .01 .61-.01 .61-.05 .61-.14 .61-.31 .61-.52 .61-.82 .62-1.18 .61-1.6 .61-2.08 .61-2.57 .61-3.1 .61-3.6 .62-4.08 .61-4.5 .61-4.84 .61-5.09 .61-5.22 .62-5.21 .61-5.07 .61-4.78 .61-4.36 .61-3.8 .61-3.13 .62-2.35 .61-1.51 .61-.62 .61 .31 .61 1.2 .61 2.08 .62 2.88 .61 3.59 .61 4.19 .61 4.66 .61 5 .61 5.19 .61 5.24 .62 5.15 .61 4.95 .61 4.64 .61 4.23 .61 3.77 .61 3.26 .62 2.74 .61 2.23 .61 1.73 .61 1.29 .61 .9 .61 .58 .62 .33 .61 .16 .61 .04 .61-.01 .61-.03 .61-.01 .62 .01 .61 .02 .61 0 .61-.06 .61-.17 .62-.35 .61-.6 .61-.92 .61-1.32 .61-1.76 .61-2.25 .62-2.77 .61-3.29 .61-3.8 .61-4.25 .61-4.65 .61-4.96 .61-5.16 .62-5.23 .61-5.17 .61-4.97 .61-4.62 .61-4.14 .62-3.52 .61-2.8 .61-1.99 .61-1.12 .61-.2 .61 .72 .61 1.61 .62 2.45 .61 3.22 .61 3.89 .61 4.43 .61 4.84 .61 5.11 .62 5.23 .61 5.22 .61 5.07 .61 4.81 .61 4.44 .62 4.01 .61 3.51 .61 2.99 .61 2.46 .61 1.95 .61 1.48 .62 1.06 .61 .7 .61 .41 .61 .21 .61 .06 .61-.01 .61-.04 .62-.03 .61-.01 .61 .03 .61 .03 .61 .01 .62-.07 .61-.2 .61-.41 .61-.7 .61-1.04 .61-1.46 .62-1.93 .61-2.45 .61-2.96 .61-3.49 .61-3.99 .61-4.42 .61-4.79 .62-5.05 .61-5.21 .61-5.22 .61-5.1 .61-4.84 .62-4.43 .61-3.88 .61-3.22 .61-2.45 .61-1.61 .61-.71 .62 .21 .61 1.13 .61 2.01 .61 2.81 .61 3.55 .61 4.15 .61 4.64 .62 4.99 .61 5.18 .61 5.24 .61 5.16 .61 4.95 .62 4.64 .61 4.23 .61 3.76 .61 3.24 .61 2.71 .61 2.19 .62 1.68 .61 1.24 .61 .84 .61 .52 .61 .28 .61 .09 .61 0 .62-.06 .61-.05 .61-.03 .61 .02 .61 .04 .61 .05 .62 .01 .61-.09 .61-.25 .61-.48 .61-.8 .62-1.18 .61-1.62 .61-2.12 .61-2.64 .61-3.17 .61-3.68 .61-4.17 .62-4.58 .61-4.91 .61-5.12 .61-5.23 .61-5.19 .61-5 .62-4.67 .61-4.21 .61-3.6 .61-2.89 .61-2.09 .62-1.21 .61-.29 .61 .62 .61 1.53 .61 2.39 .61 3.16 .61 3.84 .62 4.39 .61 4.82 .61 5.09 .61 5.23 .61 5.21 .61 5.07 .62 4.81 .61 4.44 .61 3.99 .61 3.5 .61 2.97 .62 2.43 .61 1.91 .61 1.43 .61 1.01 .61 .65 .61 .35 .61 .15 .62 .02 .61-.06 .61-.08 .61-.05 .61-.01 .61 .04 .62 .06 .61 .06 .61 0 .61-.11 .61-.31 .62-.58 .61-.91 .61-1.33 .61-1.8 .61-2.31 .61-2.84 .61-3.37 .62-3.88 .61-4.34 .61-4.72 .61-5.01 .61-5.17 .61-5.23 .62-5.12 .61-4.87 .61-4.48 .61-3.95 .61-3.3 .62-2.54 .61-1.7 .61-.81 .61 .12 .61 1.04 .61 1.93 .62 2.75 .61 3.48 .61 4.11 .61 4.6 .61 4.96 .61 5.16 .61 5.23 .62 5.16 .61 4.94 .61 4.64 .61 4.22 .61 3.74 .62 3.23 .61 2.69 .61 2.15 .61 1.65 .61 1.19 .61 .79 .62 .47 .61 .21 .61 .05 .61-.05 .61-.09 .61-.09 .61-.04 .62 .02 .61 .06 .61 .09 .61 .06 .61-.01 .62-.16 .61-.38 .61-.68 .61-1.05 .61-1.5 .61-1.98 .62-2.5 .61-3.05 .61-3.57 .61-4.07 .61-4.49 .61-4.85 .61-5.09 .62-5.2 .61-5.19 .61-5.02 .61-4.71 .61-4.26 .62-3.68 .61-2.97 .61-2.17 .61-1.3 .61-.39 .61 .54 .62 1.44 .61 2.31 .61 3.09 .61 3.78 .61 4.35 .61 4.77 .61 5.07 .62 5.2 .61 5.2 .61 5.06 .61 4.8 .61 4.43 .62 3.98 .61 3.48 .61 2.95 .61 2.41 .61 1.88 .61 1.39 .62 .96 .61 .6 .61 .31 .61 .1 .61-.04 .61-.1 .61-.11 .62-.07 .61-.02 .61 .04 .61 .09 .61 .1 .61 .07 .62-.04 .61-.22 .61-.46 .61-.8 .61-1.21 .62-1.66 .61-2.18 .61-2.71 .61-3.25 .61-3.77 .61-4.24 .61-4.64 .62-4.95 .61-5.14 .61-5.2 .61-5.13 .61-4.89 .61-4.52 .62-4.01 .61-3.37 .61-2.62 .61-1.79 .61-.9 .62 .03 .61 .95 .61 1.84 .61 2.67 .61 3.42 .61 4.04 .61 4.56 .62 4.91 .61 5.14 .61 5.2 .61 5.14 .61 4.93 .61 4.62 .62 4.21 .61 3.73 .61 3.21 .61 2.67 .61 2.12 .62 1.62 .61 1.15 .61 .75 .61 .42 .61 .17 .61 0 .61-.1 .62-.12 .61-.11 .61-.06 .61 .01 .61 .08 .61 .11 .62 .12 .61 .05 .61-.08 .61-.29 .61-.57 .62-.93 .61-1.37 .61-1.85 .61-2.38 .61-2.92 .61-3.45 .62-3.96 .61-4.4 .61-4.77 .61-5.03 .61-5.17 .61-5.17 .61-5.03 .62-4.74 .61-4.3 .61-3.73 .61-3.04 .61-2.26 .62-1.39 .61-.48 .61 .45 .61 1.35 .61 2.22 .61 3.02 .62 3.71 .61 4.28 .61 4.73 .61 5.02 .61 5.17 .61 5.17 .61 5.04 .62 4.78 .61 4.42 .61 3.97 .61 3.47 .61 2.92 .62 2.39 .61 1.85 .61 1.36 .61 .92 .61 .56 .61 .26 .62 .06 .61-.08 .61-.14 .61-.14 .61-.1 .61-.02 .61 .04 .62 .11 .61 .14 .61 .11 .61 .03 .61-.13 .62-.37 .61-.69 .61-1.08 .61-1.54 .61-2.05 .61-2.58 .62-3.13 .61-3.65 .61-4.14 .61-4.55 .61-4.88 .61-5.09 .61-5.17 .62-5.1 .61-4.91 .61-4.55 .61-4.05 .61-3.43 .61-2.69 .62-1.87 .61-.99 .61-.06 .61 .86 .61 1.75 .62 2.58 .61 3.34 .61 3.97 .61 4.49 .61 4.87 .61 5.09 .61 5.17 .62 5.1 .61 4.92 .61 4.6 .61 4.19 .61 3.72 .61 3.19 .62 2.64 .61 2.1 .61 1.59 .61 1.12 .61 .71 .62 .38 .61 .13 .61-.04 .61-.13 .61-.17 .61-.13 .61-.08 .62 .01 .61 .08 .61 .14 .61 .16 .61 .1 .61 0 .62-.2 .61-.47 .61-.82 .61-1.25 .61-1.72 .62-2.25 .61-2.79 .61-3.34 .61-3.84 .61-4.31 .61-4.68 .61-4.96 .62-5.12 .61-5.14 .61-5.02 .61-4.75 .61-4.33 .61-3.78 .62-3.1 .61-2.33 .61-1.47 .61-.57 .61 .35 .62 1.26 .61 2.13 .61 2.93 .61 3.63 .61 4.21 .61 4.66 .61 4.97 .62 5.13 .61 5.13 .61 5.01 .61 4.76 .61 4.4 .61 3.95 .62 3.45 .61 2.91 .61 2.36 .61 1.82 .61 1.34 .62 .89 .61 .52 .61 .22 .61 .02 .61-.12 .61-.17 .62-.17 .61-.12 .61-.04 .61 .05 .61 .12 .61 .16 .61 .16 .62 .09 .61-.05 .61-.28 .61-.59 .61-.96 .62-1.42 .61-1.92 .61-2.46 .61-3 .61-3.53 .61-4.03 .62-4.46 .61-4.79 .61-5.02 .61-5.12 .61-5.09 .61-4.89 .61-4.57 .62-4.08 .61-3.48 .61-2.76 .61-1.95 .61-1.07 .62-.15 .61 .76 .61 1.65 .61 2.5 .61 3.25 .61 3.89 .62 4.42 .61 4.8 .61 5.04 .61 5.12 .61 5.07 .61 4.88 .61 4.58 .62 4.17 .61 3.7 .61 3.17 .61 2.62 .61 2.08 .62 1.56 .61 1.09 .61 .68 .61 .35 .61 .09 .61-.07 .62-.18 .61-.19 .61-.16 .61-.09 .61-.01 .61 .09 .61 .16 .62 .19 .61 .15 .61 .06 .61-.11 .61-.38 .62-.71 .61-1.13 .61-1.6 .61-2.12 .61-2.67 .61-3.21 .62-3.72 .61-4.2 .61-4.59 .61-4.88 .61-5.06 .61-5.1 .61-4.99 .62-4.75 .61-4.35 .61-3.81 .61-3.16 .61-2.4 .61-1.55 .62-.66 .61 .26 .61 1.16 .61 2.04 .61 2.84 .62 3.54 .61 4.13 .61 4.59 .61 4.91 .61 5.07 .61 5.09 .61 4.97 .62 4.72 .61 4.38 .61 3.93 .61 3.42 .61 2.89 .61 2.34 .62 1.81 .61 1.3 .61 .86 .61 .49 .61 .19 .62-.02 .61-.15 .61-.2 .61-.2 .61-.15 .61-.05 .61 .04 .62 .13 .61 .19 .61 .2 .61 .14 .61 .02 .61-.19 .62-.49 .61-.86 .61-1.29 .61-1.8 .61-2.33 .62-2.87 .61-3.41 .61-3.91 .61-4.35 .61-4.7 .61-4.95 .61-5.06 .62-5.05 .61-4.88 .61-4.56 .61-4.11 .61-3.52 .61-2.82 .62-2.02 .61-1.15 .61-.25 .61 .67 .61 1.56 .62 2.4 .61 3.15 .61 3.81 .61 4.34 .61 4.73 .61 4.97 .62 5.07 .61 5.03 .61 4.84 .61 4.54 .61 4.15 .61 3.68 .61 3.15 .62 2.6 .61 2.06 .61 1.54 .61 1.06 .61 .65 .62 .31 .61 .06 .61-.11 .61-.21 .61-.22 .61-.19 .62-.11 .61-.02 .61 .09 .61 .18 .61 .21 .61 .2 .61 .12 .62-.04 .61-.29 .61-.61 .61-1.01 .61-1.48 .62-1.99 .61-2.54 .61-3.07 .61-3.61 .61-4.08 .61-4.48 .62-4.8 .61-4.98 .61-5.05 .61-4.97 .61-4.73 .61-4.36 .61-3.84 .62-3.21 .61-2.45 .61-1.63 .61-.75 .61 .17 .62 1.07 .61 1.94 .61 2.73 .61 3.45 .61 4.05 .61 4.51 .62 4.83 .61 5.01 .61 5.04 .61 4.93 .61 4.69 .61 4.34 .61 3.9 .62 3.41 .61 2.86 .61 2.32 .61 1.78 .61 1.28 .61 .84 .62 .45 .61 .16 .61-.05 .61-.19 .61-.24 .62-.23 .61-.16 .61-.07 .61 .03 .61 .14 .61 .21 .61 .23 .62 .2 .61 .08 .61-.11 .61-.4 .61-.74 .61-1.18 .62-1.67 .61-2.2 .61-2.74 .61-3.28 .61-3.79 .62-4.24 .61-4.6 .61-4.86 .61-5 .61-5 .61-4.85 .61-4.56 .62-4.13 .61-3.55 .61-2.87 .61-2.08 .61-1.23 .61-.34 .62 .58 .61 1.46 .61 2.29 .61 3.06 .61 3.72 .62 4.25 .61 4.65 .61 4.9 .61 5.01 .61 4.98 .61 4.79 .61 4.51 .62 4.12 .61 3.65 .61 3.12 .61 2.58 .61 2.04 .61 1.51 .62 1.04 .61 .62 .61 .28 .61 .03 .61-.15 .62-.24 .61-.26 .61-.21 .61-.14 .61-.02 .61 .09 .61 .18 .62 .24 .61 .24 .61 .18 .61 .03 .61-.2 .61-.51 .62-.9 .61-1.35 .61-1.87 .61-2.4 .61-2.95 .62-3.47 .61-3.96 .61-4.38 .61-4.7 .61-4.9 .61-4.99 .62-4.92 .61-4.72 .61-4.36 .61-3.86 .61-3.24 .61-2.52 .61-1.7 .62-.82 .61 .07 .61 .97 .61 1.84 .61 2.64 .62 3.35 .61 3.95 .61 4.43 .61 4.76 .61 4.94 .61 4.98 .62 4.87 .61 4.65 .61 4.3 .61 3.88 .61 3.37 .61 2.85 .61 2.29 .62 1.76 .61 1.25 .61 .81 .61 .42 .61 .13 .62-.09 .61-.22 .61-.27 .61-.26 .61-.19 .61-.09 .62 .03 .61 .14 .61 .23 .61 .26 .61 .24 .61 .15 .61-.04 .62-.3 .61-.64 .61-1.06 .61-1.54 .61-2.07 .62-2.6 .61-3.15 .61-3.66 .61-4.12 .61-4.5 .61-4.77 .62-4.92 .61-4.95 .61-4.82 .61-4.54 .61-4.13 .61-3.58 .61-2.92 .62-2.14 .61-1.31 .61-.42 .61 .48 .61 1.36 .62 2.2 .61 2.95 .61 3.62 .61 4.16 .61 4.57 .61 4.83 .62 4.94 .61 4.92 .61 4.75 .61 4.46 .61 4.08 .61 3.62 .61 3.1 .62 2.56 .61 2.01 .61 1.48 .61 1.01 .61 .59 .61 .25 .62-.01 .61-.18 .61-.27 .61-.29 .61-.24 .62-.16 .61-.04 .61 .09 .61 .19 .61 .26 .61 .28 .61 .23 .62 .1 .61-.11 .61-.41 .61-.79 .61-1.23 .61-1.74 .62-2.26 .61-2.82 .61-3.34 .61-3.83 .61-4.26 .62-4.6 .61-4.82 .61-4.92 .61-4.87 .61-4.69 .61-4.35 .61-3.88 .62-3.27 .61-2.57 .61-1.76 .61-.91 .61-.01 .61 .87 .62 1.74 .61 2.53 .61 3.25 .61 3.86 .61 4.34 .62 4.67 .61 4.87 .61 4.91 .61 4.82 .61 4.6 .61 4.26 .61 3.84 .62 3.35 .61 2.82 .61 2.26 .61 1.73 .61 1.23 .61 .78 .62 .39 .61 .1 .61-.13 .61-.25 .61-.31 .62-.29 .61-.22 .61-.11 .61 .02 .61 .14 .61 .24 .62 .3 .61 .28 .61 .21 .61 .04 .61-.2 .61-.54 .61-.94 .62-1.42 .61-1.93 .61-2.47 .61-3.01 .61-3.53 .62-4 .61-4.38 .61-4.67 .61-4.85 .61-4.88 .61-4.77 .62-4.53 .61-4.13 .61-3.6 .61-2.95 .61-2.21 .61-1.37 .61-.51 .62 .39 .61 1.26 .61 2.09 .61 2.86 .61 3.52 .61 4.06 .62 4.48 .61 4.75 .61 4.87 .61 4.85 .61 4.7 .62 4.42 .61 4.04 .61 3.58 .61 3.07 .61 2.53 .61 1.98 .62 1.46 .61 .98 .61 .56 .61 .21 .61-.04 .61-.22 .62-.31 .61-.32 .61-.27 .61-.18 .61-.06 .61 .08 .62 .2 .61 .28 .61 .32 .61 .28 .61 .17 .61-.03 .61-.31 .62-.68 .61-1.11 .61-1.6 .61-2.13 .61-2.67 .61-3.21 .62-3.7 .61-4.14 .61-4.49 .61-4.72 .61-4.84 .62-4.82 .61-4.66 .61-4.33 .61-3.89 .61-3.3 .61-2.61 .61-1.83 .62-.99 .61-.1 .61 .78 .61 1.63 .61 2.44 .61 3.15 .62 3.76 .61 4.24 .61 4.59 .61 4.79 .61 4.84 .61 4.76 .62 4.54 .61 4.22 .61 3.8 .61 3.32 .61 2.78 .61 2.24 .62 1.7 .61 1.2 .61 .74 .61 .36 .61 .06 .62-.16 .61-.29 .61-.35 .61-.32 .61-.25 .61-.13 .62 .01 .61 .14 .61 .25 .61 .32 .61 .33 .61 .27 .61 .12 .62-.12 .61-.43 .61-.82 .61-1.29 .61-1.79 .61-2.34 .62-2.87 .61-3.39 .61-3.87 .61-4.26 .61-4.57 .62-4.75 .61-4.82 .61-4.72 .61-4.5 .61-4.13 .61-3.61 .62-2.99 .61-2.26 .61-1.44 .61-.59 .61 .29 .61 1.17 .61 1.99 .62 2.75 .61 3.42 .61 3.97 .61 4.38 .61 4.67 .62 4.8 .61 4.78 .61 4.64 .61 4.37 .61 3.99 .61 3.55 .61 3.03 .62 2.5 .61 1.95 .61 1.42 .61 .95 .61 .53 .61 .18 .62-.08 .61-.26 .61-.35 .61-.36 .61-.3 .62-.21 .61-.07 .61 .07 .61 .2 .61 .3 .61 .35 .62 .34 .61 .23 .61 .06 .61-.21 .61-.57 .61-.98 .61-1.47 .62-1.99 .61-2.53 .61-3.07 .61-3.57 .61-4.01 .61-4.37 .62-4.63 .61-4.76 .61-4.75 .61-4.61 .61-4.32 .62-3.89 .61-3.33 .61-2.65 .61-1.89 .61-1.06 .61-.19 .62 .69 .61 1.53 .61 2.33 .61 3.05 .61 3.66 .61 4.14 .61 4.5 .62 4.71 .61 4.77 .61 4.7 .61 4.48 .61 4.17 .61 3.76 .62 3.27 .61 2.75 .61 2.21 .61 1.67 .61 1.16 .61 .71 .62 .33 .61 .01 .61-.2 .61-.33 .61-.38 .62-.36 .61-.27 .61-.16 .61 0 .61 .13 .61 .27 .62 .34 .61 .37 .61 .33 .61 .19 .61-.02 .61-.33 .62-.7 .61-1.16 .61-1.65 .61-2.19 .61-2.73 .61-3.25 .62-3.73 .61-4.14 .61-4.46 .61-4.66 .61-4.74 .61-4.68 .61-4.46 .62-4.11 .61-3.63 .61-3.02 .61-2.3 .61-1.52 .61-.66 .62 .2 .61 1.07 .61 1.89 .61 2.64 .61 3.32 .62 3.87 .61 4.29 .61 4.58 .61 4.72 .61 4.71 .61 4.58 .62 4.31 .61 3.95 .61 3.5 .61 2.99 .61 2.46 .61 1.92 .61 1.39 .62 .91 .61 .49 .61 .14 .61-.12 .61-.29 .61-.39 .62-.4 .61-.34 .61-.23 .61-.1 .61 .07 .61 .2 .62 .32 .61 .38 .61 .38 .61 .31 .61 .13 .61-.11 .62-.45 .61-.86 .61-1.33 .61-1.85 .61-2.38 .61-2.93 .62-3.42 .61-3.88 .61-4.25 .61-4.53 .61-4.67 .62-4.69 .61-4.56 .61-4.29 .61-3.89 .61-3.34 .61-2.69 .62-1.95 .61-1.13 .61-.27 .61 .59 .61 1.43 .61 2.23 .62 2.94 .61 3.56 .61 4.05 .61 4.4 .61 4.63 .61 4.69 .62 4.63 .61 4.42 .61 4.12 .61 3.71 .61 3.23 .61 2.71 .62 2.17 .61 1.63 .61 1.13 .61 .67 .61 .28 .61-.02 .61-.24 .62-.37 .61-.42 .61-.4 .61-.31 .61-.18 .62-.02 .61 .13 .61 .27 .61 .37 .61 .41 .61 .38 .62 .27 .61 .07 .61-.21 .61-.59 .61-1.02 .61-1.52 .61-2.04 .62-2.58 .61-3.11 .61-3.59 .61-4.01 .61-4.35 .61-4.56 .62-4.66 .61-4.61 .61-4.43 .61-4.09 .61-3.63 .61-3.05 .62-2.35 .61-1.57 .61-.74 .61 .11 .61 .97 .61 1.79 .62 2.54 .61 3.21 .61 3.77 .61 4.2 .61 4.48 .61 4.64 .62 4.64 .61 4.51 .61 4.25 .61 3.9 .61 3.45 .62 2.95 .61 2.42 .61 1.88 .61 1.36 .61 .87 .61 .45 .62 .1 .61-.17 .61-.34 .61-.43 .61-.44 .61-.38 .62-.26 .61-.11 .61 .05 .61 .2 .61 .34 .61 .41 .62 .43 .61 .37 .61 .22 .61-.01 .61-.34 .61-.73 .61-1.19 .62-1.71 .61-2.24 .61-2.77 .61-3.28 .61-3.74 .61-4.13 .62-4.41 .61-4.58 .61-4.62 .61-4.51 .61-4.26 .62-3.88 .61-3.35 .61-2.73 .61-1.99 .61-1.2 .61-.36 .61 .5 .62 1.34 .61 2.12 .61 2.84 .61 3.45 .61 3.95 .61 4.31 .62 4.54 .61 4.61 .61 4.55 .61 4.37 .61 4.05 .61 3.66 .62 3.19 .61 2.66 .61 2.13 .61 1.59 .61 1.09 .61 .63 .62 .24 .61-.06 .61-.29 .61-.42 .61-.46 .61-.44 .62-.35 .61-.2 .61-.04" stroke="#009e73" stroke-width="6.5"/>
</g>
<g id="curves-wd" class="cv" shape-rendering="crispEdges">
<path id="cDQ1wd" d="M379 47l.61 .53 .61 1.56 .61 2.6 .62 3.58 .61 4.53 .61 5.42 .61 6.23 .61 6.97 .61 7.63 .62 8.17 .61 8.62 .61 8.96 .61 9.18 .61 9.28 .62 9.27 .61 9.14 .61 8.89 .61 8.53 .61 8.06 .61 7.48 .62 6.82 .61 6.05 .61 5.23 .61 4.32 .61 3.36 .61 2.37 .61 1.33 .62 .29 .61-.76 .61-1.8 .61-2.82 .61-3.8 .62-4.74 .61-5.6 .61-6.41 .61-7.13 .61-7.75 .61-8.28 .62-8.71 .61-9.02 .61-9.21 .61-9.29 .61-9.25 .61-9.1 .61-8.82 .62-8.43 .61-7.93 .61-7.34 .61-6.65 .61-5.88 .61-5.02 .62-4.11 .61-3.15 .61-2.13 .61-1.1 .61-.05 .62 .99 .61 2.04 .61 3.04 .61 4.02 .61 4.93 .61 5.8 .61 6.57 .62 7.28 .61 7.88 .61 8.38 .61 8.79 .61 9.07 .61 9.24 .62 9.29 .61 9.23 .61 9.04 .61 8.74 .61 8.32 .62 7.81 .61 7.2 .61 6.48 .61 5.69 .61 4.82 .61 3.89 .62 2.92 .61 1.91 .61 .86 .61-.18 .61-1.23 .61-2.27 .61-3.26 .62-4.23 .61-5.14 .61-5.97 .61-6.74 .61-7.42 .61-8 .62-8.49 .61-8.85 .61-9.12 .61-9.26 .61-9.28 .62-9.2 .61-8.98 .61-8.65 .61-8.22 .61-7.68 .61-7.04 .62-6.31 .61-5.49 .61-4.62 .61-3.68 .61-2.7 .61-1.67 .61-.63 .62 .42 .61 1.47 .61 2.49 .61 3.49 .61 4.44 .61 5.32 .62 6.16 .61 6.9 .61 7.56 .61 8.11 .61 8.58 .62 8.92 .61 9.16 .61 9.27 .61 9.27 .61 9.15 .61 8.92 .61 8.56 .62 8.11 .61 7.54 .61 6.88 .61 6.13 .61 5.3 .61 4.42 .62 3.46 .61 2.46 .61 1.44 .61 .39 .61-.65 .62-1.7 .61-2.72 .61-3.71 .61-4.64 .61-5.52 .61-6.33 .62-7.05 .61-7.69 .61-8.23 .61-8.66 .61-8.98 .61-9.19 .61-9.28 .62-9.25 .61-9.11 .61-8.84 .61-8.46 .61-7.99 .61-7.39 .62-6.72 .61-5.95 .61-5.11 .61-4.2 .61-3.24 .62-2.24 .61-1.2 .61-.16 .61 .89 .61 1.93 .61 2.95 .62 3.92 .61 4.84 .61 5.71 .61 6.5 .61 7.2 .61 7.82 .61 8.33 .62 8.74 .61 9.03 .61 9.22 .61 9.28 .61 9.22 .62 9.05 .61 8.77 .61 8.36 .61 7.86 .61 7.25 .61 6.55 .62 5.76 .61 4.91 .61 3.99 .61 3.02 .61 2 .61 .97 .61-.08 .62-1.13 .61-2.16 .61-3.17 .61-4.13 .61-5.04 .61-5.89 .62-6.66 .61-7.35 .61-7.94 .61-8.43 .61-8.81 .62-9.08 .61-9.24 .61-9.27 .61-9.19 .61-8.99 .61-8.68 .61-8.25 .62-7.73 .61-7.1 .61-6.37 .61-5.58 .61-4.71 .62-3.77 .61-2.79 .61-1.78 .61-.73 .61 .32 .61 1.36 .61 2.39 .62 3.39 .61 4.34 .61 5.24 .61 6.07 .61 6.82 .61 7.48 .62 8.06 .61 8.52 .61 8.88 .61 9.12 .61 9.24 .62 9.26 .61 9.15 .61 8.93 .61 8.59 .61 8.14 .61 7.58 .61 6.94 .62 6.21 .61 5.38 .61 4.5 .61 3.56 .61 2.56 .62 1.54 .61 .5 .61-.55 .61-1.6 .61-2.62 .61-3.6 .62-4.55 .61-5.43 .61-6.24 .61-6.98 .61-7.62 .61-8.16 .61-8.61 .62-8.93 .61-9.15 .61-9.26 .61-9.24 .61-9.1 .62-8.85 .61-8.49 .61-8.02 .61-7.45 .61-6.78 .61-6.02 .62-5.19 .61-4.29 .61-3.34 .61-2.33 .61-1.31 .61-.26 .61 .79 .62 1.82 .61 2.85 .61 3.82 .61 4.75 .61 5.62 .62 6.41 .61 7.13 .61 7.74 .61 8.27 .61 8.68 .61 8.99 .62 9.18 .61 9.25 .61 9.21 .61 9.05 .61 8.78 .61 8.39 .61 7.89 .62 7.3 .61 6.61 .61 5.84 .61 4.99 .61 4.08 .62 3.11 .61 2.11 .61 1.07 .61 .03 .61-1.03 .61-2.05 .61-3.07 .62-4.04 .61-4.95 .61-5.8 .61-6.57 .61-7.27 .61-7.87 .62-8.36 .61-8.76 .61-9.03 .61-9.2 .61-9.25 .62-9.17 .61-8.99 .61-8.69 .61-8.28 .61-7.77 .61-7.15 .61-6.44 .62-5.65 .61-4.79 .61-3.87 .61-2.88 .61-1.88 .61-.84 .62 .22 .61 1.25 .61 2.29 .61 3.29 .61 4.24 .62 5.15 .61 5.98 .61 6.74 .61 7.4 .61 7.99 .61 8.45 .61 8.82 .62 9.07 .61 9.21 .61 9.23 .61 9.14 .61 8.93 .61 8.6 .62 8.16 .61 7.63 .61 7 .61 6.26 .61 5.47 .62 4.58 .61 3.65 .61 2.66 .61 1.64 .61 .6 .61-.45 .61-1.49 .62-2.51 .61-3.51 .61-4.45 .61-5.34 .61-6.15 .62-6.89 .61-7.54 .61-8.09 .61-8.54 .61-8.88 .61-9.1 .62-9.22 .61-9.21 .61-9.09 .61-8.85 .61-8.51 .61-8.05 .61-7.49 .62-6.83 .61-6.09 .61-5.27 .61-4.37 .61-3.43 .62-2.43 .61-1.41 .61-.37 .61 .69 .61 1.72 .61 2.74 .61 3.72 .62 4.66 .61 5.52 .61 6.32 .61 7.05 .61 7.66 .62 8.19 .61 8.62 .61 8.93 .61 9.13 .61 9.22 .61 9.18 .62 9.04 .61 8.77 .61 8.41 .61 7.92 .61 7.34 .61 6.67 .61 5.91 .62 5.07 .61 4.16 .61 3.21 .61 2.21 .61 1.17 .62 .13 .61-.92 .61-1.96 .61-2.96 .61-3.93 .61-4.86 .62-5.71 .61-6.48 .61-7.19 .61-7.78 .61-8.29 .61-8.69 .61-8.98 .62-9.15 .61-9.2 .61-9.15 .61-8.98 .61-8.69 .62-8.3 .61-7.79 .61-7.2 .61-6.5 .61-5.72 .61-4.87 .62-3.95 .61-2.98 .61-1.98 .61-.94 .61 .11 .61 1.16 .61 2.18 .62 3.19 .61 4.14 .61 5.05 .61 5.89 .61 6.64 .62 7.32 .61 7.91 .61 8.38 .61 8.75 .61 9.01 .61 9.16 .61 9.19 .62 9.11 .61 8.92 .61 8.6 .61 8.18 .61 7.66 .61 7.04 .62 6.33 .61 5.53 .61 4.67 .61 3.73 .61 2.76 .62 1.74 .61 .71 .61-.35 .61-1.38 .61-2.41 .61-3.41 .61-4.35 .62-5.24 .61-6.06 .61-6.8 .61-7.46 .61-8.01 .61-8.46 .62-8.81 .61-9.04 .61-9.17 .61-9.17 .61-9.07 .62-8.84 .61-8.5 .61-8.07 .61-7.52 .61-6.88 .61-6.15 .61-5.34 .62-4.46 .61-3.52 .61-2.53 .61-1.51 .61-.47 .61 .58 .62 1.62 .61 2.64 .61 3.62 .61 4.55 .61 5.43 .62 6.23 .61 6.95 .61 7.58 .61 8.11 .61 8.54 .61 8.86 .62 9.07 .61 9.17 .61 9.14 .61 9.01 .61 8.77 .61 8.4 .61 7.95 .62 7.37 .61 6.72 .61 5.97 .61 5.14 .61 4.25 .61 3.3 .62 2.31 .61 1.27 .61 .24 .61-.82 .61-1.85 .62-2.86 .61-3.84 .61-4.75 .61-5.61 .61-6.39 .61-7.1 .61-7.7 .62-8.2 .61-8.61 .61-8.91 .61-9.09 .61-9.15 .61-9.11 .62-8.96 .61-8.68 .61-8.3 .61-7.81 .61-7.23 .62-6.55 .61-5.79 .61-4.94 .61-4.04 .61-3.08 .61-2.07 .62-1.04 .61 0 .61 1.05 .61 2.08 .61 3.08 .61 4.05 .61 4.95 .62 5.79 .61 6.55 .61 7.23 .61 7.81 .61 8.3 .62 8.67 .61 8.94 .61 9.1 .61 9.14 .61 9.08 .61 8.88 .62 8.6 .61 8.18 .61 7.69 .61 7.07 .61 6.38 .61 5.6 .61 4.74 .62 3.83 .61 2.85 .61 1.84 .61 .81 .61-.24 .62-1.28 .61-2.31 .61-3.3 .61-4.25 .61-5.14 .61-5.97 .62-6.7 .61-7.36 .61-7.92 .61-8.38 .61-8.73 .61-8.98 .61-9.1 .62-9.12 .61-9.02 .61-8.82 .61-8.5 .61-8.07 .62-7.55 .61-6.92 .61-6.2 .61-5.41 .61-4.54 .61-3.6 .61-2.63 .62-1.61 .61-.57 .61 .47 .61 1.52 .61 2.53 .61 3.52 .62 4.45 .61 5.33 .61 6.13 .61 6.86 .61 7.48 .62 8.02 .61 8.46 .61 8.78 .61 9 .61 9.1 .61 9.09 .61 8.97 .62 8.74 .61 8.4 .61 7.95 .61 7.41 .61 6.75 .61 6.03 .62 5.21 .61 4.33 .61 3.39 .61 2.4 .61 1.38 .62 .34 .61-.71 .61-1.75 .61-2.76 .61-3.73 .61-4.65 .61-5.51 .62-6.3 .61-6.99 .61-7.61 .61-8.11 .61-8.53 .61-8.82 .62-9.02 .61-9.09 .61-9.06 .61-8.91 .61-8.66 .62-8.29 .61-7.83 .61-7.26 .61-6.59 .61-5.84 .61-5.02 .62-4.12 .61-3.17 .61-2.17 .61-1.14 .61-.1 .61 .94 .62 1.98 .61 2.98 .61 3.94 .61 4.84 .61 5.69 .61 6.46 .62 7.13 .61 7.72 .61 8.2 .61 8.59 .61 8.86 .61 9.02 .61 9.08 .62 9.02 .61 8.85 .61 8.57 .61 8.18 .61 7.7 .61 7.1 .62 6.43 .61 5.66 .61 4.81 .61 3.91 .61 2.95 .61 1.94 .62 .91 .61-.14 .61-1.18 .61-2.2 .61-3.2 .62-4.14 .61-5.04 .61-5.87 .61-6.6 .61-7.26 .61-7.83 .62-8.28 .61-8.64 .61-8.89 .61-9.03 .61-9.06 .61-8.97 .61-8.78 .62-8.48 .61-8.07 .61-7.56 .61-6.95 .61-6.25 .62-5.47 .61-4.62 .61-3.69 .61-2.72 .61-1.71 .61-.67 .62 .37 .61 1.41 .61 2.43 .61 3.41 .61 4.35 .61 5.23 .61 6.03 .62 6.75 .61 7.39 .61 7.92 .61 8.36 .61 8.69 .62 8.91 .61 9.03 .61 9.03 .61 8.92 .61 8.7 .61 8.38 .62 7.95 .61 7.42 .61 6.79 .61 6.08 .61 5.28 .61 4.41 .61 3.47 .62 2.49 .61 1.48 .61 .44 .61-.6 .61-1.64 .62-2.66 .61-3.62 .61-4.55 .61-5.41 .61-6.19 .61-6.9 .61-7.5 .62-8.02 .61-8.43 .61-8.73 .61-8.93 .61-9.01 .61-9 .62-8.86 .61-8.63 .61-8.27 .61-7.83 .61-7.27 .62-6.63 .61-5.9 .61-5.08 .61-4.2 .61-3.26 .61-2.26 .61-1.25 .62-.2 .61 .84 .61 1.87 .61 2.87 .61 3.84 .61 4.74 .62 5.59 .61 6.35 .61 7.03 .61 7.61 .61 8.11 .62 8.48 .61 8.77 .61 8.94 .61 9 .61 8.96 .61 8.8 .61 8.53 .62 8.17 .61 7.7 .61 7.13 .61 6.46 .61 5.71 .61 4.89 .62 3.98 .61 3.04 .61 2.04 .61 1.01 .61-.03 .62-1.08 .61-2.09 .61-3.1 .61-4.04 .61-4.93 .61-5.76 .62-6.5 .61-7.16 .61-7.72 .61-8.18 .61-8.55 .61-8.79 .61-8.94 .62-8.98 .61-8.91 .61-8.73 .61-8.45 .61-8.06 .61-7.56 .62-6.97 .61-6.3 .61-5.52 .61-4.69 .61-3.77 .62-2.81 .61-1.81 .61-.78 .61 .27 .61 1.3 .61 2.33 .61 3.31 .62 4.24 .61 5.12 .61 5.93 .61 6.65 .61 7.28 .61 7.81 .62 8.26 .61 8.59 .61 8.82 .61 8.94 .61 8.95 .61 8.86 .62 8.65 .61 8.35 .61 7.94 .61 7.42 .61 6.82 .62 6.12 .61 5.34 .61 4.48 .61 3.56 .61 2.58 .61 1.58 .61 .54 .62-.5 .61-1.53 .61-2.55 .61-3.52 .61-4.45 .62-5.3 .61-6.09 .61-6.78 .61-7.4 .61-7.91 .61-8.32 .62-8.63 .61-8.83 .61-8.93 .61-8.92 .61-8.8 .61-8.58 .61-8.25 .62-7.81 .61-7.28 .61-6.66 .61-5.94 .61-5.15 .62-4.27 .61-3.34 .61-2.36 .61-1.35 .61-.3 .61 .73 .62 1.76 .61 2.77 .61 3.73 .61 4.64 .61 5.48 .61 6.24 .61 6.92 .62 7.51 .61 8 .61 8.38 .61 8.66 .61 8.84 .62 8.92 .61 8.87 .61 8.74 .61 8.49 .61 8.14 .61 7.69 .61 7.14 .62 6.49 .61 5.76 .61 4.95 .61 4.07 .61 3.12 .61 2.13 .62 1.11 .61 .08 .61-.97 .61-1.99 .61-2.99 .62-3.94 .61-4.82 .61-5.65 .61-6.4 .61-7.05 .61-7.61 .61-8.07 .62-8.43 .61-8.69 .61-8.85 .61-8.89 .61-8.83 .61-8.67 .62-8.4 .61-8.03 .61-7.56 .61-6.99 .61-6.32 .62-5.58 .61-4.75 .61-3.85 .61-2.9 .61-1.91 .61-.87 .61 .16 .62 1.2 .61 2.21 .61 3.21 .61 4.13 .61 5.02 .62 5.81 .61 6.54 .61 7.17 .61 7.71 .61 8.14 .61 8.48 .62 8.71 .61 8.84 .61 8.87 .61 8.78 .61 8.59 .61 8.31 .61 7.91 .62 7.43 .61 6.83 .61 6.15 .61 5.39 .61 4.55 .62 3.64 .61 2.68 .61 1.67 .61 .65 .61-.4 .61-1.43 .62-2.44 .61-3.41 .61-4.34 .61-5.19 .61-5.98 .61-6.68 .61-7.28 .62-7.8 .61-8.2 .61-8.52 .61-8.73 .61-8.83 .62-8.83 .61-8.72 .61-8.52 .61-8.21 .61-7.79 .61-7.28 .61-6.68 .62-5.98 .61-5.2 .61-4.34 .61-3.43 .61-2.45 .61-1.44 .62-.41 .61 .63 .61 1.66 .61 2.66 .61 3.62 .62 4.53 .61 5.37 .61 6.13 .61 6.81 .61 7.39 .61 7.88 .61 8.27 .62 8.55 .61 8.73 .61 8.81 .61 8.79 .61 8.67 .62 8.43 .61 8.1 .61 7.67 .61 7.14 .61 6.52 .61 5.8 .62 5.01 .61 4.13 .61 3.21 .61 2.23 .61 1.21 .61 .17 .61-.86 .62-1.89 .61-2.88 .61-3.83 .61-4.72 .61-5.54 .62-6.28 .61-6.93 .61-7.49 .61-7.96 .61-8.31 .61-8.58 .62-8.73 .61-8.8 .61-8.74 .61-8.59 .61-8.35 .61-7.99 .61-7.54 .62-6.99 .61-6.36 .61-5.62 .61-4.81 .61-3.93 .62-2.98 .61-2 .61-.98 .61 .06 .61 1.09 .61 2.11 .62 3.1 .61 4.03 .61 4.9 .61 5.71 .61 6.42 .61 7.06 .61 7.58 .62 8.03 .61 8.36 .61 8.59 .61 8.73 .61 8.76 .62 8.7 .61 8.52 .61 8.25 .61 7.88 .61 7.41 .61 6.84 .61 6.18 .62 5.44 .61 4.61 .61 3.72 .61 2.76 .61 1.77 .61 .75 .62-.29 .61-1.33 .61-2.33 .61-3.31 .61-4.23 .62-5.08 .61-5.86 .61-6.57 .61-7.16 .61-7.68 .61-8.08 .62-8.4 .61-8.61 .61-8.72 .61-8.72 .61-8.64 .61-8.44 .62-8.16 .61-7.76 .61-7.27 .61-6.69 .61-6.01 .61-5.25 .62-4.41 .61-3.5 .61-2.54 .61-1.54 .61-.51 .61 .52 .61 1.55 .62 2.56 .61 3.51 .61 4.42 .61 5.26 .61 6.02 .61 6.69 .62 7.27 .61 7.76 .61 8.14 .61 8.43 .61 8.61 .61 8.7 .62 8.69 .61 8.57 .61 8.37 .61 8.05 .61 7.64 .62 7.13 .61 6.53 .61 5.83 .61 5.06 .61 4.21 .61 3.29 .62 2.31 .61 1.31 .61 .28 .61-.76 .61-1.78 .61-2.77 .61-3.72 .62-4.61 .61-5.42 .61-6.17 .61-6.81 .61-7.37 .61-7.83 .62-8.19 .61-8.46 .61-8.61 .61-8.68 .61-8.64 .61-8.51 .62-8.27 .61-7.95 .61-7.51 .61-6.99 .61-6.37 .61-5.66 .62-4.86 .61-4 .61-3.07 .61-2.09 .61-1.08 .62-.04 .61 .99 .61 2 .61 2.99 .61 3.92 .61 4.79 .62 5.59 .61 6.31 .61 6.93 .61 7.46 .61 7.9 .61 8.23 .61 8.47 .62 8.61 .61 8.65 .61 8.59 .61 8.44 .61 8.18 .62 7.83 .61 7.39 .61 6.84 .61 6.2 .61 5.48 .61 4.67 .61 3.79 .62 2.85 .61 1.86 .61 .84 .61-.19 .61-1.21 .61-2.23 .62-3.2 .61-4.12 .61-4.97 .61-5.75 .61-6.44 .62-7.04 .61-7.54 .61-7.96 .61-8.27 .61-8.48 .61-8.59 .62-8.62 .61-8.54 .61-8.36 .61-8.08 .61-7.72 .61-7.25 .61-6.69 .62-6.03 .61-5.3 .61-4.47 .61-3.58 .61-2.63 .62-1.63 .61-.61 .61 .42 .61 1.45 .61 2.44 .61 3.41 .61 4.31 .62 5.14 .61 5.9 .61 6.57 .61 7.15 .61 7.62 .61 8.01 .62 8.3 .61 8.48 .61 8.58 .61 8.57 .61 8.48 .62 8.28 .61 7.99 .61 7.6 .61 7.11 .61 6.53 .61 5.87 .62 5.1 .61 4.27 .61 3.37 .61 2.4 .61 1.41 .61 .37 .62-.65 .61-1.67 .61-2.66 .61-3.61 .61-4.5 .61-5.31 .62-6.05 .61-6.69 .61-7.24 .61-7.7 .61-8.05 .61-8.32 .61-8.49 .62-8.55 .61-8.53 .61-8.41 .61-8.19 .61-7.88 .61-7.48 .62-6.97 .61-6.38 .61-5.69 .61-4.91 .61-4.07 .62-3.15 .61-2.18 .61-1.17 .61-.15 .61 .89 .61 1.89 .62 2.88 .61 3.81 .61 4.68 .61 5.47 .61 6.19 .61 6.8 .61 7.33 .62 7.77 .61 8.09 .61 8.34 .61 8.47 .61 8.53 .62 8.47 .61 8.34 .61 8.11 .61 7.77 .61 7.35 .61 6.83 .61 6.21 .62 5.51 .61 4.73 .61 3.85 .61 2.94 .61 1.95 .61 .94 .62-.08 .61-1.11 .61-2.12 .61-3.09 .61-4.01 .61-4.85 .62-5.63 .61-6.32 .61-6.91 .61-7.42 .61-7.82 .62-8.13 .61-8.34 .61-8.46 .61-8.49 .61-8.42 .61-8.27 .62-8.01 .61-7.66 .61-7.22 .61-6.68 .61-6.05 .61-5.33 .61-4.52 .62-3.65 .61-2.71 .61-1.73 .61-.71 .61 .31 .62 1.34 .61 2.34 .61 3.3 .61 4.19 .61 5.03 .61 5.78 .61 6.45 .62 7.01 .61 7.49 .61 7.87 .61 8.16 .61 8.34 .61 8.44 .62 8.45 .61 8.37 .61 8.18 .61 7.91 .61 7.55 .62 7.08 .61 6.53 .61 5.88 .61 5.15 .61 4.33 .61 3.43 .62 2.49 .61 1.5 .61 .48 .61-.54 .61-1.57 .61-2.55 .61-3.5 .62-4.39 .61-5.19 .61-5.92 .61-6.57 .61-7.1 .62-7.56 .61-7.92 .61-8.17 .61-8.35 .61-8.41 .61-8.41 .61-8.29 .62-8.11 .61-7.81 .61-7.42 .61-6.95 .61-6.37 .61-5.71 .62-4.96 .61-4.13 .61-3.22 .61-2.27 .61-1.27 .62-.25 .61 .78 .61 1.79 .61 2.77 .61 3.7 .61 4.56 .62 5.35 .61 6.06 .61 6.68 .61 7.19 .61 7.63 .61 7.95 .62 8.19 .61 8.33 .61 8.39 .61 8.35 .61 8.23 .61 8.01 .61 7.71 .62 7.3 .61 6.8 .61 6.22 .61 5.54 .61 4.76 .62 3.93 .61 3.01 .61 2.04 .61 1.04 .61 .02 .61-1.01 .61-2.01 .62-2.98 .61-3.89 .61-4.74 .61-5.51 .61-6.19 .61-6.78 .62-7.28 .61-7.67 .61-7.98 .61-8.2 .61-8.32 .62-8.35 .61-8.3 .61-8.15 .61-7.92 .61-7.6 .61-7.17 .62-6.67 .61-6.05 .61-5.36 .61-4.57 .61-3.72 .61-2.79 .61-1.82 .62-.81 .61 .21 .61 1.24 .61 2.23 .61 3.18 .61 4.08 .62 4.91 .61 5.66 .61 6.31 .61 6.88 .61 7.35 .61 7.73 .62 8 .61 8.2 .61 8.3 .61 8.31 .61 8.24 .61 8.07 .62 7.83 .61 7.48 .61 7.04 .61 6.52 .61 5.89 .62 5.18 .61 4.38 .61 3.5 .61 2.58 .61 1.59 .61 .58 .62-.45 .61-1.45 .61-2.45 .61-3.39 .61-4.26 .61-5.08 .61-5.8 .62-6.43 .61-6.97 .61-7.41 .61-7.77 .61-8.02 .62-8.19 .61-8.27 .61-8.27 .61-8.17 .61-8 .61-7.72 .61-7.37 .62-6.91 .61-6.36 .61-5.73 .61-4.99 .61-4.18 .61-3.3 .62-2.35 .61-1.36 .61-.35 .61 .67 .61 1.68 .62 2.66 .61 3.58 .61 4.45 .61 5.23 .61 5.94 .61 6.54 .62 7.05 .61 7.48 .61 7.79 .61 8.04 .61 8.18 .61 8.24 .61 8.22 .62 8.1 .61 7.91 .61 7.62 .61 7.25 .61 6.77 .62 6.21 .61 5.55 .61 4.81 .61 3.98 .61 3.09 .61 2.13 .61 1.13 .62 .12 .61-.9 .61-1.9 .61-2.87 .61-3.78 .61-4.62 .62-5.39 .61-6.06 .61-6.64 .61-7.13 .61-7.53 .62-7.82 .61-8.04 .61-8.17 .61-8.2 .61-8.16 .61-8.04 .62-7.82 .61-7.51 .61-7.12 .61-6.63 .61-6.06 .61-5.38 .62-4.61 .61-3.78 .61-2.87 .61-1.91 .61-.9 .61 .11 .62 1.13 .61 2.12 .61 3.07 .61 3.97 .61 4.79 .61 5.53 .61 6.18 .62 6.74 .61 7.2 .61 7.57 .61 7.85 .61 8.04 .61 8.14 .62 8.16 .61 8.11 .61 7.95 .61 7.73 .61 7.4 .62 7 .61 6.49 .61 5.89 .61 5.2 .61 4.43 .61 3.57 .62 2.65 .61 1.68 .61 .68 .61-.34 .61-1.35 .61-2.34 .62-3.27 .61-4.15 .61-4.96 .61-5.67 .61-6.29 .61-6.83 .61-7.26 .62-7.61 .61-7.87 .61-8.03 .61-8.11 .61-8.12 .61-8.04 .62-7.88 .61-7.62 .61-7.3 .61-6.86 .61-6.34 .61-5.73 .62-5.02 .61-4.23 .61-3.37 .61-2.43 .61-1.45 .61-.45 .62 .57 .61 1.57 .61 2.55 .61 3.47 .61 4.33 .62 5.11 .61 5.8 .61 6.4 .61 6.91 .61 7.32 .61 7.64 .62 7.87 .61 8.02 .61 8.08 .61 8.07 .61 7.97 .61 7.79 .61 7.53 .62 7.18 .61 6.73 .61 6.19 .61 5.56 .61 4.84 .62 4.03 .61 3.16 .61 2.21 .61 1.23 .61 .22 .61-.8 .61-1.79 .62-2.76 .61-3.66 .61-4.5 .61-5.26 .61-5.93 .61-6.5 .62-6.98 .61-7.37 .61-7.67 .61-7.87 .61-8 .62-8.05 .61-8.01 .61-7.9 .61-7.71 .61-7.42 .61-7.05 .62-6.6 .61-6.04 .61-5.39 .61-4.65 .61-3.84 .61-2.94 .61-1.99 .62-1 .61 .01 .61 1.02 .61 2.01 .61 2.96 .62 3.85 .61 4.67 .61 5.4 .61 6.05 .61 6.59 .61 7.05 .62 7.41 .61 7.69 .61 7.87 .61 7.98 .61 8 .61 7.96 .61 7.82 .62 7.61 .61 7.32 .61 6.93 .61 6.46 .61 5.88 .62 5.22 .61 4.46 .61 3.63 .61 2.73 .61 1.77 .61 .77 .62-.24 .61-1.24 .61-2.23 .61-3.16 .61-4.03 .61-4.83 .61-5.54 .62-6.15 .61-6.68 .61-7.11 .61-7.45 .61-7.69 .62-7.87 .61-7.94 .61-7.96 .61-7.9 .61-7.74 .61-7.52 .62-7.21 .61-6.8 .61-6.31 .61-5.73 .61-5.04 .61-4.27 .61-3.43 .62-2.51 .61-1.54 .61-.55 .61 .47 .61 1.46 .61 2.44 .62 3.36 .61 4.2 .61 4.99 .61 5.67 .61 6.26 .62 6.75 .61 7.17 .61 7.47 .61 7.7 .61 7.85 .61 7.92 .61 7.9 .62 7.83 .61 7.66 .61 7.42 .61 7.1 .61 6.67 .61 6.17 .62 5.56 .61 4.86 .61 4.08 .61 3.22 .61 2.29 .62 1.32 .61 .32 .61-.69 .61-1.69 .61-2.64 .61-3.54 .61-4.38 .62-5.13 .61-5.8 .61-6.35 .61-6.83 .61-7.21 .61-7.5 .62-7.7 .61-7.83 .61-7.87 .61-7.86 .61-7.75 .62-7.58 .61-7.32 .61-6.98 .61-6.54 .61-6.02 .61-5.39 .61-4.68 .62-3.89 .61-3 .61-2.08 .61-1.09 .61-.09 .61 .91 .62 1.91 .61 2.84 .61 3.73 .61 4.55 .61 5.27 .62 5.91 .61 6.44 .61 6.89 .61 7.25 .61 7.51 .61 7.7 .61 7.8 .62 7.84 .61 7.79 .61 7.68 .61 7.49 .61 7.22 .61 6.86 .62 6.4 .61 5.87 .61 5.22 .61 4.5 .61 3.69 .62 2.79 .61 1.85 .61 .87 .61-.14 .61-1.13 .61-2.12 .62-3.04 .61-3.91 .61-4.71 .61-5.4 .61-6.02 .61-6.53 .61-6.94 .62-7.28 .61-7.52 .61-7.69 .61-7.77 .61-7.79 .62-7.73 .61-7.61 .61-7.39 .61-7.11 .61-6.74 .61-6.27 .62-5.71 .61-5.05 .61-4.31 .61-3.48 .61-2.59 .61-1.63 .61-.64 .62 .37 .61 1.35 .61 2.33 .61 3.24 .61 4.08 .62 4.86 .61 5.53 .61 6.12 .61 6.6 .61 7 .61 7.3 .62 7.53 .61 7.66 .61 7.74 .61 7.74 .61 7.67 .61 7.52 .61 7.3 .62 7 .61 6.61 .61 6.13 .61 5.55 .61 4.88 .62 4.12 .61 3.28 .61 2.37 .61 1.4 .61 .42 .61-.59 .62-1.58 .61-2.53 .61-3.42 .61-4.26 .61-5 .61-5.65 .61-6.21 .62-6.67 .61-7.04 .61-7.32 .61-7.52 .61-7.65 .62-7.7 .61-7.68 .61-7.6 .61-7.44 .61-7.21 .61-6.88 .62-6.48 .61-5.99 .61-5.39 .61-4.7 .61-3.92 .61-3.08 .61-2.15 .62-1.18 .61-.19 .61 .81 .61 1.79 .61 2.73 .61 3.62 .62 4.42 .61 5.13 .61 5.77 .61 6.29 .61 6.73 .62 7.08 .61 7.33 .61 7.52 .61 7.62 .61 7.65 .61 7.63 .61 7.52 .62 7.36 .61 7.1 .61 6.77 .61 6.35 .61 5.84 .61 5.22 .62 4.52 .61 3.73 .61 2.87 .61 1.93 .61 .96 .62-.04 .61-1.03 .61-2 .61-2.93 .61-3.79 .61-4.58 .61-5.27 .62-5.87 .61-6.37 .61-6.79 .61-7.1 .61-7.34 .61-7.5 .62-7.59 .61-7.6 .61-7.57 .61-7.45 .61-7.26 .62-7 .61-6.65 .61-6.22 .61-5.68 .61-5.06 .61-4.34 .61-3.53 .62-2.65 .61-1.72 .61-.73 .61 .26 .61 1.25 .61 2.21 .62 3.12 .61 3.97 .61 4.72 .61 5.4 .61 5.96 .62 6.45 .61 6.83 .61 7.12 .61 7.34 .61 7.48 .61 7.56 .62 7.55 .61 7.5 .61 7.37 .61 7.17 .61 6.9 .61 6.53 .61 6.08 .62 5.53 .61 4.89 .61 4.15 .61 3.33 .61 2.44 .62 1.49 .61 .51 .61-.48 .61-1.47 .61-2.42 .61-3.31 .62-4.13 .61-4.86 .61-5.52 .61-6.05 .61-6.51 .61-6.87 .61-7.14 .62-7.33 .61-7.46 .61-7.51 .61-7.5 .61-7.43 .62-7.29 .61-7.08 .61-6.78 .61-6.41 .61-5.94 .61-5.37 .62-4.72 .61-3.96 .61-3.13 .61-2.22 .61-1.27 .61-.29 .61 .71 .62 1.68 .61 2.61 .61 3.49 .61 4.3 .61 5 .62 5.62 .61 6.14 .61 6.57 .61 6.89 .61 7.15 .61 7.33 .62 7.42 .61 7.47 .61 7.44 .61 7.36 .61 7.21 .61 6.98 .61 6.67 .62 6.28 .61 5.8 .61 5.21 .61 4.54 .61 3.77 .61 2.92 .62 2.01 .61 1.05 .61 .06 .61-.92 .61-1.9 .62-2.81 .61-3.67 .61-4.44 .61-5.13 .61-5.73 .61-6.21 .61-6.61 .62-6.93 .61-7.15 .61-7.31 .61-7.39 .61-7.42 .61-7.38 .62-7.29 .61-7.11 .61-6.88 .61-6.56 .61-6.15 .62-5.65 .61-5.05 .61-4.36 .61-3.58 .61-2.71 .61-1.8 .61-.82 .62 .16 .61 1.14 .61 2.1 .61 3 .61 3.84 .61 4.6 .62 5.25 .61 5.82 .61 6.28 .61 6.66 .61 6.94 .62 7.15 .61 7.28 .61 7.36 .61 7.36 .61 7.32 .61 7.21 .61 7.03 .62 6.77 .61 6.45 .61 6.01 .61 5.5 .61 4.89 .61 4.18 .62 3.38 .61 2.5 .61 1.57 .61 .61 .61-.38 .62-1.36 .61-2.3 .61-3.19 .61-4.01 .61-4.73 .61-5.37 .61-5.9 .62-6.34 .61-6.69 .61-6.96 .61-7.14 .61-7.26 .61-7.31 .62-7.31 .61-7.25 .61-7.13 .61-6.93 .61-6.68 .62-6.32 .61-5.88 .61-5.35 .61-4.72 .61-3.99 .61-3.18 .62-2.29 .61-1.36 .61-.38 .61 .61 .61 1.57 .61 2.5 .61 3.37 .62 4.16 .61 4.86 .61 5.48 .61 5.98 .61 6.4 .62 6.71 .61 6.96 .61 7.13 .61 7.23 .61 7.26 .61 7.26 .62 7.18 .61 7.04 .61 6.84 .61 6.57 .61 6.2 .61 5.74 .61 5.2 .62 4.54 .61 3.81 .61 2.97 .61 2.08 .61 1.14 .62 .16 .61-.82 .61-1.78 .61-2.7 .61-3.54 .61-4.32 .62-4.99 .61-5.57 .61-6.05 .61-6.44 .61-6.74 .61-6.96 .61-7.11 .62-7.19 .61-7.22 .61-7.19 .61-7.11 .61-6.96 .62-6.74 .61-6.46 .61-6.07 .61-5.61 .61-5.03 .61-4.37 .62-3.61 .61-2.78 .61-1.86 .61-.92 .61 .07 .61 1.03 .61 1.99 .62 2.88 .61 3.71 .61 4.46 .61 5.11 .61 5.67 .62 6.11 .61 6.48 .61 6.75 .61 6.96 .61 7.08 .61 7.15 .62 7.17 .61 7.12 .61 7.04 .61 6.87 .61 6.65 .61 6.34 .61 5.94 .62 5.46 .61 4.88 .61 4.19 .61 3.42 .61 2.57 .61 1.65 .62 .69 .61-.28 .61-1.25 .61-2.19 .61-3.06 .62-3.88 .61-4.6 .61-5.22 .61-5.74 .61-6.18 .61-6.51 .61-6.76 .62-6.94 .61-7.05 .61-7.11 .61-7.11 .61-7.06 .61-6.95 .62-6.79 .61-6.54 .61-6.23 .61-5.81 .61-5.32 .62-4.71 .61-4.01 .61-3.22 .61-2.36 .61-1.43 .61-.48 .61 .5 .62 1.46 .61 2.39 .61 3.24 .61 4.03 .61 4.73 .61 5.32 .62 5.83 .61 6.22 .61 6.53 .61 6.76 .61 6.93 .62 7.01 .61 7.07 .61 7.05 .61 6.99 .61 6.87 .61 6.7 .61 6.44 .62 6.11 .61 5.68 .61 5.16 .61 4.55 .61 3.82 .61 3.03 .62 2.15 .61 1.21 .61 .26 .61-.72 .61-1.67 .62-2.57 .61-3.42 .61-4.18 .61-4.85 .61-5.42 .61-5.89 .62-6.26 .61-6.55 .61-6.76 .61-6.9 .61-6.98 .61-7.01 .61-6.99 .62-6.92 .61-6.8 .61-6.6 .61-6.33 .61-5.99 .62-5.54 .61-5.01 .61-4.38 .61-3.64 .61-2.82 .61-1.94 .62-1 .61-.03 .61 .93 .61 1.87 .61 2.76 .61 3.59 .61 4.32 .62 4.97 .61 5.5 .61 5.95 .61 6.3 .61 6.56 .62 6.75 .61 6.87 .61 6.94 .61 6.96 .61 6.92 .61 6.85 .62 6.71 .61 6.5 .61 6.23 .61 5.86 .61 5.41 .61 4.85 .61 4.2 .62 3.45 .61 2.63 .61 1.72 .61 .78 .61-.18 .62-1.14 .61-2.08 .61-2.94 .61-3.75 .61-4.45 .61-5.08 .62-5.58 .61-6 .61-6.33 .61-6.56 .61-6.73 .61-6.84 .61-6.9 .62-6.9 .61-6.86 .61-6.77 .61-6.62 .61-6.41 .61-6.11 .62-5.74 .61-5.27 .61-4.69 .61-4.03 .61-3.26 .62-2.41 .61-1.51 .61-.56 .61 .39 .61 1.36 .61 2.26 .61 3.12 .62 3.9 .61 4.59 .61 5.17 .61 5.66 .61 6.04 .61 6.34 .62 6.57 .61 6.71 .61 6.8 .61 6.85 .61 6.84 .62 6.79 .61 6.69 .61 6.54 .61 6.3 .61 6.01 .61 5.61 .61 5.12 .62 4.53 .61 3.85 .61 3.06 .61 2.21 .61 1.3 .61 .34 .62-.61 .61-1.56 .61-2.45 .61-3.3 .61-4.04 .62-4.71 .61-5.26 .61-5.72 .61-6.08 .61-6.36 .61-6.55 .61-6.69 .62-6.76 .61-6.8 .61-6.78 .61-6.72 .61-6.61 .61-6.44 .62-6.21 .61-5.89 .61-5.48 .61-4.97 .61-4.36 .62-3.67 .61-2.87 .61-2 .61-1.08 .61-.13 .61 .83 .61 1.76 .62 2.64 .61 3.46 .61 4.18 .61 4.82 .61 5.34 .61 5.78 .62 6.11 .61 6.36 .61 6.54 .61 6.66 .61 6.72 .62 6.74 .61 6.72 .61 6.65 .61 6.53 .61 6.35 .61 6.1 .62 5.77 .61 5.34 .61 4.82 .61 4.2 .61 3.48 .61 2.67 .61 1.79 .62 .87 .61-.09 .61-1.03 .61-1.96 .61-2.82 .62-3.62 .61-4.31 .61-4.92 .61-5.43 .61-5.82 .61-6.13 .62-6.37 .61-6.52 .61-6.62 .61-6.67 .61-6.69 .61-6.65 .61-6.57 .62-6.45 .61-6.25 .61-6 .61-5.65 .61-5.2 .62-4.67 .61-4.03 .61-3.29 .61-2.47 .61-1.58 .61-.65 .62 .3 .61 1.24 .61 2.15 .61 3 .61 3.76 .61 4.45 .61 5.01 .62 5.49 .61 5.87 .61 6.15 .61 6.35 .61 6.5 .62 6.58 .61 6.63 .61 6.62 .61 6.58 .61 6.5 .61 6.36 .62 6.16 .61 5.89 .61 5.52 .61 5.07 .61 4.51 .61 3.85 .61 3.1 .62 2.27 .61 1.37 .61 .43 .61-.51 .61-1.44 .62-2.34 .61-3.17 .61-3.9 .61-4.56 .61-5.11 .61-5.54 .62-5.9 .61-6.16 .61-6.35 .61-6.46 .61-6.55 .61-6.57 .61-6.56 .62-6.51 .61-6.42 .61-6.27 .61-6.07 .61-5.77 .61-5.4 .62-4.92 .61-4.35 .61-3.68 .61-2.9 .61-2.07 .62-1.15 .61-.22 .61 .72 .61 1.64 .61 2.52 .61 3.33 .61 4.04 .62 4.67 .61 5.18 .61 5.6 .61 5.93 .61 6.16 .61 6.33 .62 6.43 .61 6.5 .61 6.51 .61 6.5 .61 6.44 .62 6.34 .61 6.18 .61 5.97 .61 5.66 .61 5.27 .61 4.78 .61 4.18 .62 3.5 .61 2.71 .61 1.85 .61 .95 .61 .01 .61-.93 .62-1.84 .61-2.7 .61-3.48 .61-4.17 .61-4.77 .62-5.26 .61-5.64 .61-5.94 .61-6.16 .61-6.3 .61-6.4 .61-6.45 .62-6.45 .61-6.43 .61-6.37 .61-6.26 .61-6.1 .61-5.86 .62-5.54 .61-5.14 .61-4.63 .61-4.02 .61-3.31 .62-2.52 .61-1.64 .61-.74 .61 .21 .61 1.13 .61 2.03 .62 2.87 .61 3.63 .61 4.29 .61 4.86 .61 5.32 .61 5.68 .61 5.96 .62 6.14 .61 6.28 .61 6.36 .61 6.39 .61 6.4 .62 6.36 .61 6.29 .61 6.18 .61 6 .61 5.76 .61 5.43 .62 5 .61 4.48 .61 3.85 .61 3.12 .61 2.32 .61 1.44 .61 .52 .62-.41 .61-1.34 .61-2.21 .61-3.04 .61-3.77 .61-4.41 .62-4.94 .61-5.37 .61-5.71 .61-5.96 .61-6.13 .62-6.25 .61-6.31 .61-6.34 .61-6.33 .61-6.29 .61-6.22 .62-6.1 .61-5.91 .61-5.65 .61-5.3 .61-4.87 .61-4.32 .62-3.68 .61-2.93 .61-2.12 .61-1.23 .61-.31 .61 .62 .62 1.53 .61 2.4 .61 3.19 .61 3.91 .61 4.51 .61 5.02 .61 5.42 .62 5.73 .61 5.96 .61 6.11 .61 6.21 .61 6.26 .61 6.28 .62 6.27 .61 6.22 .61 6.15 .61 6 .61 5.82 .62 5.54 .61 5.18 .61 4.73 .61 4.16 .61 3.5 .61 2.75 .61 1.91 .62 1.02 .61 .1 .61-.82 .61-1.73 .61-2.57 .61-3.35 .62-4.03 .61-4.6 .61-5.09 .61-5.46 .61-5.75 .61-5.95 .62-6.08 .61-6.17 .61-6.21 .61-6.22 .61-6.2 .61-6.16 .62-6.06 .61-5.92 .61-5.72 .61-5.43 .61-5.05 .62-4.58 .61-4.01 .61-3.32 .61-2.55 .61-1.71 .61-.81 .62 .11 .61 1.02 .61 1.92 .61 2.74 .61 3.49 .61 4.14 .61 4.7 .62 5.15 .61 5.49 .61 5.76 .61 5.93 .61 6.05 .61 6.12 .62 6.16 .61 6.16 .61 6.14 .61 6.08 .61 5.98 .62 5.83 .61 5.62 .61 5.32 .61 4.93 .61 4.43 .61 3.84 .62 3.14 .61 2.35 .61 1.51 .61 .6 .61-.31 .61-1.23 .61-2.09 .62-2.91 .61-3.63 .61-4.25 .61-4.78 .61-5.2 .62-5.52 .61-5.75 .61-5.91 .61-6.02 .61-6.07 .61-6.1 .61-6.1 .62-6.07 .61-6.01 .61-5.9 .61-5.74 .61-5.52 .61-5.2 .62-4.79 .61-4.28 .61-3.67 .61-2.96 .61-2.16 .62-1.3 .61-.4 .61 .52 .61 1.42 .61 2.28 .61 3.06 .62 3.76 .61 4.35 .61 4.85 .61 5.24 .61 5.54 .61 5.75 .61 5.88 .62 5.98 .61 6.03 .61 6.04 .61 6.03 .61 6 .61 5.93 .62 5.82 .61 5.65 .61 5.41 .61 5.09 .61 4.65 .62 4.13 .61 3.5 .61 2.77 .61 1.97 .61 1.09 .61 .19 .62-.72 .61-1.61 .61-2.45 .61-3.21 .61-3.88 .61-4.45 .61-4.91 .62-5.28 .61-5.55 .61-5.73 .61-5.86 .61-5.93 .61-5.97 .62-5.98 .61-5.97 .61-5.93 .61-5.85 .61-5.74 .61-5.56 .62-5.3 .61-4.96 .61-4.52 .61-3.98 .61-3.32 .62-2.58 .61-1.77 .61-.88 .61 .01 .61 .92 .61 1.8 .62 2.61 .61 3.35 .61 4 .61 4.53 .61 4.97 .61 5.31 .62 5.54 .61 5.72 .61 5.82 .61 5.89 .61 5.91 .61 5.92 .62 5.9 .61 5.86 .61 5.78 .61 5.65 .61 5.46 .61 5.2 .61 4.83 .62 4.38 .61 3.82 .61 3.15 .61 2.39 .61 1.56 .61 .68 .62-.22 .61-1.11 .61-1.98 .61-2.77 .61-3.49 .62-4.1 .61-4.61 .61-5.02 .61-5.32 .61-5.54 .61-5.7 .62-5.78 .61-5.83 .61-5.86 .61-5.86 .61-5.83 .61-5.78 .61-5.7 .62-5.57 .61-5.36 .61-5.09 .61-4.71 .61-4.23 .61-3.65 .62-2.97 .61-2.2 .61-1.36 .61-.48 .61 .42 .61 1.31 .62 2.15 .61 2.92 .61 3.62 .61 4.19 .61 4.68 .61 5.06 .62 5.34 .61 5.53 .61 5.66 .61 5.74 .61 5.78 .61 5.8 .62 5.79 .61 5.76 .61 5.72 .61 5.62 .61 5.47 .62 5.27 .61 4.97 .61 4.58 .61 4.09 .61 3.48 .61 2.79 .62 2.01 .61 1.16 .61 .27 .61-.62 .61-1.49 .61-2.32 .62-3.07 .61-3.74 .61-4.28 .61-4.74 .61-5.09 .61-5.34 .62-5.52 .61-5.63 .61-5.69 .61-5.73 .61-5.73 .61-5.72 .62-5.7 .61-5.63 .61-5.54 .61-5.39 .61-5.17 .61-4.85 .61-4.45 .62-3.94 .61-3.31 .61-2.61 .61-1.81 .61-.95 .62-.07 .61 .81 .61 1.68 .61 2.48 .61 3.21 .61 3.84 .62 4.37 .61 4.79 .61 5.11 .61 5.34 .61 5.5 .61 5.59 .61 5.64 .62 5.67 .61 5.67 .61 5.65 .61 5.63 .61 5.56 .61 5.46 .62 5.3 .61 5.06 .61 4.73 .61 4.31 .61 3.79 .61 3.14 .62 2.42 .61 1.61 .61 .76 .61-.13 .61-1.01 .61-1.85 .62-2.64 .61-3.34 .61-3.94 .61-4.45 .61-4.83 .61-5.13 .62-5.33 .61-5.46 .61-5.55 .61-5.59 .61-5.61 .62-5.6 .61-5.59 .61-5.56 .61-5.48 .61-5.38 .61-5.2 .62-4.96 .61-4.61 .61-4.17 .61-3.63 .61-2.97 .61-2.23 .62-1.42 .61-.55 .61 .33 .61 1.19 .61 2.03 .61 2.79 .62 3.46 .61 4.04 .61 4.5 .61 4.87 .61 5.14 .61 5.31 .61 5.44 .62 5.5 .61 5.53 .61 5.54 .61 5.54 .61 5.53 .61 5.48 .62 5.41 .61 5.29 .61 5.11 .61 4.85 .61 4.49 .62 4.03 .61 3.46 .61 2.79 .61 2.04 .61 1.22 .61 .36 .61-.52 .62-1.38 .61-2.19 .61-2.94 .61-3.57 .61-4.13 .61-4.56 .62-4.89 .61-5.14 .61-5.3 .61-5.39 .61-5.45 .61-5.47 .62-5.48 .61-5.48 .61-5.45 .61-5.41 .61-5.33 .61-5.21 .62-5.01 .61-4.74 .61-4.36 .61-3.89 .61-3.29 .61-2.62 .62-1.85 .61-1.02 .61-.16" stroke="#000" stroke-width="9.5" stroke-dasharray="18.4 22.4"/>
<path id="cJQF1wd" d="M379 992l.61-.03 .61-.22 .61-.41 .62-.63 .61-.89 .61-1.18 .61-1.51 .61-1.86 .61-2.26 .62-2.67 .61-3.08 .61-3.49 .61-3.88 .61-4.23 .62-4.53 .61-4.75 .61-4.91 .61-4.96 .61-4.9 .61-4.75 .62-4.48 .61-4.11 .61-3.62 .61-3.06 .61-2.4 .61-1.7 .61-.94 .62-.17 .61 .61 .61 1.37 .61 2.09 .61 2.76 .62 3.35 .61 3.85 .61 4.26 .61 4.58 .61 4.77 .61 4.88 .62 4.88 .61 4.8 .61 4.63 .61 4.4 .61 4.11 .61 3.78 .61 3.42 .62 3.06 .61 2.68 .61 2.32 .61 1.97 .61 1.64 .61 1.33 .62 1.05 .61 .78 .61 .53 .61 .29 .61 .06 .62-.19 .61-.43 .61-.69 .61-.98 .61-1.29 .61-1.61 .61-1.96 .62-2.33 .61-2.7 .61-3.08 .61-3.44 .61-3.79 .61-4.1 .62-4.37 .61-4.57 .61-4.71 .61-4.76 .61-4.72 .62-4.6 .61-4.36 .61-4.05 .61-3.63 .61-3.13 .61-2.57 .62-1.93 .61-1.26 .61-.55 .61 .17 .61 .87 .61 1.57 .61 2.21 .62 2.81 .61 3.33 .61 3.78 .61 4.14 .61 4.41 .61 4.6 .62 4.69 .61 4.7 .61 4.63 .61 4.49 .61 4.29 .62 4.03 .61 3.76 .61 3.43 .61 3.1 .61 2.76 .61 2.42 .62 2.07 .61 1.75 .61 1.42 .61 1.1 .61 .81 .61 .51 .61 .21 .62-.08 .61-.38 .61-.69 .61-1 .61-1.33 .61-1.67 .62-2.02 .61-2.37 .61-2.73 .61-3.09 .61-3.42 .62-3.74 .61-4.01 .61-4.26 .61-4.43 .61-4.56 .61-4.61 .61-4.58 .62-4.47 .61-4.27 .61-3.99 .61-3.63 .61-3.2 .61-2.69 .62-2.12 .61-1.52 .61-.87 .61-.21 .61 .45 .62 1.1 .61 1.72 .61 2.31 .61 2.84 .61 3.32 .61 3.71 .62 4.04 .61 4.29 .61 4.46 .61 4.54 .61 4.56 .61 4.51 .61 4.39 .62 4.22 .61 4 .61 3.74 .61 3.46 .61 3.14 .61 2.82 .62 2.48 .61 2.14 .61 1.8 .61 1.45 .61 1.11 .62 .77 .61 .43 .61 .08 .61-.26 .61-.61 .61-.96 .62-1.32 .61-1.68 .61-2.04 .61-2.39 .61-2.75 .61-3.09 .61-3.41 .62-3.7 .61-3.96 .61-4.17 .61-4.35 .61-4.45 .62-4.5 .61-4.47 .61-4.37 .61-4.2 .61-3.95 .61-3.63 .62-3.25 .61-2.79 .61-2.28 .61-1.73 .61-1.15 .61-.54 .61 .08 .62 .69 .61 1.29 .61 1.86 .61 2.39 .61 2.87 .61 3.3 .62 3.67 .61 3.96 .61 4.19 .61 4.36 .61 4.44 .62 4.46 .61 4.42 .61 4.33 .61 4.17 .61 3.98 .61 3.74 .61 3.47 .62 3.18 .61 2.85 .61 2.52 .61 2.17 .61 1.8 .62 1.44 .61 1.06 .61 .68 .61 .3 .61-.09 .61-.48 .61-.86 .62-1.26 .61-1.63 .61-2.02 .61-2.38 .61-2.75 .61-3.07 .62-3.4 .61-3.67 .61-3.92 .61-4.12 .61-4.28 .62-4.38 .61-4.42 .61-4.4 .61-4.31 .61-4.15 .61-3.92 .61-3.64 .62-3.29 .61-2.88 .61-2.41 .61-1.92 .61-1.38 .62-.82 .61-.25 .61 .33 .61 .9 .61 1.45 .61 1.97 .62 2.46 .61 2.91 .61 3.29 .61 3.64 .61 3.91 .61 4.12 .61 4.28 .62 4.37 .61 4.4 .61 4.37 .61 4.28 .61 4.15 .62 3.96 .61 3.75 .61 3.48 .61 3.19 .61 2.86 .61 2.52 .62 2.15 .61 1.77 .61 1.38 .61 .96 .61 .55 .61 .13 .61-.29 .62-.72 .61-1.13 .61-1.55 .61-1.95 .61-2.34 .62-2.71 .61-3.05 .61-3.36 .61-3.65 .61-3.89 .61-4.08 .62-4.24 .61-4.33 .61-4.37 .61-4.35 .61-4.27 .61-4.12 .61-3.92 .62-3.65 .61-3.33 .61-2.96 .61-2.54 .61-2.08 .62-1.59 .61-1.06 .61-.53 .61 .01 .61 .55 .61 1.08 .61 1.59 .62 2.08 .61 2.52 .61 2.94 .61 3.31 .61 3.61 .61 3.88 .62 4.09 .61 4.23 .61 4.32 .61 4.36 .61 4.34 .62 4.26 .61 4.13 .61 3.96 .61 3.73 .61 3.48 .61 3.18 .61 2.85 .62 2.49 .61 2.1 .61 1.69 .61 1.27 .61 .83 .61 .38 .62-.07 .61-.52 .61-.97 .61-1.42 .61-1.84 .62-2.25 .61-2.64 .61-3 .61-3.32 .61-3.61 .61-3.86 .61-4.05 .62-4.21 .61-4.3 .61-4.34 .61-4.32 .61-4.25 .61-4.12 .62-3.92 .61-3.68 .61-3.39 .61-3.04 .61-2.65 .62-2.22 .61-1.77 .61-1.28 .61-.79 .61-.27 .61 .24 .61 .74 .62 1.25 .61 1.72 .61 2.17 .61 2.6 .61 2.98 .62 3.32 .61 3.62 .61 3.87 .61 4.06 .61 4.21 .61 4.3 .62 4.34 .61 4.32 .61 4.24 .61 4.12 .61 3.95 .61 3.72 .61 3.46 .62 3.14 .61 2.81 .61 2.42 .61 2.01 .61 1.59 .62 1.12 .61 .66 .61 .19 .61-.29 .61-.78 .61-1.24 .61-1.69 .62-2.13 .61-2.54 .61-2.91 .61-3.26 .61-3.56 .62-3.81 .61-4.03 .61-4.17 .61-4.28 .61-4.33 .61-4.31 .62-4.25 .61-4.13 .61-3.94 .61-3.72 .61-3.45 .61-3.12 .61-2.75 .62-2.37 .61-1.93 .61-1.48 .61-1.01 .61-.53 .62-.05 .61 .45 .61 .92 .61 1.39 .61 1.85 .61 2.26 .62 2.67 .61 3.03 .61 3.35 .61 3.64 .61 3.87 .61 4.07 .61 4.21 .62 4.29 .61 4.33 .61 4.3 .61 4.24 .61 4.1 .62 3.92 .61 3.7 .61 3.41 .61 3.1 .61 2.72 .61 2.33 .62 1.89 .61 1.44 .61 .96 .61 .46 .61-.04 .61-.53 .61-1.03 .62-1.51 .61-1.97 .61-2.4 .61-2.8 .61-3.17 .62-3.49 .61-3.76 .61-3.98 .61-4.14 .61-4.26 .61-4.32 .61-4.32 .62-4.25 .61-4.15 .61-3.99 .61-3.76 .61-3.51 .61-3.21 .62-2.87 .61-2.49 .61-2.09 .61-1.67 .61-1.22 .62-.76 .61-.3 .61 .17 .61 .63 .61 1.09 .61 1.53 .61 1.96 .62 2.36 .61 2.74 .61 3.09 .61 3.39 .61 3.67 .61 3.9 .62 4.08 .61 4.22 .61 4.29 .61 4.33 .61 4.3 .62 4.22 .61 4.08 .61 3.89 .61 3.65 .61 3.35 .61 3.01 .61 2.62 .62 2.2 .61 1.75 .61 1.26 .61 .76 .61 .24 .61-.27 .62-.79 .61-1.29 .61-1.77 .61-2.24 .61-2.66 .62-3.05 .61-3.39 .61-3.68 .61-3.92 .61-4.11 .61-4.24 .62-4.3 .61-4.33 .61-4.27 .61-4.18 .61-4.03 .61-3.83 .61-3.58 .62-3.3 .61-2.98 .61-2.62 .61-2.25 .61-1.83 .61-1.42 .62-.98 .61-.54 .61-.08 .61 .36 .61 .8 .62 1.25 .61 1.66 .61 2.08 .61 2.46 .61 2.82 .61 3.15 .61 3.46 .62 3.71 .61 3.93 .61 4.11 .61 4.23 .61 4.31 .61 4.32 .62 4.3 .61 4.19 .61 4.05 .61 3.84 .61 3.58 .62 3.27 .61 2.9 .61 2.49 .61 2.05 .61 1.56 .61 1.07 .62 .54 .61 .01 .61-.52 .61-1.05 .61-1.55 .61-2.04 .61-2.48 .62-2.9 .61-3.27 .61-3.58 .61-3.85 .61-4.05 .62-4.21 .61-4.29 .61-4.32 .61-4.3 .61-4.21 .61-4.08 .62-3.9 .61-3.67 .61-3.39 .61-3.1 .61-2.75 .61-2.39 .61-2.01 .62-1.6 .61-1.19 .61-.75 .61-.33 .61 .11 .62 .55 .61 .97 .61 1.39 .61 1.8 .61 2.19 .61 2.56 .62 2.91 .61 3.23 .61 3.52 .61 3.76 .61 3.98 .61 4.14 .61 4.26 .62 4.31 .61 4.33 .61 4.28 .61 4.16 .61 4 .62 3.78 .61 3.49 .61 3.15 .61 2.77 .61 2.33 .61 1.87 .61 1.37 .62 .84 .61 .31 .61-.24 .61-.77 .61-1.3 .61-1.81 .62-2.28 .61-2.72 .61-3.12 .61-3.46 .61-3.75 .62-3.98 .61-4.16 .61-4.26 .61-4.33 .61-4.31 .61-4.25 .61-4.13 .62-3.97 .61-3.75 .61-3.5 .61-3.21 .61-2.89 .61-2.54 .62-2.17 .61-1.78 .61-1.38 .61-.97 .61-.55 .62-.13 .61 .3 .61 .71 .61 1.14 .61 1.53 .61 1.94 .61 2.31 .62 2.67 .61 3 .61 3.31 .61 3.59 .61 3.83 .61 4.02 .62 4.18 .61 4.28 .61 4.32 .61 4.32 .61 4.25 .62 4.12 .61 3.94 .61 3.68 .61 3.38 .61 3.02 .61 2.61 .62 2.16 .61 1.67 .61 1.15 .61 .61 .61 .06 .61-.49 .62-1.03 .61-1.55 .61-2.06 .61-2.51 .61-2.94 .61-3.31 .62-3.63 .61-3.88 .61-4.09 .61-4.23 .61-4.3 .61-4.33 .61-4.28 .62-4.18 .61-4.04 .61-3.84 .61-3.6 .61-3.33 .61-3.03 .62-2.69 .61-2.34 .61-1.96 .61-1.57 .61-1.17 .61-.77 .62-.35 .61 .06 .61 .48 .61 .88 .61 1.29 .62 1.69 .61 2.06 .61 2.44 .61 2.78 .61 3.1 .61 3.4 .62 3.67 .61 3.89 .61 4.08 .61 4.21 .61 4.3 .61 4.32 .61 4.3 .62 4.22 .61 4.06 .61 3.84 .61 3.58 .61 3.25 .62 2.86 .61 2.43 .61 1.96 .61 1.45 .61 .92 .61 .36 .62-.19 .61-.74 .61-1.28 .61-1.8 .61-2.29 .61-2.73 .61-3.13 .62-3.48 .61-3.77 .61-4 .61-4.17 .61-4.27 .62-4.32 .61-4.3 .61-4.23 .61-4.1 .61-3.93 .61-3.71 .62-3.45 .61-3.16 .61-2.85 .61-2.5 .61-2.14 .61-1.76 .61-1.37 .62-.97 .61-.57 .61-.17 .61 .25 .61 .64 .62 1.05 .61 1.45 .61 1.83 .61 2.2 .61 2.56 .61 2.9 .61 3.21 .62 3.5 .61 3.74 .61 3.96 .61 4.13 .61 4.24 .61 4.31 .62 4.32 .61 4.27 .61 4.15 .61 3.98 .61 3.75 .62 3.44 .61 3.1 .61 2.68 .61 2.24 .61 1.74 .61 1.22 .61 .67 .62 .12 .61-.45 .61-.99 .61-1.53 .61-2.03 .61-2.5 .62-2.93 .61-3.31 .61-3.63 .61-3.88 .61-4.09 .62-4.22 .61-4.3 .61-4.31 .61-4.26 .61-4.16 .61-4.01 .61-3.81 .62-3.58 .61-3.3 .61-2.99 .61-2.67 .61-2.32 .61-1.95 .62-1.56 .61-1.18 .61-.79 .61-.38 .61 .02 .62 .42 .61 .82 .61 1.21 .61 1.6 .61 1.98 .61 2.34 .62 2.69 .61 3.02 .61 3.32 .61 3.59 .61 3.83 .61 4.02 .61 4.17 .62 4.27 .61 4.31 .61 4.29 .61 4.23 .61 4.08 .61 3.88 .62 3.62 .61 3.3 .61 2.92 .61 2.49 .61 2.02 .62 1.51 .61 .98 .61 .42 .61-.14 .61-.69 .61-1.24 .61-1.76 .62-2.26 .61-2.7 .61-3.11 .61-3.46 .61-3.75 .61-3.98 .62-4.15 .61-4.25 .61-4.3 .61-4.29 .61-4.21 .61-4.08 .62-3.91 .61-3.69 .61-3.43 .61-3.15 .61-2.83 .62-2.5 .61-2.13 .61-1.77 .61-1.38 .61-1 .61-.6 .61-.2 .62 .2 .61 .59 .61 .99 .61 1.38 .61 1.76 .62 2.13 .61 2.49 .61 2.82 .61 3.14 .61 3.43 .61 3.68 .62 3.9 .61 4.08 .61 4.21 .61 4.28 .61 4.3 .61 4.26 .61 4.16 .62 4 .61 3.76 .61 3.48 .61 3.12 .61 2.73 .62 2.28 .61 1.79 .61 1.27 .61 .73 .61 .17 .61-.39 .62-.94 .61-1.48 .61-1.98 .61-2.46 .61-2.88 .61-3.27 .61-3.59 .62-3.85 .61-4.06 .61-4.19 .61-4.27 .61-4.28 .62-4.25 .61-4.14 .61-3.99 .61-3.8 .61-3.57 .61-3.3 .61-2.99 .62-2.67 .61-2.33 .61-1.96 .61-1.59 .61-1.21 .61-.81 .62-.42 .61-.02 .61 .37 .61 .77 .61 1.16 .62 1.54 .61 1.93 .61 2.28 .61 2.63 .61 2.96 .61 3.26 .61 3.54 .62 3.77 .61 3.98 .61 4.12 .61 4.24 .61 4.28 .61 4.27 .62 4.21 .61 4.08 .61 3.88 .61 3.63 .61 3.31 .62 2.94 .61 2.52 .61 2.06 .61 1.55 .61 1.03 .61 .47 .61-.08 .62-.64 .61-1.18 .61-1.7 .61-2.19 .61-2.65 .62-3.05 .61-3.4 .61-3.7 .61-3.93 .61-4.11 .61-4.22 .62-4.27 .61-4.25 .61-4.19 .61-4.07 .61-3.9 .61-3.69 .61-3.44 .62-3.15 .61-2.85 .61-2.51 .61-2.16 .61-1.8 .62-1.41 .61-1.03 .61-.64 .61-.24 .61 .15 .61 .55 .62 .95 .61 1.33 .61 1.72 .61 2.08 .61 2.44 .61 2.78 .61 3.09 .62 3.38 .61 3.64 .61 3.86 .61 4.03 .61 4.17 .62 4.25 .61 4.27 .61 4.23 .61 4.13 .61 3.98 .61 3.76 .61 3.47 .62 3.13 .61 2.74 .61 2.3 .61 1.82 .61 1.31 .61 .77 .62 .22 .61-.33 .61-.87 .61-1.41 .61-1.92 .62-2.38 .61-2.82 .61-3.19 .61-3.52 .61-3.79 .61-4 .61-4.14 .62-4.23 .61-4.25 .61-4.21 .61-4.13 .61-3.99 .62-3.8 .61-3.57 .61-3.31 .61-3.02 .61-2.7 .61-2.36 .62-1.99 .61-1.63 .61-1.25 .61-.85 .61-.46 .61-.07 .61 .34 .62 .73 .61 1.12 .61 1.51 .61 1.88 .61 2.25 .62 2.59 .61 2.92 .61 3.23 .61 3.5 .61 3.73 .61 3.93 .62 4.09 .61 4.2 .61 4.24 .61 4.24 .61 4.17 .61 4.05 .61 3.85 .62 3.61 .61 3.3 .61 2.94 .61 2.53 .61 2.07 .62 1.58 .61 1.05 .61 .52 .61-.02 .61-.58 .61-1.11 .62-1.62 .61-2.11 .61-2.57 .61-2.96 .61-3.32 .61-3.63 .61-3.86 .62-4.04 .61-4.16 .61-4.22 .61-4.22 .61-4.17 .62-4.05 .61-3.9 .61-3.7 .61-3.46 .61-3.18 .61-2.88 .61-2.55 .62-2.21 .61-1.84 .61-1.46 .61-1.07 .61-.68 .61-.29 .62 .12 .61 .51 .61 .91 .61 1.3 .61 1.69 .62 2.05 .61 2.41 .61 2.75 .61 3.07 .61 3.35 .61 3.6 .62 3.83 .61 4 .61 4.12 .61 4.21 .61 4.22 .61 4.19 .62 4.1 .61 3.93 .61 3.73 .61 3.44 .61 3.11 .61 2.74 .62 2.3 .61 1.83 .61 1.33 .61 .81 .61 .27 .61-.27 .61-.81 .62-1.33 .61-1.83 .61-2.29 .61-2.73 .61-3.1 .61-3.43 .62-3.7 .61-3.92 .61-4.08 .61-4.16 .61-4.21 .61-4.18 .62-4.11 .61-3.98 .61-3.8 .61-3.6 .61-3.33 .62-3.06 .61-2.74 .61-2.41 .61-2.05 .61-1.67 .61-1.3 .62-.91 .61-.5 .61-.11 .61 .3 .61 .7 .61 1.09 .61 1.48 .62 1.86 .61 2.23 .61 2.58 .61 2.9 .61 3.2 .61 3.47 .62 3.7 .61 3.9 .61 4.05 .61 4.15 .61 4.2 .61 4.19 .62 4.12 .61 4 .61 3.81 .61 3.57 .61 3.27 .61 2.91 .62 2.52 .61 2.06 .61 1.59 .61 1.09 .61 .56 .62 .02 .61-.51 .61-1.03 .61-1.54 .61-2.01 .61-2.47 .62-2.86 .61-3.22 .61-3.53 .61-3.77 .61-3.96 .61-4.09 .61-4.16 .62-4.18 .61-4.14 .61-4.04 .61-3.9 .61-3.71 .62-3.48 .61-3.22 .61-2.93 .61-2.6 .61-2.26 .61-1.9 .61-1.51 .62-1.13 .61-.74 .61-.32 .61 .07 .61 .48 .61 .89 .62 1.27 .61 1.67 .61 2.04 .61 2.39 .61 2.74 .62 3.04 .61 3.34 .61 3.58 .61 3.79 .61 3.96 .61 4.09 .62 4.16 .61 4.17 .61 4.14 .61 4.04 .61 3.88 .61 3.67 .61 3.4 .62 3.08 .61 2.7 .61 2.29 .61 1.83 .61 1.34 .62 .84 .61 .31 .61-.21 .61-.73 .61-1.25 .61-1.73 .61-2.19 .62-2.62 .61-2.99 .61-3.33 .61-3.6 .61-3.82 .61-4 .62-4.09 .61-4.15 .61-4.15 .61-4.08 .61-3.97 .62-3.82 .61-3.61 .61-3.37 .61-3.1 .61-2.79 .61-2.47 .62-2.11 .61-1.74 .61-1.35 .61-.96 .61-.56 .61-.15 .62 .27 .61 .66 .61 1.07 .61 1.47 .61 1.85 .61 2.21 .62 2.56 .61 2.89 .61 3.19 .61 3.45 .61 3.68 .61 3.87 .61 4.01 .62 4.1 .61 4.15 .61 4.14 .61 4.06 .61 3.94 .61 3.76 .62 3.51 .61 3.22 .61 2.87 .61 2.49 .61 2.05 .62 1.59 .61 1.1 .61 .59 .61 .08 .61-.44 .61-.95 .62-1.45 .61-1.91 .61-2.36 .61-2.75 .61-3.11 .61-3.41 .61-3.67 .62-3.87 .61-4.01 .61-4.09 .61-4.13 .61-4.1 .62-4.02 .61-3.9 .61-3.73 .61-3.51 .61-3.26 .61-2.98 .61-2.66 .62-2.32 .61-1.96 .61-1.58 .61-1.18 .61-.79 .61-.38 .62 .04 .61 .45 .61 .85 .61 1.26 .61 1.65 .61 2.03 .62 2.39 .61 2.73 .61 3.03 .61 3.32 .61 3.56 .62 3.76 .61 3.93 .61 4.05 .61 4.11 .61 4.12 .61 4.07 .62 3.98 .61 3.82 .61 3.61 .61 3.34 .61 3.03 .61 2.66 .61 2.26 .62 1.82 .61 1.35 .61 .86 .61 .36 .61-.16 .62-.66 .61-1.16 .61-1.63 .61-2.09 .61-2.5 .61-2.87 .61-3.21 .62-3.49 .61-3.72 .61-3.9 .61-4.02 .61-4.09 .61-4.09 .62-4.06 .61-3.96 .61-3.82 .61-3.63 .61-3.41 .62-3.15 .61-2.84 .61-2.53 .61-2.17 .61-1.81 .61-1.41 .62-1.02 .61-.61 .61-.19 .61 .22 .61 .64 .61 1.05 .61 1.45 .62 1.83 .61 2.21 .61 2.56 .61 2.88 .61 3.17 .62 3.43 .61 3.66 .61 3.84 .61 3.97 .61 4.06 .61 4.1 .61 4.07 .62 4 .61 3.87 .61 3.69 .61 3.45 .61 3.17 .61 2.82 .62 2.45 .61 2.03 .61 1.58 .61 1.12 .61 .62 .62 .12 .61-.38 .61-.87 .61-1.35 .61-1.81 .61-2.24 .62-2.63 .61-2.99 .61-3.3 .61-3.55 .61-3.77 .61-3.92 .62-4.02 .61-4.07 .61-4.06 .61-4 .61-3.89 .61-3.74 .61-3.54 .62-3.3 .61-3.02 .61-2.72 .61-2.38 .61-2.03 .62-1.64 .61-1.25 .61-.84 .61-.43 .61 0 .61 .41 .61 .83 .62 1.24 .61 1.64 .61 2.02 .61 2.38 .61 2.71 .61 3.03 .62 3.3 .61 3.54 .61 3.74 .61 3.89 .61 4 .62 4.06 .61 4.06 .61 4.02 .61 3.91 .61 3.75 .61 3.54 .62 3.28 .61 2.97 .61 2.62 .61 2.23 .61 1.8 .61 1.35 .61 .88 .62 .39 .61-.1 .61-.59 .61-1.08 .61-1.53 .61-1.97 .62-2.39 .61-2.75 .61-3.09 .61-3.37 .61-3.62 .61-3.8 .62-3.93 .61-4.01 .61-4.05 .61-4.02 .61-3.94 .61-3.82 .62-3.65 .61-3.44 .61-3.19 .61-2.9 .61-2.58 .62-2.24 .61-1.86 .61-1.48 .61-1.08 .61-.66 .61-.24 .62 .19 .61 .61 .61 1.02 .61 1.43 .61 1.82 .61 2.2 .61 2.55 .62 2.86 .61 3.17 .61 3.41 .61 3.63 .61 3.81 .62 3.93 .61 4.01 .61 4.04 .61 4.02 .61 3.93 .61 3.8 .61 3.62 .62 3.39 .61 3.1 .61 2.77 .61 2.41 .61 2 .61 1.58 .62 1.12 .61 .64 .61 .17 .61-.32 .61-.79 .62-1.26 .61-1.71 .61-2.12 .61-2.52 .61-2.87 .61-3.17 .62-3.45 .61-3.65 .61-3.83 .61-3.94 .61-4 .61-4.02 .61-3.97 .62-3.88 .61-3.74 .61-3.56 .61-3.33 .61-3.07 .62-2.77 .61-2.44 .61-2.09 .61-1.7 .61-1.31 .61-.9 .61-.47 .62-.05 .61 .38 .61 .8 .61 1.22 .61 1.62 .61 2 .62 2.37 .61 2.7 .61 3.01 .61 3.29 .61 3.51 .62 3.71 .61 3.86 .61 3.95 .61 4.01 .61 4 .61 3.95 .62 3.84 .61 3.68 .61 3.48 .61 3.21 .61 2.92 .61 2.57 .62 2.19 .61 1.79 .61 1.34 .61 .89 .61 .43 .61-.06 .62-.52 .61-.99 .61-1.43 .61-1.87 .61-2.27 .61-2.63 .61-2.97 .62-3.26 .61-3.5 .61-3.7 .61-3.84 .61-3.94 .61-3.99 .62-3.97 .61-3.92 .61-3.82 .61-3.65 .61-3.46 .62-3.23 .61-2.94 .61-2.64 .61-2.29 .61-1.93 .61-1.53 .62-1.13 .61-.72 .61-.28 .61 .14 .61 .58 .61 .99 .62 1.41 .61 1.8 .61 2.18 .61 2.53 .61 2.86 .61 3.14 .61 3.39 .62 3.6 .61 3.77 .61 3.89 .61 3.96 .61 3.99 .61 3.95 .62 3.86 .61 3.74 .61 3.55 .61 3.32 .61 3.04 .61 2.72 .62 2.37 .61 1.98 .61 1.56 .61 1.12 .61 .67 .61 .2 .62-.26 .61-.72 .61-1.17 .61-1.6 .61-2.02 .62-2.4 .61-2.75 .61-3.06 .61-3.33 .61-3.55 .61-3.73 .62-3.86 .61-3.93 .61-3.96 .61-3.93 .61-3.86 .61-3.74 .61-3.57 .62-3.36 .61-3.1 .61-2.81 .61-2.5 .61-2.13 .62-1.77 .61-1.36 .61-.95 .61-.52 .61-.09 .61 .34 .61 .77 .62 1.18 .61 1.6 .61 1.98 .61 2.35 .61 2.68 .61 2.99 .62 3.26 .61 3.49 .61 3.67 .61 3.82 .61 3.9 .62 3.95 .61 3.94 .61 3.89 .61 3.77 .61 3.62 .61 3.4 .62 3.16 .61 2.86 .61 2.53 .61 2.16 .61 1.76 .61 1.34 .61 .9 .62 .46 .61-.01 .61-.46 .61-.91 .61-1.34 .62-1.77 .61-2.15 .61-2.53 .61-2.85 .61-3.14 .61-3.39 .62-3.6 .61-3.75 .61-3.87 .61-3.92 .61-3.92 .61-3.89 .61-3.79 .62-3.66 .61-3.47 .61-3.25 .61-2.98 .61-2.67 .62-2.34 .61-1.98 .61-1.59 .61-1.18 .61-.77 .61-.33 .62 .11 .61 .53 .61 .96 .61 1.38 .61 1.78 .61 2.15 .61 2.51 .62 2.83 .61 3.11 .61 3.36 .61 3.57 .61 3.73 .62 3.84 .61 3.91 .61 3.92 .61 3.89 .61 3.8 .61 3.67 .62 3.48 .61 3.26 .61 2.98 .61 2.68 .61 2.33 .61 1.95 .61 1.55 .62 1.12 .61 .69 .61 .25 .61-.21 .61-.65 .61-1.09 .62-1.51 .61-1.92 .61-2.29 .61-2.63 .61-2.95 .62-3.22 .61-3.45 .61-3.63 .61-3.77 .61-3.86 .61-3.9 .61-3.89 .62-3.83 .61-3.73 .61-3.56 .61-3.37 .61-3.13 .61-2.84 .62-2.54 .61-2.18 .61-1.81 .61-1.41 .61-1 .62-.57 .61-.13 .61 .3 .61 .73 .61 1.15 .61 1.56 .61 1.96 .62 2.32 .61 2.65 .61 2.96 .61 3.22 .61 3.45 .61 3.63 .62 3.77 .61 3.85 .61 3.89 .61 3.88 .61 3.82 .62 3.71 .61 3.55 .61 3.35 .61 3.1 .61 2.81 .61 2.48 .61 2.13 .62 1.75 .61 1.34 .61 .91 .61 .48 .61 .04 .61-.4 .62-.84 .61-1.26 .61-1.67 .61-2.05 .61-2.42 .62-2.74 .61-3.03 .61-3.29 .61-3.5 .61-3.66 .61-3.78 .61-3.85 .62-3.87 .61-3.85 .61-3.77 .61-3.64 .61-3.47 .61-3.26 .62-3 .61-2.71 .61-2.37 .61-2.02 .61-1.63 .62-1.23 .61-.81 .61-.38 .61 .06 .61 .5 .61 .92 .62 1.34 .61 1.75 .61 2.12 .61 2.47 .61 2.79 .61 3.07 .61 3.32 .62 3.53 .61 3.68 .61 3.78 .61 3.85 .61 3.87 .62 3.82 .61 3.74 .61 3.6 .61 3.43 .61 3.19 .61 2.94 .62 2.63 .61 2.29 .61 1.93 .61 1.54 .61 1.14 .61 .71 .61 .27 .62-.15 .61-.59 .61-1.02 .61-1.42 .61-1.82 .62-2.19 .61-2.53 .61-2.84 .61-3.11 .61-3.35 .61-3.54 .62-3.68 .61-3.79 .61-3.83 .61-3.84 .61-3.79 .61-3.7 .61-3.56 .62-3.36 .61-3.14 .61-2.87 .61-2.55 .61-2.22 .62-1.85 .61-1.45 .61-1.04 .61-.61 .61-.19 .61 .26 .62 .69 .61 1.11 .61 1.53 .61 1.91 .61 2.28 .61 2.61 .61 2.92 .62 3.18 .61 3.4 .61 3.58 .61 3.71 .61 3.8 .62 3.83 .61 3.82 .61 3.75 .61 3.65 .61 3.49 .61 3.29 .62 3.04 .61 2.77 .61 2.44 .61 2.11 .61 1.73 .61 1.34 .61 .93 .62 .5 .61 .09 .61-.35 .61-.77 .61-1.18 .61-1.59 .62-1.96 .61-2.31 .61-2.64 .61-2.93 .61-3.18 .62-3.4 .61-3.58 .61-3.7 .61-3.78 .61-3.81 .61-3.79 .61-3.74 .62-3.61 .61-3.46 .61-3.26 .61-3.01 .61-2.72 .61-2.4 .62-2.05 .61-1.67 .61-1.27 .61-.85 .61-.42 .62 .02 .61 .45 .61 .88 .61 1.3 .61 1.7 .61 2.07 .61 2.43 .62 2.75 .61 3.02 .61 3.27 .61 3.47 .61 3.62 .61 3.73 .62 3.79 .61 3.8 .61 3.76 .61 3.68 .61 3.54 .62 3.37 .61 3.14 .61 2.89 .61 2.59 .61 2.27 .61 1.91 .61 1.53 .62 1.14 .61 .73 .61 .31 .61-.11 .61-.53 .61-.94 .62-1.35 .61-1.73 .61-2.09 .61-2.43 .61-2.74 .62-3.02 .61-3.25 .61-3.44 .61-3.6 .61-3.71 .61-3.77 .62-3.78 .61-3.74 .61-3.66 .61-3.53 .61-3.36 .61-3.13 .61-2.87 .62-2.58 .61-2.24 .61-1.87 .61-1.49 .61-1.08 .62-.65 .61-.22 .61 .21 .61 .64 .61 1.07 .61 1.48 .62 1.86 .61 2.23 .61 2.56 .61 2.87 .61 3.12 .61 3.35 .61 3.52 .62 3.65 .61 3.73 .61 3.77 .61 3.76 .61 3.69 .62 3.58 .61 3.43 .61 3.23 .61 3 .61 2.72 .61 2.42 .62 2.08 .61 1.72 .61 1.34 .61 .95 .61 .53 .61 .12 .61-.3 .62-.7 .61-1.12 .61-1.5 .61-1.87 .61-2.22 .62-2.54 .61-2.83 .61-3.09 .61-3.31 .61-3.48 .61-3.62 .62-3.7 .61-3.75 .61-3.74 .61-3.68 .61-3.59 .61-3.43 .61-3.24 .62-3.01 .61-2.73 .61-2.41 .61-2.07 .61-1.7 .61-1.3 .62-.88 .61-.46 .61-.03 .61 .41 .61 .83 .62 1.25 .61 1.65 .61 2.02 .61 2.37 .61 2.69 .61 2.97 .61 3.21 .62 3.4 .61 3.56 .61 3.67 .61 3.72 .61 3.74 .61 3.69 .62 3.62 .61 3.48 .61 3.31 .61 3.09 .61 2.85 .62 2.55 .61 2.24 .61 1.9 .61 1.53 .61 1.15 .61 .75 .61 .34 .62-.07 .61-.47 .61-.88 .61-1.27 .61-1.65 .61-2.01 .62-2.34 .61-2.64 .61-2.92 .61-3.15 .61-3.36 .62-3.51 .61-3.63 .61-3.69 .61-3.72 .61-3.69 .61-3.62 .61-3.49 .62-3.33 .61-3.12 .61-2.87 .61-2.57 .61-2.25 .61-1.9 .62-1.51 .61-1.11 .61-.69 .61-.27 .61 .17 .62 .6 .61 1.01 .61 1.43 .61 1.81 .61 2.17 .61 2.5 .61 2.8 .62 3.06 .61 3.28 .61 3.46 .61 3.58 .61 3.67 .61 3.7 .62 3.69 .61 3.62 .61 3.53 .61 3.37 .61 3.18 .62 2.95 .61 2.69 .61 2.39 .61 2.06 .61 1.71 .61 1.34 .62 .96 .61 .56 .61 .15 .61-.24 .61-.65 .61-1.05 .61-1.42 .62-1.79 .61-2.13 .61-2.45 .61-2.74 .61-3 .62-3.21 .61-3.4 .61-3.53 .61-3.63 .61-3.67 .61-3.68 .62-3.63 .61-3.54 .61-3.4 .61-3.22 .61-2.99 .61-2.72 .61-2.41 .62-2.08 .61-1.72 .61-1.32 .61-.92 .61-.5 .62-.07 .61 .36 .61 .78 .61 1.2 .61 1.59 .61 1.96 .62 2.31 .61 2.62 .61 2.9 .61 3.14 .61 3.34 .61 3.49 .61 3.59 .62 3.66 .61 3.66 .61 3.64 .61 3.54 .61 3.43 .62 3.25 .61 3.05 .61 2.8 .61 2.53 .61 2.22 .61 1.88 .62 1.53 .61 1.15 .61 .77 .61 .37 .61-.02 .61-.43 .61-.81 .62-1.21 .61-1.57 .61-1.92 .61-2.25 .61-2.56 .62-2.82 .61-3.06 .61-3.27 .61-3.43 .61-3.54 .61-3.62 .62-3.65 .61-3.62 .61-3.57 .61-3.45 .61-3.3 .61-3.09 .61-2.85 .62-2.57 .61-2.25 .61-1.91 .61-1.53 .61-1.13 .61-.73 .62-.3 .61 .12 .61 .55 .61 .96 .61 1.37 .62 1.74 .61 2.11 .61 2.44 .61 2.73 .61 2.99 .61 3.2 .61 3.39 .62 3.51 .61 3.59 .61 3.63 .61 3.62 .61 3.56 .61 3.46 .62 3.32 .61 3.13 .61 2.91 .61 2.65 .61 2.36 .62 2.04 .61 1.71 .61 1.34 .61 .97 .61 .58 .61 .2 .61-.21 .62-.59 .61-.98 .61-1.35 .61-1.72 .61-2.04 .61-2.37 .62-2.65 .61-2.9 .61-3.12 .61-3.31 .61-3.45 .62-3.54 .61-3.61 .61-3.6 .61-3.58 .61-3.48 .61-3.36 .61-3.18 .62-2.96 .61-2.71 .61-2.41 .61-2.08 .61-1.73 .61-1.34 .62-.95 .61-.53 .61-.11 .61 .31 .61 .73 .62 1.14 .61 1.53 .61 1.89 .61 2.24 .61 2.55 .61 2.83 .62 3.07 .61 3.26 .61 3.41 .61 3.52 .61 3.58 .61 3.59 .61 3.57 .62 3.48 .61 3.36 .61 3.2 .61 3.01 .61 2.76 .62 2.49 .61 2.2 .61 1.87 .61 1.52 .61 1.17 .61 .78 .62 .41 .61 .01 .61-.38 .61-.76 .61-1.13 .61-1.5 .61-1.84 .62-2.17 .61-2.47 .61-2.73 .61-2.98 .61-3.17 .62-3.34 .61-3.46 .61-3.54 .61-3.57 .61-3.56 .61-3.51 .62-3.4 .61-3.25 .61-3.06 .61-2.82 .61-2.56 .61-2.25 .61-1.9 .62-1.55 .61-1.15 .61-.75 .61-.34 .61 .08 .62 .49 .61 .91 .61 1.3 .61 1.68 .61 2.04 .61 2.36 .62 2.66 .61 2.91 .61 3.13 .61 3.3 .61 3.43 .61 3.52 .61 3.55 .62 3.55 .61 3.49 .61 3.4 .61 3.26 .61 3.08 .61 2.86 .62 2.62 .61 2.33 .61 2.03 .61 1.69 .61 1.35 .62 .98 .61 .61 .61 .23 .61-.17 .61-.54 .61-.92 .61-1.28 .62-1.64 .61-1.97 .61-2.27 .61-2.56 .61-2.82 .61-3.03 .62-3.22 .61-3.36 .61-3.46 .61-3.52 .61-3.54 .62-3.5 .61-3.43 .61-3.31 .61-3.13 .61-2.93 .61-2.69 .61-2.39 .62-2.08 .61-1.73 .61-1.36 .61-.97 .61-.56 .61-.15 .62 .27 .61 .67 .61 1.08 .61 1.46 .61 1.83 .62 2.17 .61 2.47 .61 2.75 .61 2.98 .61 3.18 .61 3.33 .61 3.44 .62 3.5 .61 3.52 .61 3.49 .61 3.42 .61 3.3 .61 3.14 .62 2.96 .61 2.72 .61 2.46 .61 2.17 .61 1.86 .62 1.52 .61 1.17 .61 .81 .61 .43 .61 .05 .61-.33 .61-.71 .62-1.07 .61-1.43 .61-1.76 .61-2.09 .61-2.38 .61-2.64 .62-2.89 .61-3.08 .61-3.25 .61-3.37 .61-3.46 .62-3.49 .61-3.49 .61-3.44 .61-3.34 .61-3.2 .61-3.02 .62-2.79 .61-2.54 .61-2.23 .61-1.9 .61-1.55 .61-1.18 .61-.77 .62-.38 .61 .04 .61 .45 .61 .85 .61 1.24 .62 1.61 .61 1.96 .61 2.29 .61 2.57 .61 2.83 .61 3.04 .62 3.22 .61 3.35 .61 3.43 .61 3.48 .61 3.47 .61 3.42 .61 3.33 .62 3.2 .61 3.03 .61 2.82 .61 2.57 .61 2.31 .62 2.01 .61 1.69 .61 1.35 .61 .99 .61 .63 .61 .25 .62-.12 .61-.49 .61-.86 .61-1.22 .61-1.56 .61-1.89 .61-2.19 .62-2.48 .61-2.72 .61-2.94 .61-3.13 .61-3.27 .62-3.37 .61-3.44 .61-3.46 .61-3.43 .61-3.36 .61-3.25 .62-3.09 .61-2.89 .61-2.65 .61-2.38 .61-2.07 .61-1.73 .61-1.36 .62-.99 .61-.59 .61-.19 .61 .22 .61 .63 .62 1.01 .61 1.4 .61 1.75 .61 2.09 .61 2.4 .61 2.66 .62 2.9 .61 3.09 .61 3.25 .61 3.35 .61 3.42 .61 3.44 .61 3.41 .62 3.35 .61 3.23 .61 3.09 .61 2.9 .61 2.68 .61 2.43 .62 2.15 .61 1.84 .61 1.52 .61 1.17 .61 .82 .62 .46 .61 .08 .61-.28 .61-.65 .61-1.01 .61-1.36 .61-1.69 .62-2 .61-2.3 .61-2.56 .61-2.79 .61-2.99 .61-3.16 .62-3.28 .61-3.37 .61-3.41 .61-3.41 .61-3.37 .62-3.27 .61-3.15 .61-2.97 .61-2.75 .61-2.51 .61-2.21 .61-1.9 .62-1.55 .61-1.18 .61-.8 .61-.41 .61 0 .61 .39 .62 .8 .61 1.17 .61 1.54 .61 1.89 .61 2.21 .62 2.49 .61 2.74 .61 2.96 .61 3.13 .61 3.26 .61 3.34 .61 3.4 .62 3.39 .61 3.34 .61 3.26 .61 3.14 .61 2.97 .61 2.77 .62 2.54 .61 2.27 .61 1.99 .61 1.68 .61 1.35 .62 1 .61 .65 .61 .28 .61-.08 .61-.44 .61-.81 .62-1.15 .61-1.49 .61-1.81 .61-2.11 .61-2.39 .61-2.63 .61-2.85 .62-3.03 .61-3.18 .61-3.28 .61-3.36 .61-3.37 .62-3.35 .61-3.3 .61-3.18 .61-3.04 .61-2.84 .61-2.62 .62-2.34 .61-2.06 .61-1.72 .61-1.37 .61-1 .61-.62 .61-.22 .62 .18 .61 .57 .61 .95 .61 1.33 .61 1.68 .61 2.01 .62 2.31 .61 2.58 .61 2.81 .61 3 .61 3.15 .62 3.27 .61 3.33 .61 3.35 .61 3.34 .61 3.27 .61 3.17 .62 3.02 .61 2.85 .61 2.63 .61 2.4 .61 2.12 .61 1.82 .62 1.51 .61 1.18 .61 .83 .61 .48 .61 .12 .61-.24 .62-.6 .61-.95 .61-1.29 .61-1.61 .61-1.93 .61-2.21 .61-2.46 .62-2.7 .61-2.9 .61-3.06 .61-3.19 .61-3.28 .61-3.32 .62-3.33 .61-3.29 .61-3.21 .61-3.08 .61-2.92 .62-2.71 .61-2.47 .61-2.19 .61-1.89 .61-1.54 .61-1.2 .61-.82 .62-.43 .61-.04 .61 .35 .61 .73 .61 1.11 .61 1.48 .62 1.81 .61 2.12 .61 2.4 .61 2.65 .61 2.87 .61 3.04 .62 3.17 .61 3.25 .61 3.31 .61 3.3 .61 3.27 .61 3.19 .62 3.07 .61 2.91 .61 2.72 .61 2.49 .61 2.24 .62 1.97 .61 1.66 .61 1.34 .61 1.01 .61 .67 .61 .31 .62-.04 .61-.4 .61-.75 .61-1.09 .61-1.42 .61-1.73 .61-2.02 .62-2.3 .61-2.54 .61-2.76 .61-2.93 .61-3.09 .61-3.19 .62-3.26 .61-3.28 .61-3.28 .61-3.21 .61-3.12 .62-2.97 .61-2.8 .61-2.57 .61-2.32 .61-2.03 .61-1.71 .62-1.38 .61-1.01 .61-.64 .61-.25 .61 .13 .61 .52 .61 .89 .62 1.26 .61 1.61 .61 1.93 .61 2.22 .61 2.49 .62 2.72 .61 2.91 .61 3.06 .61 3.17 .61 3.24 .61 3.27 .61 3.25 .62 3.19 .61 3.1 .61 2.96 .61 2.79 .61 2.58 .61 2.35 .62 2.09 .61 1.81 .61 1.5 .61 1.17 .61 .85 .62 .5 .61 .15 .61-.2 .61-.55 .61-.89 .61-1.22 .62-1.54 .61-1.84 .61-2.13 .61-2.37 .61-2.61 .61-2.8 .61-2.96 .62-3.1 .61-3.18 .61-3.23 .61-3.24 .61-3.21 .61-3.14 .62-3.01 .61-2.86 .61-2.67 .61-2.43 .61-2.16 .62-1.86 .61-1.55 .61-1.19 .61-.84 .61-.46 .61-.08 .62 .31 .61 .68 .61 1.04 .61 1.4 .61 1.73 .61 2.04 .61 2.32 .62 2.56 .61 2.77 .61 2.94 .61 3.08 .61 3.16 .61 3.21 .62 3.22 .61 3.19 .61 3.11 .61 2.99 .61 2.85 .61 2.66 .62 2.45 .61 2.2 .61 1.94 .61 1.65 .61 1.33 .62 1.01 .61 .68 .61 .34 .61-.01 .61-.35 .61-.69 .62-1.03 .61-1.34 .61-1.66 .61-1.94 .61-2.21 .61-2.44 .62-2.66 .61-2.84 .61-2.99 .61-3.09 .61-3.16 .61-3.2 .62-3.19 .61-3.13 .61-3.05 .61-2.91 .61-2.73 .61-2.53 .61-2.28 .62-2.01 .61-1.7 .61-1.37 .61-1.02 .61-.66 .61-.28 .62 .09 .61 .47 .61 .83 .61 1.2 .61 1.53 .62 1.84 .61 2.14 .61 2.4 .61 2.62 .61 2.81 .61 2.97 .62 3.07 .61 3.15 .61 3.17 .61 3.17 .61 3.11 .61 3.02 .61 2.89 .62 2.72 .61 2.54 .61 2.3 .61 2.06 .61 1.78 .61 1.48 .62 1.18 .61 .85 .61 .52 .61 .18 .61-.17 .61-.49 .62-.84 .61-1.15 .61-1.47 .61-1.75 .61-2.04 .61-2.28 .62-2.51 .61-2.7 .61-2.87 .61-2.99 .61-3.09 .61-3.13 .62-3.16 .61-3.12 .61-3.05 .61-2.95 .61-2.79 .62-2.61 .61-2.39 .61-2.13 .61-1.84 .61-1.54 .61-1.19 .62-.85 .61-.48 .61-.12 .61 .26 .61 .63 .61 .98 .62 1.33 .61 1.65 .61 1.95 .61 2.23 .61 2.47 .61 2.67 .62 2.84 .61 2.98 .61 3.07 .61 3.11 .61 3.13 .61 3.1 .62 3.03 .61 2.92 .61 2.77 .61 2.61 .61 2.39 .61 2.17 .61 1.9 .62 1.62 .61 1.33 .61 1.01 .61 .7 .61 .36 .62 .02 .61-.31 .61-.64 .61-.96 .61-1.28 .61-1.57 .62-1.86 .61-2.11 .61-2.36 .61-2.55 .61-2.74 .61-2.89 .61-2.99 .62-3.07 .61-3.1 .61-3.09 .61-3.05 .61-2.97 .61-2.84 .62-2.67 .61-2.48 .61-2.24 .61-1.98 .61-1.68 .61-1.36 .62-1.03 .61-.67 .61-.32 .61 .06 .61 .42 .61 .77 .62 1.13 .61 1.45 .61 1.77 .61 2.05 .61 2.3 .61 2.53 .62 2.71 .61 2.87 .61 2.97 .61 3.05 .61 3.08 .62 3.07 .61 3.02 .61 2.94 .61 2.81 .61 2.67 .61 2.47 .62 2.26 .61 2.01 .61 1.76 .61 1.46 .61 1.17 .61 .86 .62 .53 .61 .21 .61-.13 .61-.45 .61-.77 .61-1.09 .62-1.39 .61-1.68 .61-1.94 .61-2.19 .61-2.41 .61-2.6 .61-2.77 .62-2.89 .61-2.98 .61-3.04 .61-3.05 .61-3.04 .61-2.97 .62-2.87 .61-2.72 .61-2.55 .61-2.34 .61-2.1 .62-1.81 .61-1.52 .61-1.2 .61-.85 .61-.51 .61-.14 .61 .21 .62 .57 .61 .92 .61 1.26 .61 1.57 .61 1.87 .61 2.14 .62 2.37 .61 2.57 .61 2.75 .61 2.87 .61 2.97 .61 3.01 .62 3.04 .61 3 .61 2.94 .61 2.84 .61 2.71 .61 2.54 .62 2.34 .61 2.11 .61 1.87 .61 1.6 .61 1.31 .61 1.01 .62 .7 .61 .38 .61 .06" stroke="#e51e10" stroke-width="9.5" stroke-dasharray="18.4 22.4"/>
<path id="cDQ2wd" d="M379 992l.61-.02 .61-.07 .61-.11 .62-.16 .61-.19 .61-.24 .61-.26 .61-.3 .61-.33 .62-.36 .61-.37 .61-.38 .61-.4 .61-.4 .62-.4 .61-.39 .61-.39 .61-.36 .61-.35 .61-.32 .62-.3 .61-.26 .61-.22 .61-.19 .61-.14 .61-.11 .61-.05 .62-.02 .61 .04 .61 .07 .61 .13 .61 .16 .62 .2 .61 .25 .61 .27 .61 .31 .61 .33 .61 .36 .62 .38 .61 .38 .61 .4 .61 .4 .61 .4 .61 .39 .61 .38 .62 .37 .61 .34 .61 .31 .61 .29 .61 .25 .61 .22 .62 .18 .61 .13 .61 .1 .61 .04 .61 .01 .62-.05 .61-.09 .61-.13 .61-.17 .61-.21 .61-.25 .61-.29 .62-.31 .61-.34 .61-.36 .61-.38 .61-.39 .61-.4 .62-.4 .61-.4 .61-.39 .61-.37 .61-.36 .62-.34 .61-.31 .61-.28 .61-.24 .61-.21 .61-.17 .62-.13 .61-.08 .61-.04 .61 .01 .61 .06 .61 .09 .61 .14 .62 .19 .61 .22 .61 .26 .61 .29 .61 .32 .61 .34 .62 .37 .61 .38 .61 .39 .61 .4 .61 .4 .62 .4 .61 .39 .61 .37 .61 .35 .61 .33 .61 .31 .62 .27 .61 .24 .61 .2 .61 .15 .61 .12 .61 .07 .61 .03 .62-.02 .61-.06 .61-.11 .61-.15 .61-.19 .61-.23 .62-.27 .61-.29 .61-.33 .61-.35 .61-.37 .62-.38 .61-.4 .61-.4 .61-.4 .61-.39 .61-.39 .61-.37 .62-.35 .61-.32 .61-.3 .61-.26 .61-.23 .61-.19 .62-.15 .61-.11 .61-.06 .61-.02 .61 .03 .62 .07 .61 .12 .61 .16 .61 .2 .61 .24 .61 .27 .62 .31 .61 .33 .61 .35 .61 .38 .61 .38 .61 .4 .61 .4 .62 .4 .61 .39 .61 .39 .61 .36 .61 .34 .61 .32 .62 .29 .61 .26 .61 .22 .61 .18 .61 .14 .62 .1 .61 .05 .61 .01 .61-.04 .61-.08 .61-.13 .62-.17 .61-.21 .61-.25 .61-.28 .61-.31 .61-.33 .61-.36 .62-.38 .61-.39 .61-.4 .61-.4 .61-.4 .62-.39 .61-.38 .61-.36 .61-.34 .61-.31 .61-.28 .62-.25 .61-.21 .61-.17 .61-.14 .61-.08 .61-.04 .61 0 .62 .05 .61 .09 .61 .14 .61 .18 .61 .21 .61 .26 .62 .29 .61 .31 .61 .35 .61 .36 .61 .38 .62 .39 .61 .4 .61 .4 .61 .4 .61 .39 .61 .37 .61 .36 .62 .33 .61 .31 .61 .27 .61 .24 .61 .21 .62 .16 .61 .12 .61 .08 .61 .03 .61-.01 .61-.06 .61-.11 .62-.14 .61-.19 .61-.23 .61-.26 .61-.29 .61-.33 .62-.34 .61-.37 .61-.38 .61-.4 .61-.4 .62-.4 .61-.39 .61-.39 .61-.37 .61-.35 .61-.33 .61-.3 .62-.27 .61-.23 .61-.2 .61-.15 .61-.11 .62-.07 .61-.02 .61 .03 .61 .07 .61 .11 .61 .15 .62 .2 .61 .23 .61 .27 .61 .3 .61 .33 .61 .36 .61 .37 .62 .39 .61 .39 .61 .4 .61 .4 .61 .39 .62 .39 .61 .36 .61 .35 .61 .32 .61 .3 .61 .26 .62 .22 .61 .19 .61 .14 .61 .1 .61 .06 .61 .01 .61-.04 .62-.07 .61-.13 .61-.16 .61-.21 .61-.24 .62-.28 .61-.3 .61-.34 .61-.36 .61-.37 .61-.39 .62-.4 .61-.4 .61-.4 .61-.39 .61-.38 .61-.36 .61-.34 .62-.32 .61-.29 .61-.25 .61-.21 .61-.18 .62-.13 .61-.09 .61-.05 .61 0 .61 .04 .61 .09 .61 .13 .62 .18 .61 .21 .61 .25 .61 .29 .61 .31 .61 .34 .62 .36 .61 .38 .61 .39 .61 .4 .61 .4 .62 .4 .61 .39 .61 .38 .61 .35 .61 .34 .61 .31 .61 .28 .62 .24 .61 .21 .61 .17 .61 .12 .61 .08 .61 .04 .62-.01 .61-.06 .61-.09 .61-.15 .61-.18 .62-.22 .61-.26 .61-.29 .61-.32 .61-.35 .61-.36 .61-.39 .62-.39 .61-.4 .61-.4 .61-.4 .61-.38 .61-.37 .62-.36 .61-.33 .61-.3 .61-.27 .61-.24 .62-.2 .61-.16 .61-.11 .61-.07 .61-.03 .61 .02 .61 .07 .62 .1 .61 .16 .61 .19 .61 .23 .61 .27 .62 .29 .61 .33 .61 .35 .61 .37 .61 .39 .61 .39 .62 .4 .61 .4 .61 .4 .61 .38 .61 .37 .61 .35 .61 .32 .62 .3 .61 .26 .61 .23 .61 .19 .61 .15 .62 .1 .61 .06 .61 .02 .61-.03 .61-.07 .61-.12 .61-.16 .62-.2 .61-.24 .61-.28 .61-.3 .61-.33 .62-.36 .61-.37 .61-.39 .61-.4 .61-.4 .61-.4 .62-.39 .61-.38 .61-.37 .61-.34 .61-.32 .61-.29 .61-.25 .62-.22 .61-.18 .61-.14 .61-.1 .61-.05 .62 0 .61 .04 .61 .08 .61 .13 .61 .17 .61 .21 .62 .24 .61 .29 .61 .31 .61 .34 .61 .36 .61 .37 .61 .39 .62 .4 .61 .4 .61 .4 .61 .39 .61 .38 .62 .36 .61 .34 .61 .31 .61 .28 .61 .25 .61 .21 .62 .17 .61 .13 .61 .09 .61 .04 .61-.01 .61-.05 .61-.09 .62-.14 .61-.18 .61-.22 .61-.25 .61-.29 .62-.32 .61-.34 .61-.37 .61-.38 .61-.39 .61-.4 .61-.4 .62-.4 .61-.38 .61-.38 .61-.35 .61-.34 .61-.3 .62-.28 .61-.24 .61-.2 .61-.16 .61-.12 .62-.08 .61-.03 .61 .02 .61 .06 .61 .1 .61 .15 .61 .19 .62 .22 .61 .27 .61 .29 .61 .33 .61 .34 .61 .37 .62 .39 .61 .39 .61 .4 .61 .4 .61 .4 .62 .38 .61 .37 .61 .35 .61 .33 .61 .3 .61 .27 .61 .23 .62 .19 .61 .15 .61 .11 .61 .07 .61 .02 .61-.02 .62-.07 .61-.12 .61-.16 .61-.19 .61-.24 .62-.27 .61-.3 .61-.33 .61-.35 .61-.38 .61-.38 .62-.4 .61-.4 .61-.4 .61-.39 .61-.38 .61-.37 .61-.35 .62-.32 .61-.29 .61-.26 .61-.22 .61-.19 .61-.14 .62-.1 .61-.06 .61-.01 .61 .04 .61 .08 .62 .12 .61 .17 .61 .2 .61 .25 .61 .28 .61 .3 .61 .34 .62 .36 .61 .37 .61 .39 .61 .4 .61 .4 .61 .4 .62 .39 .61 .38 .61 .36 .61 .34 .61 .32 .62 .28 .61 .26 .61 .21 .61 .18 .61 .13 .61 .09 .62 .04 .61 0 .61-.04 .61-.09 .61-.13 .61-.18 .61-.21 .62-.26 .61-.28 .61-.32 .61-.34 .61-.36 .62-.38 .61-.39 .61-.4 .61-.4 .61-.4 .61-.39 .62-.37 .61-.36 .61-.34 .61-.3 .61-.28 .61-.25 .61-.2 .62-.17 .61-.12 .61-.08 .61-.04 .61 .01 .62 .06 .61 .1 .61 .14 .61 .19 .61 .22 .61 .26 .62 .29 .61 .32 .61 .35 .61 .37 .61 .38 .61 .39 .61 .4 .62 .4 .61 .4 .61 .38 .61 .38 .61 .35 .62 .33 .61 .3 .61 .27 .61 .24 .61 .19 .61 .16 .61 .12 .62 .07 .61 .02 .61-.02 .61-.07 .61-.11 .61-.15 .62-.19 .61-.23 .61-.27 .61-.3 .61-.33 .62-.35 .61-.37 .61-.38 .61-.4 .61-.4 .61-.4 .61-.39 .62-.39 .61-.37 .61-.34 .61-.33 .61-.29 .61-.27 .62-.22 .61-.19 .61-.15 .61-.1 .61-.06 .62-.02 .61 .03 .61 .08 .61 .12 .61 .16 .61 .2 .61 .24 .62 .28 .61 .3 .61 .34 .61 .35 .61 .38 .61 .38 .62 .4 .61 .4 .61 .4 .61 .39 .61 .38 .62 .37 .61 .34 .61 .32 .61 .29 .61 .25 .61 .22 .62 .18 .61 .14 .61 .09 .61 .05 .61 .01 .61-.04 .62-.09 .61-.13 .61-.17 .61-.21 .61-.25 .61-.28 .62-.31 .61-.34 .61-.36 .61-.38 .61-.39 .61-.4 .61-.4 .62-.4 .61-.39 .61-.37 .61-.36 .61-.34 .61-.31 .62-.29 .61-.24 .61-.21 .61-.17 .61-.13 .61-.08 .62-.04 .61 0 .61 .05 .61 .1 .61 .14 .62 .18 .61 .22 .61 .25 .61 .29 .61 .32 .61 .34 .62 .37 .61 .38 .61 .39 .61 .4 .61 .4 .61 .4 .61 .39 .62 .37 .61 .36 .61 .33 .61 .3 .61 .28 .62 .24 .61 .2 .61 .16 .61 .12 .61 .07 .61 .03 .62-.02 .61-.06 .61-.1 .61-.15 .61-.19 .61-.23 .61-.26 .62-.3 .61-.32 .61-.35 .61-.37 .61-.38 .62-.4 .61-.4 .61-.4 .61-.39 .61-.39 .61-.37 .62-.35 .61-.33 .61-.29 .61-.27 .61-.23 .61-.19 .61-.16 .62-.1 .61-.07 .61-.02 .61 .03 .61 .07 .62 .11 .61 .16 .61 .2 .61 .24 .61 .27 .61 .3 .61 .33 .62 .36 .61 .37 .61 .38 .61 .4 .61 .4 .61 .4 .62 .39 .61 .39 .61 .36 .61 .35 .61 .32 .62 .29 .61 .26 .61 .22 .61 .18 .61 .15 .61 .09 .61 .06 .62 .01 .61-.04 .61-.08 .61-.12 .61-.17 .61-.21 .62-.24 .61-.28 .61-.31 .61-.34 .61-.35 .62-.38 .61-.39 .61-.4 .61-.4 .61-.4 .61-.39 .61-.38 .62-.36 .61-.34 .61-.31 .61-.29 .61-.25 .61-.21 .62-.18 .61-.13 .61-.09 .61-.04 .61 0 .62 .05 .61 .09 .61 .13 .61 .18 .61 .21 .61 .25 .62 .29 .61 .32 .61 .34 .61 .36 .61 .38 .61 .39 .61 .4 .62 .4 .61 .4 .61 .39 .61 .37 .61 .36 .61 .34 .62 .3 .61 .28 .61 .24 .61 .21 .61 .16 .62 .13 .61 .07 .61 .04 .61-.01 .61-.06 .61-.1 .61-.14 .62-.19 .61-.22 .61-.26 .61-.3 .61-.32 .61-.35 .62-.36 .61-.39 .61-.39 .61-.4 .61-.4 .61-.39 .62-.39 .61-.37 .61-.36 .61-.33 .61-.3 .62-.27 .61-.23 .61-.2 .61-.15 .61-.11 .61-.07 .61-.03 .62 .02 .61 .07 .61 .11 .61 .15 .61 .2 .62 .23 .61 .27 .61 .3 .61 .33 .61 .35 .61 .37 .62 .39 .61 .39 .61 .4 .61 .4 .61 .4 .61 .38 .61 .37 .62 .34 .61 .33 .61 .29 .61 .26 .61 .23 .62 .19 .61 .14 .61 .11 .61 .06 .61 .01 .61-.03 .62-.08 .61-.12 .61-.16 .61-.21 .61-.24 .61-.27 .61-.31 .62-.33 .61-.36 .61-.37 .61-.39 .61-.4 .62-.4 .61-.4 .61-.39 .61-.38 .61-.36 .61-.35 .61-.31 .62-.29 .61-.26 .61-.21 .61-.18 .61-.14 .61-.09 .62-.05 .61 0 .61 .04 .61 .08 .61 .14 .62 .17 .61 .21 .61 .25 .61 .28 .61 .31 .61 .34 .61 .36 .62 .38 .61 .39 .61 .4 .61 .4 .61 .4 .61 .39 .62 .38 .61 .36 .61 .33 .61 .31 .61 .28 .62 .25 .61 .21 .61 .17 .61 .13 .61 .08 .61 .04 .61-.01 .62-.05 .61-.1 .61-.14 .61-.18 .61-.22 .62-.26 .61-.29 .61-.32 .61-.34 .61-.36 .61-.39 .62-.39 .61-.4 .61-.4 .61-.4 .61-.38 .61-.38 .61-.35 .62-.33 .61-.31 .61-.27 .61-.24 .61-.2 .62-.16 .61-.12 .61-.07 .61-.03 .61 .02 .61 .06 .62 .11 .61 .15 .61 .19 .61 .23 .61 .26 .61 .3 .61 .32 .62 .35 .61 .37 .61 .39 .61 .39 .61 .4 .62 .4 .61 .4 .61 .38 .61 .37 .61 .35 .61 .33 .61 .29 .62 .27 .61 .23 .61 .19 .61 .15 .61 .11 .61 .06 .62 .02 .61-.03 .61-.07 .61-.12 .61-.15 .62-.2 .61-.24 .61-.27 .61-.31 .61-.33 .61-.35 .61-.37 .62-.39 .61-.4 .61-.4 .61-.4 .61-.39 .62-.38 .61-.37 .61-.34 .61-.32 .61-.29 .61-.26 .62-.22 .61-.19 .61-.14 .61-.09 .61-.06 .61-.01 .61 .04 .62 .08 .61 .13 .61 .17 .61 .21 .61 .24 .62 .28 .61 .31 .61 .34 .61 .36 .61 .37 .61 .39 .62 .4 .61 .4 .61 .4 .61 .39 .61 .38 .61 .36 .61 .34 .62 .31 .61 .29 .61 .25 .61 .21 .61 .17 .62 .13 .61 .09 .61 .05 .61-.01 .61-.04 .61-.1 .62-.13 .61-.18 .61-.22 .61-.25 .61-.29 .61-.31 .61-.34 .62-.37 .61-.38 .61-.39 .61-.4 .61-.4 .62-.4 .61-.38 .61-.38 .61-.36 .61-.33 .61-.31 .61-.27 .62-.25 .61-.2 .61-.16 .61-.13 .61-.07 .61-.04 .62 .02 .61 .05 .61 .11 .61 .14 .61 .19 .62 .22 .61 .26 .61 .3 .61 .32 .61 .35 .61 .36 .62 .39 .61 .39 .61 .4 .61 .4 .61 .4 .61 .38 .62 .37 .61 .36 .61 .33 .61 .3 .61 .26 .61 .24 .62 .19 .61 .16 .61 .11 .61 .07 .61 .02 .61-.02 .61-.07 .62-.11 .61-.16 .61-.19 .61-.24 .61-.26 .61-.3 .62-.33 .61-.36 .61-.37 .61-.38 .61-.4 .61-.4 .62-.4 .61-.39 .61-.39 .61-.36 .61-.35 .62-.32 .61-.3 .61-.26 .61-.22 .61-.19 .61-.14 .62-.11 .61-.05 .61-.02 .61 .04 .61 .07 .61 .13 .61 .16 .62 .2 .61 .25 .61 .27 .61 .31 .61 .33 .61 .36 .62 .38 .61 .38 .61 .4 .61 .4 .61 .4 .61 .39 .62 .38 .61 .37 .61 .34 .61 .31 .61 .29 .61 .25 .62 .22 .61 .18 .61 .13 .61 .1 .61 .04 .62 .01 .61-.05 .61-.09 .61-.13 .61-.17 .61-.21 .62-.25 .61-.29 .61-.31 .61-.34 .61-.36 .61-.38 .61-.39 .62-.4 .61-.4 .61-.4 .61-.39 .61-.37 .62-.36 .61-.34 .61-.31 .61-.28 .61-.24 .61-.21 .61-.17 .62-.13 .61-.08 .61-.04 .61 .01 .61 .06 .61 .09 .62 .14 .61 .19 .61 .22 .61 .26 .61 .29 .62 .32 .61 .34 .61 .37 .61 .38 .61 .39 .61 .4 .62 .4 .61 .4 .61 .39 .61 .37 .61 .35 .61 .33 .61 .31 .62 .27 .61 .24 .61 .2 .61 .15 .61 .12 .62 .07 .61 .03 .61-.02 .61-.06 .61-.11 .61-.15 .61-.19 .62-.23 .61-.27 .61-.29 .61-.33 .61-.35 .61-.37 .62-.38 .61-.4 .61-.4 .61-.4 .61-.39 .62-.39 .61-.37 .61-.35 .61-.32 .61-.3 .61-.26 .62-.23 .61-.19 .61-.15 .61-.11 .61-.06 .61-.02 .62 .03 .61 .07 .61 .12 .61 .16 .61 .2 .61 .24 .62 .27 .61 .31 .61 .33 .61 .35 .61 .38 .61 .38 .61 .4 .62 .4 .61 .4 .61 .39 .61 .39 .61 .36 .61 .34 .62 .32 .61 .29 .61 .26 .61 .22 .61 .18 .62 .14 .61 .1 .61 .05 .61 .01 .61-.04 .61-.08 .62-.13 .61-.17 .61-.21 .61-.25 .61-.28 .61-.31 .61-.33 .62-.36 .61-.38 .61-.39 .61-.4 .61-.4 .62-.4 .61-.39 .61-.38 .61-.36 .61-.34 .61-.31 .61-.28 .62-.25 .61-.21 .61-.17 .61-.14 .61-.08 .61-.04 .62 0 .61 .05 .61 .09 .61 .14 .61 .18 .61 .21 .62 .26 .61 .29 .61 .31 .61 .35 .61 .36 .62 .38 .61 .39 .61 .4 .61 .4 .61 .4 .61 .39 .62 .37 .61 .36 .61 .33 .61 .31 .61 .27 .61 .24 .61 .21 .62 .16 .61 .12 .61 .08 .61 .03 .61-.01 .62-.06 .61-.11 .61-.14 .61-.19 .61-.23 .61-.26 .61-.29 .62-.33 .61-.34 .61-.37 .61-.38 .61-.4 .61-.4 .62-.4 .61-.39 .61-.39 .61-.37 .61-.35 .62-.33 .61-.3 .61-.27 .61-.23 .61-.2 .61-.15 .62-.11 .61-.07 .61-.02 .61 .03 .61 .07 .61 .11 .61 .15 .62 .2 .61 .23 .61 .27 .61 .3 .61 .33 .62 .36 .61 .37 .61 .39 .61 .39 .61 .4 .61 .4 .61 .39 .62 .39 .61 .36 .61 .35 .61 .32 .61 .3 .61 .26 .62 .22 .61 .19 .61 .14 .61 .1 .61 .06 .62 .01 .61-.04 .61-.07 .61-.13 .61-.16 .61-.21 .62-.24 .61-.28 .61-.3 .61-.34 .61-.36 .61-.37 .62-.39 .61-.4 .61-.4 .61-.4 .61-.39 .61-.38 .61-.36 .62-.34 .61-.32 .61-.29 .61-.25 .61-.21 .62-.18 .61-.13 .61-.09 .61-.05 .61 0 .61 .04 .61 .09 .62 .13 .61 .18 .61 .21 .61 .25 .61 .29 .61 .31 .62 .34 .61 .36 .61 .38 .61 .39 .61 .4 .62 .4 .61 .4 .61 .39 .61 .38 .61 .35 .61 .34 .62 .31 .61 .28 .61 .24 .61 .21 .61 .17 .61 .12 .61 .08 .62 .04 .61-.01 .61-.06 .61-.09 .61-.15 .61-.18 .62-.22 .61-.26 .61-.29 .61-.32 .61-.35 .61-.36 .62-.39 .61-.39 .61-.4 .61-.4 .61-.4 .61-.38 .62-.37 .61-.36 .61-.33 .61-.3 .61-.27 .62-.24 .61-.2 .61-.16 .61-.11 .61-.07 .61-.03 .62 .02 .61 .07 .61 .1 .61 .16 .61 .19 .61 .23 .61 .27 .62 .29 .61 .33 .61 .35 .61 .37 .61 .39 .62 .39 .61 .4 .61 .4 .61 .4 .61 .38 .61 .37 .61 .35 .62 .32 .61 .3 .61 .26 .61 .23 .61 .19 .61 .15 .62 .1 .61 .06 .61 .02 .61-.03 .61-.07 .62-.12 .61-.16 .61-.2 .61-.24 .61-.28 .61-.3 .62-.33 .61-.36 .61-.37 .61-.39 .61-.4 .61-.4 .61-.4 .62-.39 .61-.38 .61-.37 .61-.34 .61-.32 .62-.29 .61-.25 .61-.22 .61-.18 .61-.14 .61-.1 .61-.05 .62 0 .61 .04 .61 .08 .61 .13 .61 .17 .61 .21 .62 .24 .61 .29 .61 .31 .61 .34 .61 .36 .62 .37 .61 .39 .61 .4 .61 .4 .61 .4 .61 .39 .62 .38 .61 .36 .61 .34 .61 .31 .61 .28 .61 .25 .62 .21 .61 .17 .61 .13 .61 .09 .61 .04 .61-.01 .62-.05 .61-.09 .61-.14 .61-.18 .61-.22 .61-.25 .61-.29 .62-.32 .61-.34 .61-.37 .61-.38 .61-.39 .61-.4 .62-.4 .61-.4 .61-.38 .61-.38 .61-.35 .62-.34 .61-.3 .61-.28 .61-.24 .61-.2 .61-.16 .62-.12 .61-.08 .61-.03 .61 .02 .61 .06 .61 .1 .62 .15 .61 .19 .61 .22 .61 .27 .61 .29 .61 .33 .61 .34 .62 .37 .61 .39 .61 .39 .61 .4 .61 .4 .61 .4 .62 .38 .61 .37 .61 .35 .61 .33 .61 .3 .61 .27 .62 .23 .61 .19 .61 .15 .61 .11 .61 .07 .61 .02 .62-.02 .61-.07 .61-.12 .61-.16 .61-.19 .62-.24 .61-.27 .61-.3 .61-.33 .61-.35 .61-.38 .62-.38 .61-.4 .61-.4 .61-.4 .61-.39 .61-.38 .61-.37 .62-.35 .61-.32 .61-.29 .61-.26 .61-.22 .62-.19 .61-.14 .61-.1 .61-.06 .61-.01 .61 .04 .61 .08 .62 .12 .61 .17 .61 .2 .61 .25 .61 .28 .61 .3 .62 .34 .61 .36 .61 .37 .61 .39 .61 .4 .62 .4 .61 .4 .61 .39 .61 .38 .61 .36 .61 .34 .62 .32 .61 .28 .61 .26 .61 .21 .61 .18 .61 .13 .61 .09 .62 .04 .61 0 .61-.04 .61-.09 .61-.13 .62-.18 .61-.21 .61-.26 .61-.28 .61-.32 .61-.34 .62-.36 .61-.38 .61-.39 .61-.4 .61-.4 .61-.4 .61-.39 .62-.37 .61-.36 .61-.34 .61-.3 .61-.28 .62-.25 .61-.2 .61-.17 .61-.12 .61-.08 .61-.04 .62 .01 .61 .06 .61 .1 .61 .14 .61 .19 .61 .22 .61 .26 .62 .29 .61 .32 .61 .35 .61 .37 .61 .38 .62 .39 .61 .4 .61 .4 .61 .4 .61 .38 .61 .38 .62 .35 .61 .33 .61 .3 .61 .27 .61 .24 .61 .19 .61 .16 .62 .12 .61 .07 .61 .02 .61-.02 .61-.07 .61-.11 .62-.15 .61-.19 .61-.23 .61-.27 .61-.3 .62-.33 .61-.35 .61-.37 .61-.38 .61-.4 .61-.4 .61-.4 .62-.39 .61-.39 .61-.37 .61-.34 .61-.33 .61-.29 .62-.27 .61-.22 .61-.19 .61-.15 .61-.1 .62-.06 .61-.02 .61 .03 .61 .08 .61 .12 .61 .16 .61 .2 .62 .24 .61 .28 .61 .3 .61 .34 .61 .35 .61 .38 .62 .38 .61 .4 .61 .4 .61 .4 .61 .39 .62 .38 .61 .37 .61 .34 .61 .32 .61 .29 .61 .25 .61 .22 .62 .18 .61 .14 .61 .09 .61 .05 .61 .01 .61-.04 .62-.09 .61-.13 .61-.17 .61-.21 .61-.25 .62-.28 .61-.31 .61-.34 .61-.36 .61-.38 .61-.39 .61-.4 .62-.4 .61-.4 .61-.39 .61-.37 .61-.36 .61-.34 .62-.31 .61-.29 .61-.24 .61-.21 .61-.17 .62-.13 .61-.08 .61-.04 .61 0 .61 .05 .61 .1 .62 .14 .61 .18 .61 .22 .61 .25 .61 .29 .61 .32 .61 .34 .62 .37 .61 .38 .61 .39 .61 .4 .61 .4 .62 .4 .61 .39 .61 .37 .61 .36 .61 .33 .61 .3 .62 .28 .61 .24 .61 .2 .61 .16 .61 .12 .61 .07 .61 .03 .62-.02 .61-.06 .61-.1 .61-.15 .61-.19 .62-.23 .61-.26 .61-.3 .61-.32 .61-.35 .61-.37 .62-.38 .61-.4 .61-.4 .61-.4 .61-.39 .61-.39 .61-.37 .62-.35 .61-.33 .61-.29 .61-.27 .61-.23 .62-.19 .61-.16 .61-.1 .61-.07 .61-.02 .61 .03 .62 .07 .61 .11 .61 .16 .61 .2 .61 .24 .61 .27 .61 .3 .62 .33 .61 .36 .61 .37 .61 .38 .61 .4 .62 .4 .61 .4 .61 .39 .61 .39 .61 .36 .61 .35 .62 .32 .61 .29 .61 .26 .61 .22 .61 .18 .61 .15 .61 .09 .62 .06 .61 .01 .61-.04 .61-.08 .61-.12 .61-.17 .62-.21 .61-.24 .61-.28 .61-.31 .61-.34 .62-.35 .61-.38 .61-.39 .61-.4 .61-.4 .61-.4 .61-.39 .62-.38 .61-.36 .61-.34 .61-.31 .61-.29 .61-.25 .62-.21 .61-.18 .61-.13 .61-.09 .61-.04 .62 0 .61 .05 .61 .09 .61 .13 .61 .18 .61 .21 .61 .25 .62 .29 .61 .32 .61 .34 .61 .36 .61 .38 .61 .39 .62 .4 .61 .4 .61 .4 .61 .39 .61 .37 .62 .36 .61 .34 .61 .3 .61 .28 .61 .24 .61 .21 .61 .16 .62 .13 .61 .07 .61 .04 .61-.01 .61-.06 .61-.1 .62-.14 .61-.19 .61-.22 .61-.26 .61-.3 .62-.32 .61-.35 .61-.36 .61-.39 .61-.39 .61-.4 .62-.4 .61-.39 .61-.39 .61-.37 .61-.36 .61-.33 .61-.3 .62-.27 .61-.23 .61-.2 .61-.15 .61-.11 .62-.07 .61-.03 .61 .02 .61 .07 .61 .11 .61 .15 .62 .2 .61 .23 .61 .27 .61 .3 .61 .33 .61 .35 .61 .37 .62 .39 .61 .39 .61 .4 .61 .4 .61 .4 .62 .38 .61 .37 .61 .34 .61 .33 .61 .29 .61 .26 .62 .23 .61 .19 .61 .14 .61 .11 .61 .06 .61 .01 .61-.03 .62-.08 .61-.12 .61-.16 .61-.21 .61-.24 .62-.27 .61-.31 .61-.33 .61-.36 .61-.37 .61-.39 .62-.4 .61-.4 .61-.4 .61-.39 .61-.38 .61-.36 .61-.35 .62-.31 .61-.29 .61-.26 .61-.21 .61-.18 .61-.14 .62-.09 .61-.05 .61 0 .61 .04 .61 .08 .62 .14 .61 .17 .61 .21 .61 .25 .61 .28 .61 .31 .61 .34 .62 .36 .61 .38 .61 .39 .61 .4 .61 .4 .61 .4 .62 .39 .61 .38 .61 .36 .61 .33 .61 .31 .62 .28 .61 .25 .61 .21 .61 .17 .61 .13 .61 .08 .61 .04 .62-.01 .61-.05 .61-.1 .61-.14 .61-.18 .61-.22 .62-.26 .61-.29 .61-.32 .61-.34 .61-.36 .62-.39 .61-.39 .61-.4 .61-.4 .61-.4 .61-.38 .61-.38 .62-.35 .61-.33 .61-.31 .61-.27 .61-.24 .61-.2 .62-.16 .61-.12 .61-.07 .61-.03 .61 .02 .62 .06 .61 .11 .61 .15 .61 .19 .61 .23 .61 .26 .61 .3 .62 .32 .61 .35 .61 .37 .61 .39 .61 .39 .61 .4 .62 .4 .61 .4 .61 .38 .61 .37 .61 .35 .62 .33 .61 .29 .61 .27 .61 .23 .61 .19 .61 .15 .62 .11 .61 .06 .61 .02 .61-.03 .61-.07 .61-.12 .61-.15 .62-.2 .61-.24 .61-.27 .61-.31 .61-.33 .62-.35 .61-.37 .61-.39 .61-.4 .61-.4 .61-.4 .62-.39 .61-.38 .61-.37 .61-.34 .61-.32 .61-.29 .61-.26 .62-.22 .61-.19 .61-.14 .61-.09 .61-.06 .62-.01 .61 .04 .61 .08 .61 .13 .61 .17 .61 .21 .62 .24 .61 .28 .61 .31 .61 .34 .61 .36 .61 .37 .61 .39 .62 .4 .61 .4 .61 .4 .61 .39 .61 .38 .62 .36 .61 .34 .61 .31 .61 .29 .61 .25 .61 .21 .62 .17 .61 .13 .61 .09 .61 .05 .61-.01 .61-.04 .61-.1 .62-.13 .61-.18 .61-.22 .61-.25 .61-.29 .62-.31 .61-.34 .61-.37 .61-.38 .61-.39 .61-.4 .62-.4 .61-.4 .61-.38 .61-.38 .61-.36 .61-.33 .61-.31 .62-.27 .61-.25 .61-.2 .61-.16 .61-.13 .61-.07 .62-.04 .61 .02 .61 .05 .61 .11 .61 .14 .62 .19 .61 .22 .61 .26 .61 .3 .61 .32 .61 .35 .61 .36 .62 .39 .61 .39 .61 .4 .61 .4 .61 .4 .61 .38 .62 .37 .61 .36 .61 .33 .61 .3 .61 .26 .62 .24 .61 .19 .61 .16 .61 .11 .61 .07 .61 .02 .61-.02 .62-.07 .61-.11 .61-.16 .61-.19 .61-.24 .61-.26 .62-.3 .61-.33 .61-.36 .61-.37 .61-.38 .62-.4 .61-.4 .61-.4 .61-.39 .61-.39 .61-.36 .61-.35 .62-.32 .61-.3 .61-.26 .61-.22 .61-.19 .61-.14 .62-.11 .61-.05 .61-.02 .61 .04 .61 .07 .62 .13 .61 .16 .61 .2 .61 .25 .61 .27 .61 .31 .62 .33 .61 .36 .61 .38 .61 .38 .61 .4 .61 .4 .61 .4 .62 .39 .61 .38 .61 .37 .61 .34 .61 .31 .62 .29 .61 .25 .61 .22 .61 .18 .61 .13 .61 .1 .62 .04 .61 .01 .61-.05 .61-.09 .61-.13 .61-.17 .61-.21 .62-.25 .61-.29 .61-.31 .61-.34 .61-.36 .62-.38 .61-.39 .61-.4 .61-.4 .61-.4 .61-.39 .62-.37 .61-.36 .61-.34 .61-.31 .61-.28 .61-.24 .61-.21 .62-.17 .61-.13 .61-.08 .61-.04 .61 .01 .62 .06 .61 .09 .61 .14 .61 .19 .61 .22 .61 .26 .62 .29 .61 .32 .61 .34 .61 .37 .61 .38 .61 .39 .61 .4 .62 .4 .61 .4 .61 .39 .61 .37 .61 .35 .61 .33 .62 .31 .61 .27 .61 .24 .61 .2 .61 .15 .62 .12 .61 .07 .61 .03 .61-.02 .61-.06 .61-.11 .61-.15 .62-.19 .61-.23 .61-.27 .61-.29 .61-.33 .61-.35 .62-.37 .61-.38 .61-.4 .61-.4 .61-.4 .62-.39 .61-.39 .61-.37 .61-.35 .61-.32 .61-.3 .61-.26 .62-.23 .61-.19 .61-.15 .61-.11 .61-.06 .61-.02 .62 .03 .61 .07 .61 .12 .61 .16 .61 .2 .62 .24 .61 .27 .61 .31 .61 .33 .61 .35 .61 .38 .61 .38 .62 .4 .61 .4 .61 .4 .61 .39 .61 .39 .61 .36 .62 .34 .61 .32 .61 .29 .61 .26 .61 .22 .62 .18 .61 .14 .61 .1 .61 .05 .61 .01 .61-.04 .61-.08 .62-.13 .61-.17 .61-.21 .61-.25 .61-.28 .61-.31 .62-.33 .61-.36 .61-.38 .61-.39 .61-.4 .62-.4 .61-.4 .61-.39 .61-.38 .61-.36 .61-.34 .62-.31 .61-.28 .61-.25 .61-.21 .61-.17 .61-.14 .61-.08 .62-.04 .61 0 .61 .05 .61 .09 .61 .14 .62 .18 .61 .21 .61 .26 .61 .29 .61 .31 .61 .35 .62 .36 .61 .38 .61 .39 .61 .4 .61 .4 .61 .4 .61 .39 .62 .37 .61 .36 .61 .33 .61 .31 .61 .27 .62 .24 .61 .21 .61 .16 .61 .12 .61 .08 .61 .03 .62-.01 .61-.06 .61-.11 .61-.14 .61-.19 .61-.23 .61-.26 .62-.29 .61-.33 .61-.34 .61-.37 .61-.38 .62-.4 .61-.4 .61-.4 .61-.39 .61-.39 .61-.37 .62-.35 .61-.33 .61-.3 .61-.27 .61-.23 .61-.2 .61-.15 .62-.11 .61-.07 .61-.02 .61 .03 .61 .07 .62 .11 .61 .15 .61 .2 .61 .23 .61 .27 .61 .3 .62 .33 .61 .36 .61 .37 .61 .39 .61 .39 .61 .4 .61 .4 .62 .39 .61 .39 .61 .36 .61 .35 .61 .32 .61 .3 .62 .26 .61 .22 .61 .19 .61 .14 .61 .1 .62 .06 .61 .01 .61-.04 .61-.07 .61-.13 .61-.16 .61-.21 .62-.24 .61-.28 .61-.3 .61-.34 .61-.36 .61-.37 .62-.39 .61-.4 .61-.4 .61-.4 .61-.39 .62-.38 .61-.36 .61-.34 .61-.32 .61-.29 .61-.25 .61-.21 .62-.18 .61-.13 .61-.09 .61-.05 .61 0 .61 .04 .62 .09 .61 .13 .61 .18 .61 .21 .61 .25 .62 .29 .61 .31 .61 .34 .61 .36 .61 .38 .61 .39 .61 .4 .62 .4 .61 .4 .61 .39 .61 .38 .61 .35 .61 .34 .62 .31 .61 .28 .61 .24 .61 .21 .61 .17 .62 .12 .61 .08 .61 .04 .61-.01 .61-.06 .61-.09 .62-.15 .61-.18 .61-.22 .61-.26 .61-.29 .61-.32 .61-.35 .62-.36 .61-.39 .61-.39 .61-.4 .61-.4 .62-.4 .61-.38 .61-.37 .61-.36 .61-.33 .61-.3 .62-.27 .61-.24 .61-.2 .61-.16 .61-.11 .61-.07 .61-.03 .62 .02 .61 .07 .61 .1 .61 .16 .61 .19 .61 .23 .62 .27 .61 .29 .61 .33 .61 .35 .61 .37 .62 .39 .61 .39 .61 .4 .61 .4 .61 .4 .61 .38 .62 .37 .61 .35 .61 .32 .61 .3 .61 .26 .61 .23 .62 .19 .61 .15 .61 .1 .61 .06 .61 .02 .61-.03 .62-.07 .61-.12 .61-.16 .61-.2 .61-.24 .61-.28 .61-.3 .62-.33 .61-.36 .61-.37 .61-.39 .61-.4 .61-.4 .62-.4 .61-.39 .61-.38 .61-.37 .61-.34 .62-.32 .61-.29 .61-.25 .61-.22 .61-.18 .61-.14 .61-.1 .62-.05 .61 0 .61 .04 .61 .08 .61 .13 .61 .17 .62 .21 .61 .24 .61 .29 .61 .31 .61 .34 .61 .36 .62 .37 .61 .39 .61 .4 .61 .4 .61 .4 .61 .39 .62 .38 .61 .36 .61 .34 .61 .31 .61 .28 .62 .25 .61 .21 .61 .17 .61 .13 .61 .09 .61 .04 .62-.01 .61-.05 .61-.09 .61-.14 .61-.18 .61-.22 .61-.25 .62-.29 .61-.32 .61-.34 .61-.37 .61-.38 .61-.39 .62-.4 .61-.4 .61-.4 .61-.38 .61-.38 .62-.35 .61-.34 .61-.3 .61-.28 .61-.24 .61-.2 .62-.16 .61-.12 .61-.08 .61-.03 .61 .02 .61 .06 .61 .1 .62 .15 .61 .19 .61 .22 .61 .27 .61 .29 .62 .33 .61 .34 .61 .37 .61 .39 .61 .39 .61 .4 .61 .4 .62 .4 .61 .38 .61 .37 .61 .35 .61 .33 .61 .3 .62 .27 .61 .23 .61 .19 .61 .15 .61 .11 .62 .07 .61 .02 .61-.02 .61-.07 .61-.12 .61-.16 .62-.19 .61-.24 .61-.27 .61-.3 .61-.33 .61-.35 .61-.38 .62-.38 .61-.4 .61-.4 .61-.4 .61-.39 .61-.38 .62-.37 .61-.35 .61-.32 .61-.29 .61-.26 .62-.22 .61-.19 .61-.14 .61-.1 .61-.06 .61-.01 .62 .04 .61 .08 .61 .12 .61 .17 .61 .2 .61 .25 .61 .28 .62 .3 .61 .34 .61 .36 .61 .37 .61 .39 .61 .4 .62 .4 .61 .4 .61 .39 .61 .38 .61 .36 .61 .34 .62 .32 .61 .28 .61 .26 .61 .21 .61 .18 .62 .13 .61 .09 .61 .04 .61 0 .61-.04 .61-.09 .62-.13 .61-.18 .61-.21 .61-.26 .61-.28 .61-.32 .62-.34 .61-.36 .61-.38 .61-.39 .61-.4 .61-.4 .62-.4 .61-.39 .61-.37 .61-.36 .61-.34 .61-.3 .61-.28 .62-.25 .61-.2 .61-.17 .61-.12 .61-.08 .61-.04 .62 .01 .61 .06 .61 .1 .61 .14 .61 .19 .62 .22 .61 .26 .61 .29 .61 .32 .61 .35 .61 .37 .62 .38 .61 .39 .61 .4 .61 .4 .61 .4 .61 .38 .61 .38 .62 .35 .61 .33 .61 .3 .61 .27 .61 .24 .61 .19 .62 .16 .61 .12 .61 .07 .61 .02 .61-.02 .61-.07 .62-.11 .61-.15 .61-.19 .61-.23 .61-.27 .61-.3 .62-.33 .61-.35 .61-.37 .61-.38 .61-.4 .61-.4 .62-.4 .61-.39 .61-.39 .61-.37 .61-.34 .62-.33 .61-.29 .61-.27 .61-.22 .61-.19 .61-.15 .62-.1 .61-.06 .61-.02 .61 .03 .61 .08 .61 .12 .62 .16 .61 .2 .61 .24 .61 .28 .61 .3 .61 .34 .62 .35 .61 .38 .61 .38 .61 .4 .61 .4 .61 .4 .62 .39 .61 .38 .61 .37 .61 .34 .61 .32 .61 .29 .61 .25 .62 .22 .61 .18 .61 .14 .61 .09 .61 .05 .62 .01 .61-.04 .61-.09 .61-.13 .61-.17 .61-.21 .62-.25 .61-.28 .61-.31 .61-.34 .61-.36 .61-.38 .61-.39 .62-.4 .61-.4 .61-.4 .61-.39 .61-.37 .61-.36 .62-.34 .61-.31 .61-.29 .61-.24 .61-.21 .61-.17 .62-.13 .61-.08 .61-.04 .61 0 .61 .05 .61 .1 .62 .14 .61 .18 .61 .22 .61 .25 .61 .29 .61 .32 .62 .34 .61 .37 .61 .38 .61 .39 .61 .4 .62 .4 .61 .4 .61 .39 .61 .37 .61 .36 .61 .33 .62 .3 .61 .28 .61 .24 .61 .2 .61 .16 .61 .12 .62 .07 .61 .03 .61-.02 .61-.06 .61-.1 .61-.15 .62-.19 .61-.23 .61-.26 .61-.3 .61-.32 .61-.35 .61-.37 .62-.38 .61-.4 .61-.4 .61-.4 .61-.39 .61-.39 .62-.37 .61-.35 .61-.33 .61-.29 .61-.27 .62-.23 .61-.19 .61-.16 .61-.1 .61-.07 .61-.02 .61 .03 .62 .07 .61 .11 .61 .16 .61 .2 .61 .24 .61 .27 .62 .3 .61 .33 .61 .36 .61 .37 .61 .38 .61 .4 .62 .4 .61 .4 .61 .39 .61 .39 .61 .36 .61 .35 .62 .32 .61 .29 .61 .26 .61 .22 .61 .18 .61 .15 .62 .09 .61 .06 .61 .01" stroke="#9400d3" stroke-width="8.5" stroke-dasharray="14.1 18.8"/>
<path id="cJQF2wd" d="M379 992l.61-.03 .61-.22 .61-.41 .62-.63 .61-.89 .61-1.18 .61-1.51 .61-1.86 .61-2.26 .62-2.67 .61-3.08 .61-3.49 .61-3.88 .61-4.23 .62-4.53 .61-4.75 .61-4.91 .61-4.96 .61-4.9 .61-4.75 .62-4.48 .61-4.11 .61-3.62 .61-3.06 .61-2.4 .61-1.7 .61-.94 .62-.17 .61 .61 .61 1.37 .61 2.09 .61 2.76 .62 3.35 .61 3.85 .61 4.26 .61 4.58 .61 4.77 .61 4.88 .62 4.88 .61 4.8 .61 4.63 .61 4.4 .61 4.11 .61 3.78 .61 3.42 .62 3.06 .61 2.68 .61 2.32 .61 1.97 .61 1.64 .61 1.33 .62 1.05 .61 .78 .61 .53 .61 .29 .61 .06 .62-.19 .61-.43 .61-.69 .61-.98 .61-1.29 .61-1.61 .61-1.96 .62-2.33 .61-2.7 .61-3.08 .61-3.44 .61-3.79 .61-4.1 .62-4.37 .61-4.57 .61-4.71 .61-4.76 .61-4.72 .62-4.6 .61-4.36 .61-4.05 .61-3.63 .61-3.13 .61-2.57 .62-1.93 .61-1.26 .61-.55 .61 .17 .61 .87 .61 1.57 .61 2.21 .62 2.81 .61 3.33 .61 3.78 .61 4.14 .61 4.41 .61 4.6 .62 4.69 .61 4.7 .61 4.63 .61 4.49 .61 4.29 .62 4.03 .61 3.76 .61 3.43 .61 3.1 .61 2.76 .61 2.42 .62 2.07 .61 1.75 .61 1.42 .61 1.1 .61 .81 .61 .51 .61 .21 .62-.08 .61-.38 .61-.69 .61-1 .61-1.33 .61-1.67 .62-2.02 .61-2.37 .61-2.73 .61-3.09 .61-3.42 .62-3.74 .61-4.01 .61-4.26 .61-4.43 .61-4.56 .61-4.61 .61-4.58 .62-4.47 .61-4.27 .61-3.99 .61-3.63 .61-3.2 .61-2.69 .62-2.12 .61-1.52 .61-.87 .61-.21 .61 .45 .62 1.1 .61 1.72 .61 2.31 .61 2.84 .61 3.32 .61 3.71 .62 4.04 .61 4.29 .61 4.46 .61 4.54 .61 4.56 .61 4.51 .61 4.39 .62 4.22 .61 4 .61 3.74 .61 3.46 .61 3.14 .61 2.82 .62 2.48 .61 2.14 .61 1.8 .61 1.45 .61 1.11 .62 .77 .61 .43 .61 .08 .61-.26 .61-.61 .61-.96 .62-1.32 .61-1.68 .61-2.04 .61-2.39 .61-2.75 .61-3.09 .61-3.41 .62-3.7 .61-3.96 .61-4.17 .61-4.35 .61-4.45 .62-4.5 .61-4.47 .61-4.37 .61-4.2 .61-3.95 .61-3.63 .62-3.25 .61-2.79 .61-2.28 .61-1.73 .61-1.15 .61-.54 .61 .08 .62 .69 .61 1.29 .61 1.86 .61 2.39 .61 2.87 .61 3.3 .62 3.67 .61 3.96 .61 4.19 .61 4.36 .61 4.44 .62 4.46 .61 4.42 .61 4.33 .61 4.17 .61 3.98 .61 3.74 .61 3.47 .62 3.18 .61 2.85 .61 2.52 .61 2.17 .61 1.8 .62 1.44 .61 1.06 .61 .68 .61 .3 .61-.09 .61-.48 .61-.86 .62-1.26 .61-1.63 .61-2.02 .61-2.38 .61-2.75 .61-3.07 .62-3.4 .61-3.67 .61-3.92 .61-4.12 .61-4.28 .62-4.38 .61-4.42 .61-4.4 .61-4.31 .61-4.15 .61-3.92 .61-3.64 .62-3.29 .61-2.88 .61-2.41 .61-1.92 .61-1.38 .62-.82 .61-.25 .61 .33 .61 .9 .61 1.45 .61 1.97 .62 2.46 .61 2.91 .61 3.29 .61 3.64 .61 3.91 .61 4.12 .61 4.28 .62 4.37 .61 4.4 .61 4.37 .61 4.28 .61 4.15 .62 3.96 .61 3.75 .61 3.48 .61 3.19 .61 2.86 .61 2.52 .62 2.15 .61 1.77 .61 1.38 .61 .96 .61 .55 .61 .13 .61-.29 .62-.72 .61-1.13 .61-1.55 .61-1.95 .61-2.34 .62-2.71 .61-3.05 .61-3.36 .61-3.65 .61-3.89 .61-4.08 .62-4.24 .61-4.33 .61-4.37 .61-4.35 .61-4.27 .61-4.12 .61-3.92 .62-3.65 .61-3.33 .61-2.96 .61-2.54 .61-2.08 .62-1.59 .61-1.06 .61-.53 .61 .01 .61 .55 .61 1.08 .61 1.59 .62 2.08 .61 2.52 .61 2.94 .61 3.31 .61 3.61 .61 3.88 .62 4.09 .61 4.23 .61 4.32 .61 4.36 .61 4.34 .62 4.26 .61 4.13 .61 3.96 .61 3.73 .61 3.48 .61 3.18 .61 2.85 .62 2.49 .61 2.1 .61 1.69 .61 1.27 .61 .83 .61 .38 .62-.07 .61-.52 .61-.97 .61-1.42 .61-1.84 .62-2.25 .61-2.64 .61-3 .61-3.32 .61-3.61 .61-3.86 .61-4.05 .62-4.21 .61-4.3 .61-4.34 .61-4.32 .61-4.25 .61-4.12 .62-3.92 .61-3.68 .61-3.39 .61-3.04 .61-2.65 .62-2.22 .61-1.77 .61-1.28 .61-.79 .61-.27 .61 .24 .61 .74 .62 1.25 .61 1.72 .61 2.17 .61 2.6 .61 2.98 .62 3.32 .61 3.62 .61 3.87 .61 4.06 .61 4.21 .61 4.3 .62 4.34 .61 4.32 .61 4.24 .61 4.12 .61 3.95 .61 3.72 .61 3.46 .62 3.14 .61 2.81 .61 2.42 .61 2.01 .61 1.59 .62 1.12 .61 .66 .61 .19 .61-.29 .61-.78 .61-1.24 .61-1.69 .62-2.13 .61-2.54 .61-2.91 .61-3.26 .61-3.56 .62-3.81 .61-4.03 .61-4.17 .61-4.28 .61-4.33 .61-4.31 .62-4.25 .61-4.13 .61-3.94 .61-3.72 .61-3.45 .61-3.12 .61-2.75 .62-2.37 .61-1.93 .61-1.48 .61-1.01 .61-.53 .62-.05 .61 .45 .61 .92 .61 1.39 .61 1.85 .61 2.26 .62 2.67 .61 3.03 .61 3.35 .61 3.64 .61 3.87 .61 4.07 .61 4.21 .62 4.29 .61 4.33 .61 4.3 .61 4.24 .61 4.1 .62 3.92 .61 3.7 .61 3.41 .61 3.1 .61 2.72 .61 2.33 .62 1.89 .61 1.44 .61 .96 .61 .46 .61-.04 .61-.53 .61-1.03 .62-1.51 .61-1.97 .61-2.4 .61-2.8 .61-3.17 .62-3.49 .61-3.76 .61-3.98 .61-4.14 .61-4.26 .61-4.32 .61-4.32 .62-4.25 .61-4.15 .61-3.99 .61-3.76 .61-3.51 .61-3.21 .62-2.87 .61-2.49 .61-2.09 .61-1.67 .61-1.22 .62-.76 .61-.3 .61 .17 .61 .63 .61 1.09 .61 1.53 .61 1.96 .62 2.36 .61 2.74 .61 3.09 .61 3.39 .61 3.67 .61 3.9 .62 4.08 .61 4.22 .61 4.29 .61 4.33 .61 4.3 .62 4.22 .61 4.08 .61 3.89 .61 3.65 .61 3.35 .61 3.01 .61 2.62 .62 2.2 .61 1.75 .61 1.26 .61 .76 .61 .24 .61-.27 .62-.79 .61-1.29 .61-1.77 .61-2.24 .61-2.66 .62-3.05 .61-3.39 .61-3.68 .61-3.92 .61-4.11 .61-4.24 .62-4.3 .61-4.33 .61-4.27 .61-4.18 .61-4.03 .61-3.83 .61-3.58 .62-3.3 .61-2.98 .61-2.62 .61-2.25 .61-1.83 .61-1.42 .62-.98 .61-.54 .61-.08 .61 .36 .61 .8 .62 1.25 .61 1.66 .61 2.08 .61 2.46 .61 2.82 .61 3.15 .61 3.46 .62 3.71 .61 3.93 .61 4.11 .61 4.23 .61 4.31 .61 4.32 .62 4.3 .61 4.19 .61 4.05 .61 3.84 .61 3.58 .62 3.27 .61 2.9 .61 2.49 .61 2.05 .61 1.56 .61 1.07 .62 .54 .61 .01 .61-.52 .61-1.05 .61-1.55 .61-2.04 .61-2.48 .62-2.9 .61-3.27 .61-3.58 .61-3.85 .61-4.05 .62-4.21 .61-4.29 .61-4.32 .61-4.3 .61-4.21 .61-4.08 .62-3.9 .61-3.67 .61-3.39 .61-3.1 .61-2.75 .61-2.39 .61-2.01 .62-1.6 .61-1.19 .61-.75 .61-.33 .61 .11 .62 .55 .61 .97 .61 1.39 .61 1.8 .61 2.19 .61 2.56 .62 2.91 .61 3.23 .61 3.52 .61 3.76 .61 3.98 .61 4.14 .61 4.26 .62 4.31 .61 4.33 .61 4.28 .61 4.16 .61 4 .62 3.78 .61 3.49 .61 3.15 .61 2.77 .61 2.33 .61 1.87 .61 1.37 .62 .84 .61 .31 .61-.24 .61-.77 .61-1.3 .61-1.81 .62-2.28 .61-2.72 .61-3.12 .61-3.46 .61-3.75 .62-3.98 .61-4.16 .61-4.26 .61-4.33 .61-4.31 .61-4.25 .61-4.13 .62-3.97 .61-3.75 .61-3.5 .61-3.21 .61-2.89 .61-2.54 .62-2.17 .61-1.78 .61-1.38 .61-.97 .61-.55 .62-.13 .61 .3 .61 .71 .61 1.14 .61 1.53 .61 1.94 .61 2.31 .62 2.67 .61 3 .61 3.31 .61 3.59 .61 3.83 .61 4.02 .62 4.18 .61 4.28 .61 4.32 .61 4.32 .61 4.25 .62 4.12 .61 3.94 .61 3.68 .61 3.38 .61 3.02 .61 2.61 .62 2.16 .61 1.67 .61 1.15 .61 .61 .61 .06 .61-.49 .62-1.03 .61-1.55 .61-2.06 .61-2.51 .61-2.94 .61-3.31 .62-3.63 .61-3.88 .61-4.09 .61-4.23 .61-4.3 .61-4.33 .61-4.28 .62-4.18 .61-4.04 .61-3.84 .61-3.6 .61-3.33 .61-3.03 .62-2.69 .61-2.34 .61-1.96 .61-1.57 .61-1.17 .61-.77 .62-.35 .61 .06 .61 .48 .61 .88 .61 1.29 .62 1.69 .61 2.06 .61 2.44 .61 2.78 .61 3.1 .61 3.4 .62 3.67 .61 3.89 .61 4.08 .61 4.21 .61 4.3 .61 4.32 .61 4.3 .62 4.22 .61 4.06 .61 3.84 .61 3.58 .61 3.25 .62 2.86 .61 2.43 .61 1.96 .61 1.45 .61 .92 .61 .36 .62-.19 .61-.74 .61-1.28 .61-1.8 .61-2.29 .61-2.73 .61-3.13 .62-3.48 .61-3.77 .61-4 .61-4.17 .61-4.27 .62-4.32 .61-4.3 .61-4.23 .61-4.1 .61-3.93 .61-3.71 .62-3.45 .61-3.16 .61-2.85 .61-2.5 .61-2.14 .61-1.76 .61-1.37 .62-.97 .61-.57 .61-.17 .61 .25 .61 .64 .62 1.05 .61 1.45 .61 1.83 .61 2.2 .61 2.56 .61 2.9 .61 3.21 .62 3.5 .61 3.74 .61 3.96 .61 4.13 .61 4.24 .61 4.31 .62 4.32 .61 4.27 .61 4.15 .61 3.98 .61 3.75 .62 3.44 .61 3.1 .61 2.68 .61 2.24 .61 1.74 .61 1.22 .61 .67 .62 .12 .61-.45 .61-.99 .61-1.53 .61-2.03 .61-2.5 .62-2.93 .61-3.31 .61-3.63 .61-3.88 .61-4.09 .62-4.22 .61-4.3 .61-4.31 .61-4.26 .61-4.16 .61-4.01 .61-3.81 .62-3.58 .61-3.3 .61-2.99 .61-2.67 .61-2.32 .61-1.95 .62-1.56 .61-1.18 .61-.79 .61-.38 .61 .02 .62 .42 .61 .82 .61 1.21 .61 1.6 .61 1.98 .61 2.34 .62 2.69 .61 3.02 .61 3.32 .61 3.59 .61 3.83 .61 4.02 .61 4.17 .62 4.27 .61 4.31 .61 4.29 .61 4.23 .61 4.08 .61 3.88 .62 3.62 .61 3.3 .61 2.92 .61 2.49 .61 2.02 .62 1.51 .61 .98 .61 .42 .61-.14 .61-.69 .61-1.24 .61-1.76 .62-2.26 .61-2.7 .61-3.11 .61-3.46 .61-3.75 .61-3.98 .62-4.15 .61-4.25 .61-4.3 .61-4.29 .61-4.21 .61-4.08 .62-3.91 .61-3.69 .61-3.43 .61-3.15 .61-2.83 .62-2.5 .61-2.13 .61-1.77 .61-1.38 .61-1 .61-.6 .61-.2 .62 .2 .61 .59 .61 .99 .61 1.38 .61 1.76 .62 2.13 .61 2.49 .61 2.82 .61 3.14 .61 3.43 .61 3.68 .62 3.9 .61 4.08 .61 4.21 .61 4.28 .61 4.3 .61 4.26 .61 4.16 .62 4 .61 3.76 .61 3.48 .61 3.12 .61 2.73 .62 2.28 .61 1.79 .61 1.27 .61 .73 .61 .17 .61-.39 .62-.94 .61-1.48 .61-1.98 .61-2.46 .61-2.88 .61-3.27 .61-3.59 .62-3.85 .61-4.06 .61-4.19 .61-4.27 .61-4.28 .62-4.25 .61-4.14 .61-3.99 .61-3.8 .61-3.57 .61-3.3 .61-2.99 .62-2.67 .61-2.33 .61-1.96 .61-1.59 .61-1.21 .61-.81 .62-.42 .61-.02 .61 .37 .61 .77 .61 1.16 .62 1.54 .61 1.93 .61 2.28 .61 2.63 .61 2.96 .61 3.26 .61 3.54 .62 3.77 .61 3.98 .61 4.12 .61 4.24 .61 4.28 .61 4.27 .62 4.21 .61 4.08 .61 3.88 .61 3.63 .61 3.31 .62 2.94 .61 2.52 .61 2.06 .61 1.55 .61 1.03 .61 .47 .61-.08 .62-.64 .61-1.18 .61-1.7 .61-2.19 .61-2.65 .62-3.05 .61-3.4 .61-3.7 .61-3.93 .61-4.11 .61-4.22 .62-4.27 .61-4.25 .61-4.19 .61-4.07 .61-3.9 .61-3.69 .61-3.44 .62-3.15 .61-2.85 .61-2.51 .61-2.16 .61-1.8 .62-1.41 .61-1.03 .61-.64 .61-.24 .61 .15 .61 .55 .62 .95 .61 1.33 .61 1.72 .61 2.08 .61 2.44 .61 2.78 .61 3.09 .62 3.38 .61 3.64 .61 3.86 .61 4.03 .61 4.17 .62 4.25 .61 4.27 .61 4.23 .61 4.13 .61 3.98 .61 3.76 .61 3.47 .62 3.13 .61 2.74 .61 2.3 .61 1.82 .61 1.31 .61 .77 .62 .22 .61-.33 .61-.87 .61-1.41 .61-1.92 .62-2.38 .61-2.82 .61-3.19 .61-3.52 .61-3.79 .61-4 .61-4.14 .62-4.23 .61-4.25 .61-4.21 .61-4.13 .61-3.99 .62-3.8 .61-3.57 .61-3.31 .61-3.02 .61-2.7 .61-2.36 .62-1.99 .61-1.63 .61-1.25 .61-.85 .61-.46 .61-.07 .61 .34 .62 .73 .61 1.12 .61 1.51 .61 1.88 .61 2.25 .62 2.59 .61 2.92 .61 3.23 .61 3.5 .61 3.73 .61 3.93 .62 4.09 .61 4.2 .61 4.24 .61 4.24 .61 4.17 .61 4.05 .61 3.85 .62 3.61 .61 3.3 .61 2.94 .61 2.53 .61 2.07 .62 1.58 .61 1.05 .61 .52 .61-.02 .61-.58 .61-1.11 .62-1.62 .61-2.11 .61-2.57 .61-2.96 .61-3.32 .61-3.63 .61-3.86 .62-4.04 .61-4.16 .61-4.22 .61-4.22 .61-4.17 .62-4.05 .61-3.9 .61-3.7 .61-3.46 .61-3.18 .61-2.88 .61-2.55 .62-2.21 .61-1.84 .61-1.46 .61-1.07 .61-.68 .61-.29 .62 .12 .61 .51 .61 .91 .61 1.3 .61 1.69 .62 2.05 .61 2.41 .61 2.75 .61 3.07 .61 3.35 .61 3.6 .62 3.83 .61 4 .61 4.12 .61 4.21 .61 4.22 .61 4.19 .62 4.1 .61 3.93 .61 3.73 .61 3.44 .61 3.11 .61 2.74 .62 2.3 .61 1.83 .61 1.33 .61 .81 .61 .27 .61-.27 .61-.81 .62-1.33 .61-1.83 .61-2.29 .61-2.73 .61-3.1 .61-3.43 .62-3.7 .61-3.92 .61-4.08 .61-4.16 .61-4.21 .61-4.18 .62-4.11 .61-3.98 .61-3.8 .61-3.6 .61-3.33 .62-3.06 .61-2.74 .61-2.41 .61-2.05 .61-1.67 .61-1.3 .62-.91 .61-.5 .61-.11 .61 .3 .61 .7 .61 1.09 .61 1.48 .62 1.86 .61 2.23 .61 2.58 .61 2.9 .61 3.2 .61 3.47 .62 3.7 .61 3.9 .61 4.05 .61 4.15 .61 4.2 .61 4.19 .62 4.12 .61 4 .61 3.81 .61 3.57 .61 3.27 .61 2.91 .62 2.52 .61 2.06 .61 1.59 .61 1.09 .61 .56 .62 .02 .61-.51 .61-1.03 .61-1.54 .61-2.01 .61-2.47 .62-2.86 .61-3.22 .61-3.53 .61-3.77 .61-3.96 .61-4.09 .61-4.16 .62-4.18 .61-4.14 .61-4.04 .61-3.9 .61-3.71 .62-3.48 .61-3.22 .61-2.93 .61-2.6 .61-2.26 .61-1.9 .61-1.51 .62-1.13 .61-.74 .61-.32 .61 .07 .61 .48 .61 .89 .62 1.27 .61 1.67 .61 2.04 .61 2.39 .61 2.74 .62 3.04 .61 3.34 .61 3.58 .61 3.79 .61 3.96 .61 4.09 .62 4.16 .61 4.17 .61 4.14 .61 4.04 .61 3.88 .61 3.67 .61 3.4 .62 3.08 .61 2.7 .61 2.29 .61 1.83 .61 1.34 .62 .84 .61 .31 .61-.21 .61-.73 .61-1.25 .61-1.73 .61-2.19 .62-2.62 .61-2.99 .61-3.33 .61-3.6 .61-3.82 .61-4 .62-4.09 .61-4.15 .61-4.15 .61-4.08 .61-3.97 .62-3.82 .61-3.61 .61-3.37 .61-3.1 .61-2.79 .61-2.47 .62-2.11 .61-1.74 .61-1.35 .61-.96 .61-.56 .61-.15 .62 .27 .61 .66 .61 1.07 .61 1.47 .61 1.85 .61 2.21 .62 2.56 .61 2.89 .61 3.19 .61 3.45 .61 3.68 .61 3.87 .61 4.01 .62 4.1 .61 4.15 .61 4.14 .61 4.06 .61 3.94 .61 3.76 .62 3.51 .61 3.22 .61 2.87 .61 2.49 .61 2.05 .62 1.59 .61 1.1 .61 .59 .61 .08 .61-.44 .61-.95 .62-1.45 .61-1.91 .61-2.36 .61-2.75 .61-3.11 .61-3.41 .61-3.67 .62-3.87 .61-4.01 .61-4.09 .61-4.13 .61-4.1 .62-4.02 .61-3.9 .61-3.73 .61-3.51 .61-3.26 .61-2.98 .61-2.66 .62-2.32 .61-1.96 .61-1.58 .61-1.18 .61-.79 .61-.38 .62 .04 .61 .45 .61 .85 .61 1.26 .61 1.65 .61 2.03 .62 2.39 .61 2.73 .61 3.03 .61 3.32 .61 3.56 .62 3.76 .61 3.93 .61 4.05 .61 4.11 .61 4.12 .61 4.07 .62 3.98 .61 3.82 .61 3.61 .61 3.34 .61 3.03 .61 2.66 .61 2.26 .62 1.82 .61 1.35 .61 .86 .61 .36 .61-.16 .62-.66 .61-1.16 .61-1.63 .61-2.09 .61-2.5 .61-2.87 .61-3.21 .62-3.49 .61-3.72 .61-3.9 .61-4.02 .61-4.09 .61-4.09 .62-4.06 .61-3.96 .61-3.82 .61-3.63 .61-3.41 .62-3.15 .61-2.84 .61-2.53 .61-2.17 .61-1.81 .61-1.41 .62-1.02 .61-.61 .61-.19 .61 .22 .61 .64 .61 1.05 .61 1.45 .62 1.83 .61 2.21 .61 2.56 .61 2.88 .61 3.17 .62 3.43 .61 3.66 .61 3.84 .61 3.97 .61 4.06 .61 4.1 .61 4.07 .62 4 .61 3.87 .61 3.69 .61 3.45 .61 3.17 .61 2.82 .62 2.45 .61 2.03 .61 1.58 .61 1.12 .61 .62 .62 .12 .61-.38 .61-.87 .61-1.35 .61-1.81 .61-2.24 .62-2.63 .61-2.99 .61-3.3 .61-3.55 .61-3.77 .61-3.92 .62-4.02 .61-4.07 .61-4.06 .61-4 .61-3.89 .61-3.74 .61-3.54 .62-3.3 .61-3.02 .61-2.72 .61-2.38 .61-2.03 .62-1.64 .61-1.25 .61-.84 .61-.43 .61 0 .61 .41 .61 .83 .62 1.24 .61 1.64 .61 2.02 .61 2.38 .61 2.71 .61 3.03 .62 3.3 .61 3.54 .61 3.74 .61 3.89 .61 4 .62 4.06 .61 4.06 .61 4.02 .61 3.91 .61 3.75 .61 3.54 .62 3.28 .61 2.97 .61 2.62 .61 2.23 .61 1.8 .61 1.35 .61 .88 .62 .39 .61-.1 .61-.59 .61-1.08 .61-1.53 .61-1.97 .62-2.39 .61-2.75 .61-3.09 .61-3.37 .61-3.62 .61-3.8 .62-3.93 .61-4.01 .61-4.05 .61-4.02 .61-3.94 .61-3.82 .62-3.65 .61-3.44 .61-3.19 .61-2.9 .61-2.58 .62-2.24 .61-1.86 .61-1.48 .61-1.08 .61-.66 .61-.24 .62 .19 .61 .61 .61 1.02 .61 1.43 .61 1.82 .61 2.2 .61 2.55 .62 2.86 .61 3.17 .61 3.41 .61 3.63 .61 3.81 .62 3.93 .61 4.01 .61 4.04 .61 4.02 .61 3.93 .61 3.8 .61 3.62 .62 3.39 .61 3.1 .61 2.77 .61 2.41 .61 2 .61 1.58 .62 1.12 .61 .64 .61 .17 .61-.32 .61-.79 .62-1.26 .61-1.71 .61-2.12 .61-2.52 .61-2.87 .61-3.17 .62-3.45 .61-3.65 .61-3.83 .61-3.94 .61-4 .61-4.02 .61-3.97 .62-3.88 .61-3.74 .61-3.56 .61-3.33 .61-3.07 .62-2.77 .61-2.44 .61-2.09 .61-1.7 .61-1.31 .61-.9 .61-.47 .62-.05 .61 .38 .61 .8 .61 1.22 .61 1.62 .61 2 .62 2.37 .61 2.7 .61 3.01 .61 3.29 .61 3.51 .62 3.71 .61 3.86 .61 3.95 .61 4.01 .61 4 .61 3.95 .62 3.84 .61 3.68 .61 3.48 .61 3.21 .61 2.92 .61 2.57 .62 2.19 .61 1.79 .61 1.34 .61 .89 .61 .43 .61-.06 .62-.52 .61-.99 .61-1.43 .61-1.87 .61-2.27 .61-2.63 .61-2.97 .62-3.26 .61-3.5 .61-3.7 .61-3.84 .61-3.94 .61-3.99 .62-3.97 .61-3.92 .61-3.82 .61-3.65 .61-3.46 .62-3.23 .61-2.94 .61-2.64 .61-2.29 .61-1.93 .61-1.53 .62-1.13 .61-.72 .61-.28 .61 .14 .61 .58 .61 .99 .62 1.41 .61 1.8 .61 2.18 .61 2.53 .61 2.86 .61 3.14 .61 3.39 .62 3.6 .61 3.77 .61 3.89 .61 3.96 .61 3.99 .61 3.95 .62 3.86 .61 3.74 .61 3.55 .61 3.32 .61 3.04 .61 2.72 .62 2.37 .61 1.98 .61 1.56 .61 1.12 .61 .67 .61 .2 .62-.26 .61-.72 .61-1.17 .61-1.6 .61-2.02 .62-2.4 .61-2.75 .61-3.06 .61-3.33 .61-3.55 .61-3.73 .62-3.86 .61-3.93 .61-3.96 .61-3.93 .61-3.86 .61-3.74 .61-3.57 .62-3.36 .61-3.1 .61-2.81 .61-2.5 .61-2.13 .62-1.77 .61-1.36 .61-.95 .61-.52 .61-.09 .61 .34 .61 .77 .62 1.18 .61 1.6 .61 1.98 .61 2.35 .61 2.68 .61 2.99 .62 3.26 .61 3.49 .61 3.67 .61 3.82 .61 3.9 .62 3.95 .61 3.94 .61 3.89 .61 3.77 .61 3.62 .61 3.4 .62 3.16 .61 2.86 .61 2.53 .61 2.16 .61 1.76 .61 1.34 .61 .9 .62 .46 .61-.01 .61-.46 .61-.91 .61-1.34 .62-1.77 .61-2.15 .61-2.53 .61-2.85 .61-3.14 .61-3.39 .62-3.6 .61-3.75 .61-3.87 .61-3.92 .61-3.92 .61-3.89 .61-3.79 .62-3.66 .61-3.47 .61-3.25 .61-2.98 .61-2.67 .62-2.34 .61-1.98 .61-1.59 .61-1.18 .61-.77 .61-.33 .62 .11 .61 .53 .61 .96 .61 1.38 .61 1.78 .61 2.15 .61 2.51 .62 2.83 .61 3.11 .61 3.36 .61 3.57 .61 3.73 .62 3.84 .61 3.91 .61 3.92 .61 3.89 .61 3.8 .61 3.67 .62 3.48 .61 3.26 .61 2.98 .61 2.68 .61 2.33 .61 1.95 .61 1.55 .62 1.12 .61 .69 .61 .25 .61-.21 .61-.65 .61-1.09 .62-1.51 .61-1.92 .61-2.29 .61-2.63 .61-2.95 .62-3.22 .61-3.45 .61-3.63 .61-3.77 .61-3.86 .61-3.9 .61-3.89 .62-3.83 .61-3.73 .61-3.56 .61-3.37 .61-3.13 .61-2.84 .62-2.54 .61-2.18 .61-1.81 .61-1.41 .61-1 .62-.57 .61-.13 .61 .3 .61 .73 .61 1.15 .61 1.56 .61 1.96 .62 2.32 .61 2.65 .61 2.96 .61 3.22 .61 3.45 .61 3.63 .62 3.77 .61 3.85 .61 3.89 .61 3.88 .61 3.82 .62 3.71 .61 3.55 .61 3.35 .61 3.1 .61 2.81 .61 2.48 .61 2.13 .62 1.75 .61 1.34 .61 .91 .61 .48 .61 .04 .61-.4 .62-.84 .61-1.26 .61-1.67 .61-2.05 .61-2.42 .62-2.74 .61-3.03 .61-3.29 .61-3.5 .61-3.66 .61-3.78 .61-3.85 .62-3.87 .61-3.85 .61-3.77 .61-3.64 .61-3.47 .61-3.26 .62-3 .61-2.71 .61-2.37 .61-2.02 .61-1.63 .62-1.23 .61-.81 .61-.38 .61 .06 .61 .5 .61 .92 .62 1.34 .61 1.75 .61 2.12 .61 2.47 .61 2.79 .61 3.07 .61 3.32 .62 3.53 .61 3.68 .61 3.78 .61 3.85 .61 3.87 .62 3.82 .61 3.74 .61 3.6 .61 3.43 .61 3.19 .61 2.94 .62 2.63 .61 2.29 .61 1.93 .61 1.54 .61 1.14 .61 .71 .61 .27 .62-.15 .61-.59 .61-1.02 .61-1.42 .61-1.82 .62-2.19 .61-2.53 .61-2.84 .61-3.11 .61-3.35 .61-3.54 .62-3.68 .61-3.79 .61-3.83 .61-3.84 .61-3.79 .61-3.7 .61-3.56 .62-3.36 .61-3.14 .61-2.87 .61-2.55 .61-2.22 .62-1.85 .61-1.45 .61-1.04 .61-.61 .61-.19 .61 .26 .62 .69 .61 1.11 .61 1.53 .61 1.91 .61 2.28 .61 2.61 .61 2.92 .62 3.18 .61 3.4 .61 3.58 .61 3.71 .61 3.8 .62 3.83 .61 3.82 .61 3.75 .61 3.65 .61 3.49 .61 3.29 .62 3.04 .61 2.77 .61 2.44 .61 2.11 .61 1.73 .61 1.34 .61 .93 .62 .5 .61 .09 .61-.35 .61-.77 .61-1.18 .61-1.59 .62-1.96 .61-2.31 .61-2.64 .61-2.93 .61-3.18 .62-3.4 .61-3.58 .61-3.7 .61-3.78 .61-3.81 .61-3.79 .61-3.74 .62-3.61 .61-3.46 .61-3.26 .61-3.01 .61-2.72 .61-2.4 .62-2.05 .61-1.67 .61-1.27 .61-.85 .61-.42 .62 .02 .61 .45 .61 .88 .61 1.3 .61 1.7 .61 2.07 .61 2.43 .62 2.75 .61 3.02 .61 3.27 .61 3.47 .61 3.62 .61 3.73 .62 3.79 .61 3.8 .61 3.76 .61 3.68 .61 3.54 .62 3.37 .61 3.14 .61 2.89 .61 2.59 .61 2.27 .61 1.91 .61 1.53 .62 1.14 .61 .73 .61 .31 .61-.11 .61-.53 .61-.94 .62-1.35 .61-1.73 .61-2.09 .61-2.43 .61-2.74 .62-3.02 .61-3.25 .61-3.44 .61-3.6 .61-3.71 .61-3.77 .62-3.78 .61-3.74 .61-3.66 .61-3.53 .61-3.36 .61-3.13 .61-2.87 .62-2.58 .61-2.24 .61-1.87 .61-1.49 .61-1.08 .62-.65 .61-.22 .61 .21 .61 .64 .61 1.07 .61 1.48 .62 1.86 .61 2.23 .61 2.56 .61 2.87 .61 3.12 .61 3.35 .61 3.52 .62 3.65 .61 3.73 .61 3.77 .61 3.76 .61 3.69 .62 3.58 .61 3.43 .61 3.23 .61 3 .61 2.72 .61 2.42 .62 2.08 .61 1.72 .61 1.34 .61 .95 .61 .53 .61 .12 .61-.3 .62-.7 .61-1.12 .61-1.5 .61-1.87 .61-2.22 .62-2.54 .61-2.83 .61-3.09 .61-3.31 .61-3.48 .61-3.62 .62-3.7 .61-3.75 .61-3.74 .61-3.68 .61-3.59 .61-3.43 .61-3.24 .62-3.01 .61-2.73 .61-2.41 .61-2.07 .61-1.7 .61-1.3 .62-.88 .61-.46 .61-.03 .61 .41 .61 .83 .62 1.25 .61 1.65 .61 2.02 .61 2.37 .61 2.69 .61 2.97 .61 3.21 .62 3.4 .61 3.56 .61 3.67 .61 3.72 .61 3.74 .61 3.69 .62 3.62 .61 3.48 .61 3.31 .61 3.09 .61 2.85 .62 2.55 .61 2.24 .61 1.9 .61 1.53 .61 1.15 .61 .75 .61 .34 .62-.07 .61-.47 .61-.88 .61-1.27 .61-1.65 .61-2.01 .62-2.34 .61-2.64 .61-2.92 .61-3.15 .61-3.36 .62-3.51 .61-3.63 .61-3.69 .61-3.72 .61-3.69 .61-3.62 .61-3.49 .62-3.33 .61-3.12 .61-2.87 .61-2.57 .61-2.25 .61-1.9 .62-1.51 .61-1.11 .61-.69 .61-.27 .61 .17 .62 .6 .61 1.01 .61 1.43 .61 1.81 .61 2.17 .61 2.5 .61 2.8 .62 3.06 .61 3.28 .61 3.46 .61 3.58 .61 3.67 .61 3.7 .62 3.69 .61 3.62 .61 3.53 .61 3.37 .61 3.18 .62 2.95 .61 2.69 .61 2.39 .61 2.06 .61 1.71 .61 1.34 .62 .96 .61 .56 .61 .15 .61-.24 .61-.65 .61-1.05 .61-1.42 .62-1.79 .61-2.13 .61-2.45 .61-2.74 .61-3 .62-3.21 .61-3.4 .61-3.53 .61-3.63 .61-3.67 .61-3.68 .62-3.63 .61-3.54 .61-3.4 .61-3.22 .61-2.99 .61-2.72 .61-2.41 .62-2.08 .61-1.72 .61-1.32 .61-.92 .61-.5 .62-.07 .61 .36 .61 .78 .61 1.2 .61 1.59 .61 1.96 .62 2.31 .61 2.62 .61 2.9 .61 3.14 .61 3.34 .61 3.49 .61 3.59 .62 3.66 .61 3.66 .61 3.64 .61 3.54 .61 3.43 .62 3.25 .61 3.05 .61 2.8 .61 2.53 .61 2.22 .61 1.88 .62 1.53 .61 1.15 .61 .77 .61 .37 .61-.02 .61-.43 .61-.81 .62-1.21 .61-1.57 .61-1.92 .61-2.25 .61-2.56 .62-2.82 .61-3.06 .61-3.27 .61-3.43 .61-3.54 .61-3.62 .62-3.65 .61-3.62 .61-3.57 .61-3.45 .61-3.3 .61-3.09 .61-2.85 .62-2.57 .61-2.25 .61-1.91 .61-1.53 .61-1.13 .61-.73 .62-.3 .61 .12 .61 .55 .61 .96 .61 1.37 .62 1.74 .61 2.11 .61 2.44 .61 2.73 .61 2.99 .61 3.2 .61 3.39 .62 3.51 .61 3.59 .61 3.63 .61 3.62 .61 3.56 .61 3.46 .62 3.32 .61 3.13 .61 2.91 .61 2.65 .61 2.36 .62 2.04 .61 1.71 .61 1.34 .61 .97 .61 .58 .61 .2 .61-.21 .62-.59 .61-.98 .61-1.35 .61-1.72 .61-2.04 .61-2.37 .62-2.65 .61-2.9 .61-3.12 .61-3.31 .61-3.45 .62-3.54 .61-3.61 .61-3.6 .61-3.58 .61-3.48 .61-3.36 .61-3.18 .62-2.96 .61-2.71 .61-2.41 .61-2.08 .61-1.73 .61-1.34 .62-.95 .61-.53 .61-.11 .61 .31 .61 .73 .62 1.14 .61 1.53 .61 1.89 .61 2.24 .61 2.55 .61 2.83 .62 3.07 .61 3.26 .61 3.41 .61 3.52 .61 3.58 .61 3.59 .61 3.57 .62 3.48 .61 3.36 .61 3.2 .61 3.01 .61 2.76 .62 2.49 .61 2.2 .61 1.87 .61 1.52 .61 1.17 .61 .78 .62 .41 .61 .01 .61-.38 .61-.76 .61-1.13 .61-1.5 .61-1.84 .62-2.17 .61-2.47 .61-2.73 .61-2.98 .61-3.17 .62-3.34 .61-3.46 .61-3.54 .61-3.57 .61-3.56 .61-3.51 .62-3.4 .61-3.25 .61-3.06 .61-2.82 .61-2.56 .61-2.25 .61-1.9 .62-1.55 .61-1.15 .61-.75 .61-.34 .61 .08 .62 .49 .61 .91 .61 1.3 .61 1.68 .61 2.04 .61 2.36 .62 2.66 .61 2.91 .61 3.13 .61 3.3 .61 3.43 .61 3.52 .61 3.55 .62 3.55 .61 3.49 .61 3.4 .61 3.26 .61 3.08 .61 2.86 .62 2.62 .61 2.33 .61 2.03 .61 1.69 .61 1.35 .62 .98 .61 .61 .61 .23 .61-.17 .61-.54 .61-.92 .61-1.28 .62-1.64 .61-1.97 .61-2.27 .61-2.56 .61-2.82 .61-3.03 .62-3.22 .61-3.36 .61-3.46 .61-3.52 .61-3.54 .62-3.5 .61-3.43 .61-3.31 .61-3.13 .61-2.93 .61-2.69 .61-2.39 .62-2.08 .61-1.73 .61-1.36 .61-.97 .61-.56 .61-.15 .62 .27 .61 .67 .61 1.08 .61 1.46 .61 1.83 .62 2.17 .61 2.47 .61 2.75 .61 2.98 .61 3.18 .61 3.33 .61 3.44 .62 3.5 .61 3.52 .61 3.49 .61 3.42 .61 3.3 .61 3.14 .62 2.96 .61 2.72 .61 2.46 .61 2.17 .61 1.86 .62 1.52 .61 1.17 .61 .81 .61 .43 .61 .05 .61-.33 .61-.71 .62-1.07 .61-1.43 .61-1.76 .61-2.09 .61-2.38 .61-2.64 .62-2.89 .61-3.08 .61-3.25 .61-3.37 .61-3.46 .62-3.49 .61-3.49 .61-3.44 .61-3.34 .61-3.2 .61-3.02 .62-2.79 .61-2.54 .61-2.23 .61-1.9 .61-1.55 .61-1.18 .61-.77 .62-.38 .61 .04 .61 .45 .61 .85 .61 1.24 .62 1.61 .61 1.96 .61 2.29 .61 2.57 .61 2.83 .61 3.04 .62 3.22 .61 3.35 .61 3.43 .61 3.48 .61 3.47 .61 3.42 .61 3.33 .62 3.2 .61 3.03 .61 2.82 .61 2.57 .61 2.31 .62 2.01 .61 1.69 .61 1.35 .61 .99 .61 .63 .61 .25 .62-.12 .61-.49 .61-.86 .61-1.22 .61-1.56 .61-1.89 .61-2.19 .62-2.48 .61-2.72 .61-2.94 .61-3.13 .61-3.27 .62-3.37 .61-3.44 .61-3.46 .61-3.43 .61-3.36 .61-3.25 .62-3.09 .61-2.89 .61-2.65 .61-2.38 .61-2.07 .61-1.73 .61-1.36 .62-.99 .61-.59 .61-.19 .61 .22 .61 .63 .62 1.01 .61 1.4 .61 1.75 .61 2.09 .61 2.4 .61 2.66 .62 2.9 .61 3.09 .61 3.25 .61 3.35 .61 3.42 .61 3.44 .61 3.41 .62 3.35 .61 3.23 .61 3.09 .61 2.9 .61 2.68 .61 2.43 .62 2.15 .61 1.84 .61 1.52 .61 1.17 .61 .82 .62 .46 .61 .08 .61-.28 .61-.65 .61-1.01 .61-1.36 .61-1.69 .62-2 .61-2.3 .61-2.56 .61-2.79 .61-2.99 .61-3.16 .62-3.28 .61-3.37 .61-3.41 .61-3.41 .61-3.37 .62-3.27 .61-3.15 .61-2.97 .61-2.75 .61-2.51 .61-2.21 .61-1.9 .62-1.55 .61-1.18 .61-.8 .61-.41 .61 0 .61 .39 .62 .8 .61 1.17 .61 1.54 .61 1.89 .61 2.21 .62 2.49 .61 2.74 .61 2.96 .61 3.13 .61 3.26 .61 3.34 .61 3.4 .62 3.39 .61 3.34 .61 3.26 .61 3.14 .61 2.97 .61 2.77 .62 2.54 .61 2.27 .61 1.99 .61 1.68 .61 1.35 .62 1 .61 .65 .61 .28 .61-.08 .61-.44 .61-.81 .62-1.15 .61-1.49 .61-1.81 .61-2.11 .61-2.39 .61-2.63 .61-2.85 .62-3.03 .61-3.18 .61-3.28 .61-3.36 .61-3.37 .62-3.35 .61-3.3 .61-3.18 .61-3.04 .61-2.84 .61-2.62 .62-2.34 .61-2.06 .61-1.72 .61-1.37 .61-1 .61-.62 .61-.22 .62 .18 .61 .57 .61 .95 .61 1.33 .61 1.68 .61 2.01 .62 2.31 .61 2.58 .61 2.81 .61 3 .61 3.15 .62 3.27 .61 3.33 .61 3.35 .61 3.34 .61 3.27 .61 3.17 .62 3.02 .61 2.85 .61 2.63 .61 2.4 .61 2.12 .61 1.82 .62 1.51 .61 1.18 .61 .83 .61 .48 .61 .12 .61-.24 .62-.6 .61-.95 .61-1.29 .61-1.61 .61-1.93 .61-2.21 .61-2.46 .62-2.7 .61-2.9 .61-3.06 .61-3.19 .61-3.28 .61-3.32 .62-3.33 .61-3.29 .61-3.21 .61-3.08 .61-2.92 .62-2.71 .61-2.47 .61-2.19 .61-1.89 .61-1.54 .61-1.2 .61-.82 .62-.43 .61-.04 .61 .35 .61 .73 .61 1.11 .61 1.48 .62 1.81 .61 2.12 .61 2.4 .61 2.65 .61 2.87 .61 3.04 .62 3.17 .61 3.25 .61 3.31 .61 3.3 .61 3.27 .61 3.19 .62 3.07 .61 2.91 .61 2.72 .61 2.49 .61 2.24 .62 1.97 .61 1.66 .61 1.34 .61 1.01 .61 .67 .61 .31 .62-.04 .61-.4 .61-.75 .61-1.09 .61-1.42 .61-1.73 .61-2.02 .62-2.3 .61-2.54 .61-2.76 .61-2.93 .61-3.09 .61-3.19 .62-3.26 .61-3.28 .61-3.28 .61-3.21 .61-3.12 .62-2.97 .61-2.8 .61-2.57 .61-2.32 .61-2.03 .61-1.71 .62-1.38 .61-1.01 .61-.64 .61-.25 .61 .13 .61 .52 .61 .89 .62 1.26 .61 1.61 .61 1.93 .61 2.22 .61 2.49 .62 2.72 .61 2.91 .61 3.06 .61 3.17 .61 3.24 .61 3.27 .61 3.25 .62 3.19 .61 3.1 .61 2.96 .61 2.79 .61 2.58 .61 2.35 .62 2.09 .61 1.81 .61 1.5 .61 1.17 .61 .85 .62 .5 .61 .15 .61-.2 .61-.55 .61-.89 .61-1.22 .62-1.54 .61-1.84 .61-2.13 .61-2.37 .61-2.61 .61-2.8 .61-2.96 .62-3.1 .61-3.18 .61-3.23 .61-3.24 .61-3.21 .61-3.14 .62-3.01 .61-2.86 .61-2.67 .61-2.43 .61-2.16 .62-1.86 .61-1.55 .61-1.19 .61-.84 .61-.46 .61-.08 .62 .31 .61 .68 .61 1.04 .61 1.4 .61 1.73 .61 2.04 .61 2.32 .62 2.56 .61 2.77 .61 2.94 .61 3.08 .61 3.16 .61 3.21 .62 3.22 .61 3.19 .61 3.11 .61 2.99 .61 2.85 .61 2.66 .62 2.45 .61 2.2 .61 1.94 .61 1.65 .61 1.33 .62 1.01 .61 .68 .61 .34 .61-.01 .61-.35 .61-.69 .62-1.03 .61-1.34 .61-1.66 .61-1.94 .61-2.21 .61-2.44 .62-2.66 .61-2.84 .61-2.99 .61-3.09 .61-3.16 .61-3.2 .62-3.19 .61-3.13 .61-3.05 .61-2.91 .61-2.73 .61-2.53 .61-2.28 .62-2.01 .61-1.7 .61-1.37 .61-1.02 .61-.66 .61-.28 .62 .09 .61 .47 .61 .83 .61 1.2 .61 1.53 .62 1.84 .61 2.14 .61 2.4 .61 2.62 .61 2.81 .61 2.97 .62 3.07 .61 3.15 .61 3.17 .61 3.17 .61 3.11 .61 3.02 .61 2.89 .62 2.72 .61 2.54 .61 2.3 .61 2.06 .61 1.78 .61 1.48 .62 1.18 .61 .85 .61 .52 .61 .18 .61-.17 .61-.49 .62-.84 .61-1.15 .61-1.47 .61-1.75 .61-2.04 .61-2.28 .62-2.51 .61-2.7 .61-2.87 .61-2.99 .61-3.09 .61-3.13 .62-3.16 .61-3.12 .61-3.05 .61-2.95 .61-2.79 .62-2.61 .61-2.39 .61-2.13 .61-1.84 .61-1.54 .61-1.19 .62-.85 .61-.48 .61-.12 .61 .26 .61 .63 .61 .98 .62 1.33 .61 1.65 .61 1.95 .61 2.23 .61 2.47 .61 2.67 .62 2.84 .61 2.98 .61 3.07 .61 3.11 .61 3.13 .61 3.1 .62 3.03 .61 2.92 .61 2.77 .61 2.61 .61 2.39 .61 2.17 .61 1.9 .62 1.62 .61 1.33 .61 1.01 .61 .7 .61 .36 .62 .02 .61-.31 .61-.64 .61-.96 .61-1.28 .61-1.57 .62-1.86 .61-2.11 .61-2.36 .61-2.55 .61-2.74 .61-2.89 .61-2.99 .62-3.07 .61-3.1 .61-3.09 .61-3.05 .61-2.97 .61-2.84 .62-2.67 .61-2.48 .61-2.24 .61-1.98 .61-1.68 .61-1.36 .62-1.03 .61-.67 .61-.32 .61 .06 .61 .42 .61 .77 .62 1.13 .61 1.45 .61 1.77 .61 2.05 .61 2.3 .61 2.53 .62 2.71 .61 2.87 .61 2.97 .61 3.05 .61 3.08 .62 3.07 .61 3.02 .61 2.94 .61 2.81 .61 2.67 .61 2.47 .62 2.26 .61 2.01 .61 1.76 .61 1.46 .61 1.17 .61 .86 .62 .53 .61 .21 .61-.13 .61-.45 .61-.77 .61-1.09 .62-1.39 .61-1.68 .61-1.94 .61-2.19 .61-2.41 .61-2.6 .61-2.77 .62-2.89 .61-2.98 .61-3.04 .61-3.05 .61-3.04 .61-2.97 .62-2.87 .61-2.72 .61-2.55 .61-2.34 .61-2.1 .62-1.81 .61-1.52 .61-1.2 .61-.85 .61-.51 .61-.14 .61 .21 .62 .57 .61 .92 .61 1.26 .61 1.57 .61 1.87 .61 2.14 .62 2.37 .61 2.57 .61 2.75 .61 2.87 .61 2.97 .61 3.01 .62 3.04 .61 3 .61 2.94 .61 2.84 .61 2.71 .61 2.54 .62 2.34 .61 2.11 .61 1.87 .61 1.6 .61 1.31 .61 1.01 .62 .7 .61 .38 .61 .06" stroke="#009e73" stroke-width="6" stroke-dasharray="11.3 13.3"/>
</g>
<rect x="402" y="1120" width="1762" height="225" fill="#fff"/>
<rect x="379" y="47" width="1835" height="1323" fill="none" stroke="#000" stroke-width="4" shape-rendering="crispEdges"/>
<g id="key" shape-rendering="crispEdges" fill="none">
<line x1="610" y1="1160.5" x2="812" y2="1160.5" stroke="#000" stroke-width="9"/>
<line x1="610" y1="1236.5" x2="812" y2="1236.5" stroke="#e51e10" stroke-width="9"/>
<line x1="610" y1="1312.0" x2="812" y2="1312.0" stroke="#9400d3" stroke-width="8"/>
<line x1="1264" y1="1161.0" x2="1467" y2="1161.0" stroke="#009e73" stroke-width="6.5"/>
<line x1="1264" y1="1236.5" x2="1467" y2="1236.5" stroke="#000" stroke-width="9.5" stroke-dasharray="18.4 22.4"/>
<line x1="1264" y1="1312.0" x2="1467" y2="1312.0" stroke="#e51e10" stroke-width="9.5" stroke-dasharray="18.4 22.4"/>
<line x1="1919" y1="1160.5" x2="2122" y2="1160.5" stroke="#9400d3" stroke-width="8.5" stroke-dasharray="14.1 18.8"/>
<line x1="1919" y1="1236.0" x2="2122" y2="1236.0" stroke="#009e73" stroke-width="6" stroke-dasharray="11.3 13.3"/>
</g>
<g id="keytext" filter="url(#crisp)">
<text id="t1" clip-path="url(#cp_t1)" class="kl" transform="translate(565.0 1186.0) scale(1 1.050)">DQ1</text>
<text id="t2" clip-path="url(#cp_t2)" class="kl" transform="translate(565.0 1261.0) scale(1 1.050)">JQF1</text>
<text id="t3" class="kl" transform="translate(565.0 1337.0) scale(1 1.050)">DQ2</text>
<text id="t4" clip-path="url(#cp_t4)" class="kl" transform="translate(1220.0 1186.0) scale(1 1.050)">JQF2</text>
<text id="t5" clip-path="url(#cp_t5)" class="kl" transform="translate(1220.0 1261.0) scale(1 1.050)">DQ1, wd</text>
<text id="t6" clip-path="url(#cp_t6)" class="kl" transform="translate(1220.0 1337.0) scale(1 1.050)">JQF1, wd</text>
<text id="t7" class="kl" transform="translate(1874.0 1186.0) scale(1 1.050)">DQ2, wd</text>
<text id="t8" clip-path="url(#cp_t8)" class="kl" transform="translate(1874.0 1261.0) scale(1 1.050)">JQF2, wd</text>
</g>
<g id="ylabels" text-anchor="end" filter="url(#crisp)">
<text id="t9" clip-path="url(#cp_t9)" class="tk" transform="translate(331.5 73.3) scale(1 1.035)">1</text>
<text id="t10" class="tk" transform="translate(331.5 262.3) scale(1 1.035)">0.8</text>
<text id="t11" class="tk" transform="translate(331.5 451.3) scale(1 1.035)">0.6</text>
<text id="t12" class="tk" transform="translate(331.5 640.3) scale(1 1.035)">0.4</text>
<text id="t13" class="tk" transform="translate(331.5 829.3) scale(1 1.035)">0.2</text>
<text id="t14" class="tk" transform="translate(331.5 1018.3) scale(1 1.035)">0</text>
<text id="t15" class="tk" transform="translate(331.5 1207.3) scale(1 1.035)"><tspan dy="7">−</tspan><tspan dy="-7">0.2</tspan></text>
<text id="t16" class="tk" transform="translate(331.5 1396.3) scale(1 1.035)"><tspan dy="7">−</tspan><tspan dy="-7">0.4</tspan></text>
</g>
<g id="xlabels" text-anchor="middle" filter="url(#crisp)">
<text id="t17" class="tk" transform="translate(389.7 1474.7) scale(1 1.025)">0</text>
<text id="t18" class="tk" transform="translate(695.5 1474.7) scale(1 1.025)">50</text>
<text id="t19" clip-path="url(#cp_t19)" class="tk" transform="translate(1001.4 1474.7) scale(1 1.025)">100</text>
<text id="t20" clip-path="url(#cp_t20)" class="tk" transform="translate(1307.2 1474.7) scale(1 1.025)">150</text>
<text id="t21" class="tk" transform="translate(1613.0 1474.7) scale(1 1.025)">200</text>
<text id="t22" class="tk" transform="translate(1918.9 1474.7) scale(1 1.025)">250</text>
<text id="t23" class="tk" transform="translate(2224.7 1474.7) scale(1 1.025)">300</text>
</g>
<g id="xtitle" filter="url(#crisp)">
<text id="t24" class="tk" transform="translate(1296.5 1592.3) scale(1 1.000)" text-anchor="middle">t [ps]</text>
</g>
<g id="ytitle" filter="url(#crisp)">
<g id="ylabel" transform="translate(94.7 779.5) rotate(-90)">
<text id="t25" class="tk" text-anchor="middle" transform="translate(11.15 0) scale(0.8 1)">|</text>
<text id="t26" class="tk" x="21.5" y="0" style="font-family:'Liberation Serif',serif;font-size:88px">α</text>
<text id="t27" class="tk" x="71.8" y="24" style="font-size:64px">j</text>
<text id="t28" class="tk" text-anchor="middle" transform="translate(96.15 0) scale(0.8 1)">|</text>
<text id="t29" class="tk" x="103.9" y="-40" style="font-size:65.5px">2</text>
</g>
</g>
</svg></body></html>
